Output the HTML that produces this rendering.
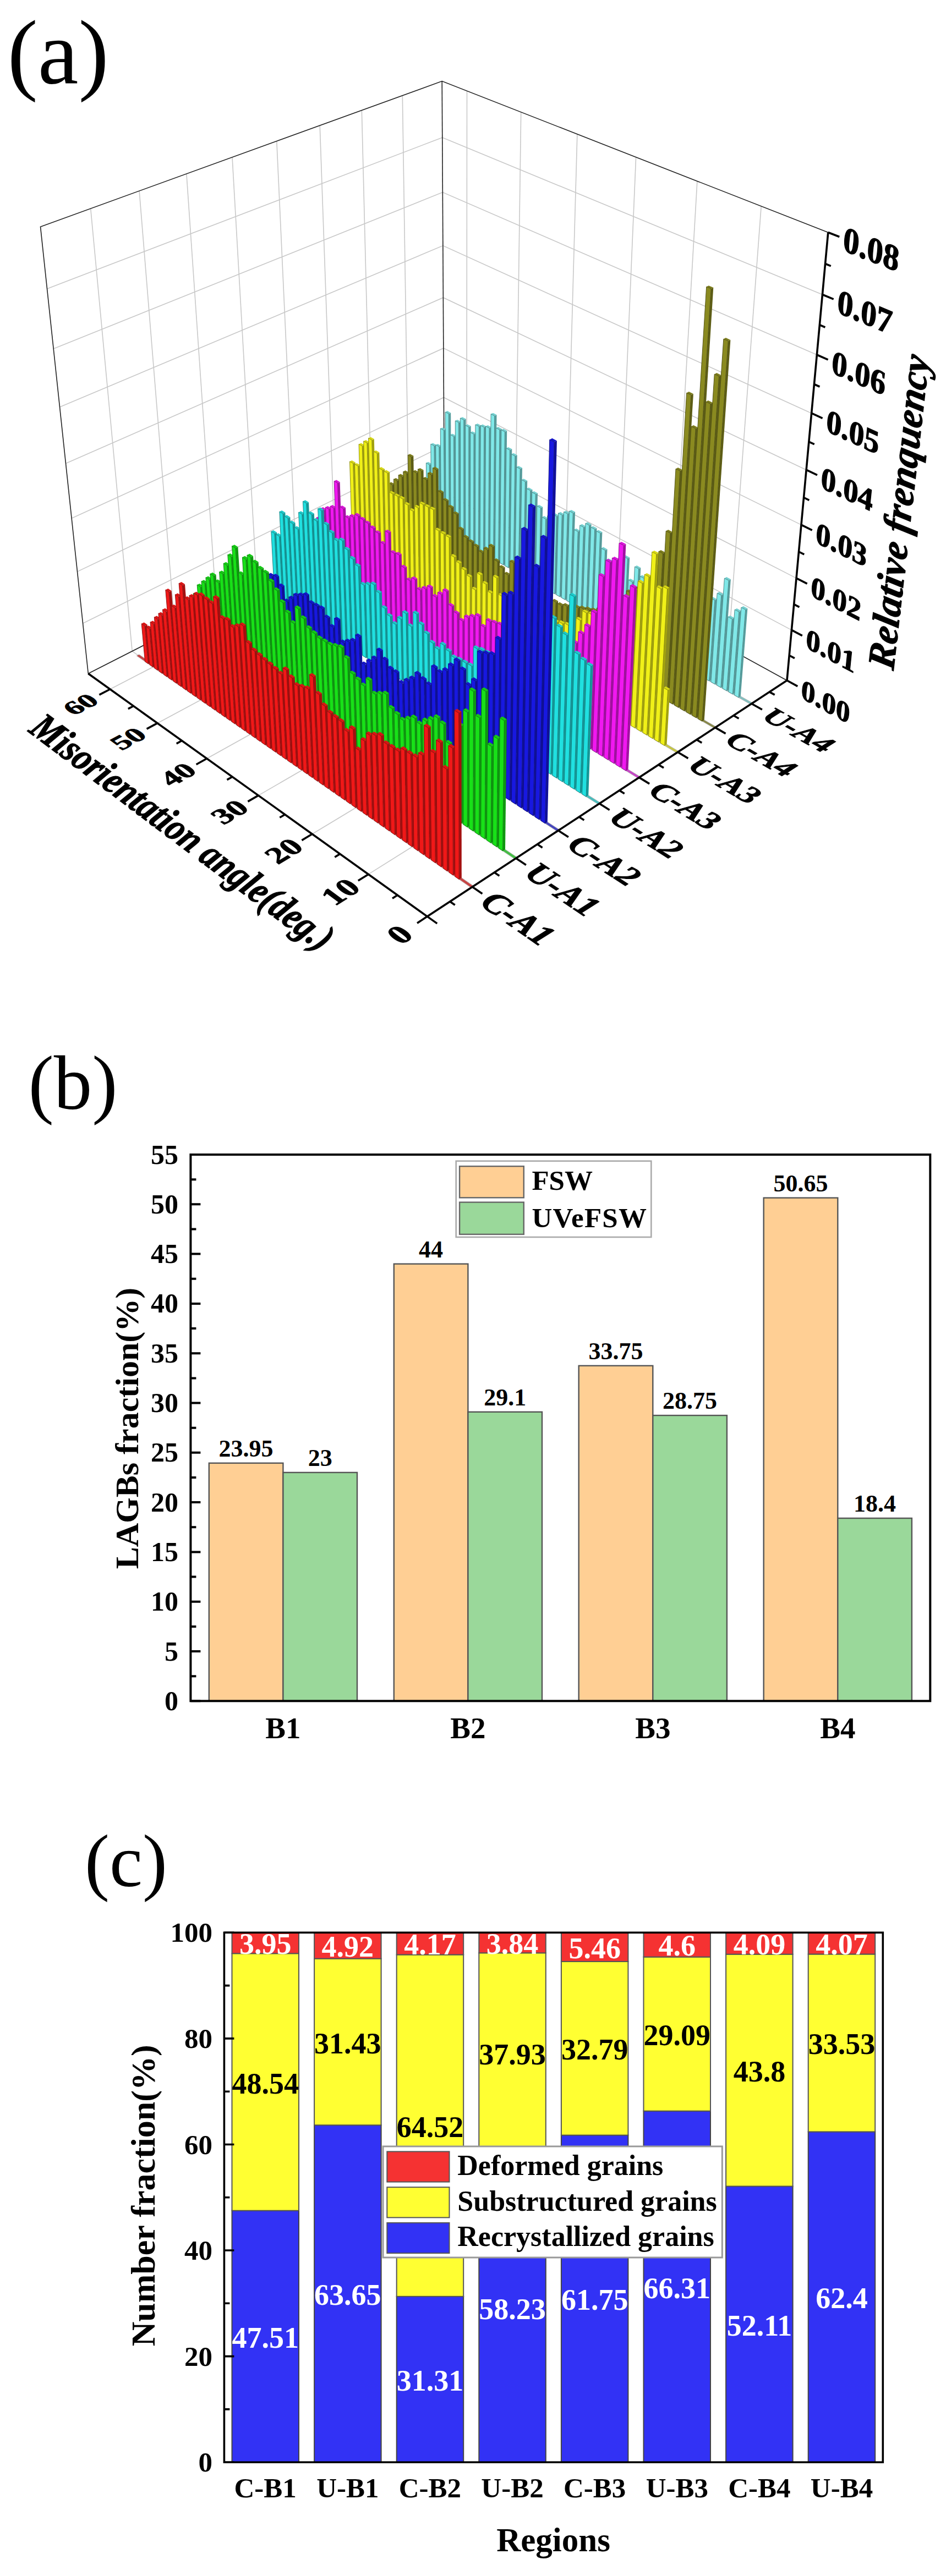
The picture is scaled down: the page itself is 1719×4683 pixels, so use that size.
<!DOCTYPE html>
<html><head><meta charset="utf-8"><title>Figure</title>
<style>html,body{margin:0;padding:0;background:#fff}svg{display:block}</style></head>
<body>
<svg width="1719" height="4683" viewBox="0 0 1719 4683">
<rect width="1719" height="4683" fill="#fff"/>
<g font-family="'Liberation Serif',serif" fill="#000">
<text x="13.5" y="151" font-size="166">(a)</text>
</g>
<g fill="none" stroke="#c8c8c8" stroke-width="1.6">
<path d="M240.2,1183.9 L164.7,379.1"/>
<path d="M317.9,1144.3 L253.1,347.1"/>
<path d="M393.5,1105.8 L338.9,316"/>
<path d="M467,1068.3 L422,285.8"/>
<path d="M538.7,1031.8 L502.8,256.6"/>
<path d="M608.4,996.2 L581.2,228.1"/>
<path d="M676.4,961.6 L657.3,200.5"/>
<path d="M742.7,927.9 L731.3,173.7"/>
<path d="M150.5,1133.2 L806.8,809.8 L1438.4,1145.4"/>
<path d="M140.5,1039.1 L806.4,722.5 L1447.1,1051.1"/>
<path d="M130.1,942.3 L805.9,632.9 L1456,954.1"/>
<path d="M119.5,842.6 L805.4,541 L1465.1,854.2"/>
<path d="M108.5,739.9 L804.9,446.6 L1474.6,751.2"/>
<path d="M97.2,634 L804.3,349.6 L1484.4,645"/>
<path d="M85.5,524.9 L803.8,250 L1494.4,535.5"/>
<path d="M1323.4,1178.4 L1383.2,374.9"/>
<path d="M1220.9,1122.1 L1266.9,329.3"/>
<path d="M1122.3,1068 L1155.6,285.7"/>
<path d="M1027.4,1015.9 L1048.9,243.9"/>
<path d="M936.1,965.7 L946.7,203.8"/>
<path d="M848,917.3 L848.5,165.4"/>
<path d="M669.4,1589.4 L1323.4,1178.4"/>
<path d="M567.2,1516.2 L1220.9,1122.1"/>
<path d="M469.4,1446.1 L1122.3,1068"/>
<path d="M375.8,1379 L1027.4,1015.9"/>
<path d="M286,1314.7 L936.1,965.7"/>
<path d="M199.9,1253 L848,917.3"/>
<path d="M858.3,1612.3 L240.2,1183.9"/>
<path d="M937.6,1560.3 L317.9,1144.3"/>
<path d="M1014.5,1509.8 L393.5,1105.8"/>
<path d="M1089,1460.8 L467,1068.3"/>
<path d="M1161.3,1413.4 L538.7,1031.8"/>
<path d="M1231.5,1367.3 L608.4,996.2"/>
<path d="M1299.6,1322.6 L676.4,961.6"/>
<path d="M1365.7,1279.2 L742.7,927.9"/>
</g>
<g fill="none" stroke="#222" stroke-width="1.6">
<path d="M160.3,1224.5 L73.5,412.2 L803.2,147.6 L1504.8,422.5"/>
<path d="M807.3,894.9 L803.2,147.6"/>
<path d="M160.3,1224.5 L807.3,894.9 L1430,1237"/>
</g>
<path d="M1363.9,1280.4 L751.5,934.8 L755.2,932.9 L1367.5,1278Z" fill="#66b9b9" stroke="#888" stroke-width="0.8" opacity="0.75"/>
<g stroke-linejoin="round"><path d="M781.5,951.7 L785.2,949.8 L784.3,843.1 L780.5,844.9Z" fill="#579d9d"/><path d="M780.5,844.9 L774.4,841.6 L778.1,839.8 L784.3,843.1Z" fill="#73d0d0"/><path d="M781.5,951.7 L775.5,948.3 L774.4,841.6 L780.5,844.9Z" fill="#80e8e8" stroke="#467f7f" stroke-width="0.9"/><path d="M790.2,956.6 L793.9,954.7 L792.8,808.7 L789,810.5Z" fill="#579d9d"/><path d="M789,810.5 L782.8,807.2 L786.6,805.4 L792.8,808.7Z" fill="#73d0d0"/><path d="M790.2,956.6 L784.1,953.2 L782.8,807.2 L789,810.5Z" fill="#80e8e8" stroke="#467f7f" stroke-width="0.9"/><path d="M798.9,961.5 L802.6,959.6 L801.6,810.2 L797.9,812Z" fill="#579d9d"/><path d="M797.9,812 L791.7,808.7 L795.4,806.9 L801.6,810.2Z" fill="#73d0d0"/><path d="M798.9,961.5 L792.8,958.1 L791.7,808.7 L797.9,812Z" fill="#80e8e8" stroke="#467f7f" stroke-width="0.9"/><path d="M807.6,966.5 L811.3,964.5 L810.4,780.5 L806.6,782.3Z" fill="#579d9d"/><path d="M806.6,782.3 L800.3,779 L804.1,777.2 L810.4,780.5Z" fill="#73d0d0"/><path d="M807.6,966.5 L801.5,963 L800.3,779 L806.6,782.3Z" fill="#80e8e8" stroke="#467f7f" stroke-width="0.9"/><path d="M816.4,971.4 L820,969.5 L819.2,750.4 L815.4,752.2Z" fill="#579d9d"/><path d="M815.4,752.2 L809.1,749 L812.9,747.1 L819.2,750.4Z" fill="#73d0d0"/><path d="M816.4,971.4 L810.2,967.9 L809.1,749 L815.4,752.2Z" fill="#80e8e8" stroke="#467f7f" stroke-width="0.9"/><path d="M825.1,976.3 L828.8,974.4 L828.4,791.7 L824.6,793.6Z" fill="#579d9d"/><path d="M824.6,793.6 L818.3,790.3 L822.1,788.4 L828.4,791.7Z" fill="#73d0d0"/><path d="M825.1,976.3 L819,972.9 L818.3,790.3 L824.6,793.6Z" fill="#80e8e8" stroke="#467f7f" stroke-width="0.9"/><path d="M833.9,981.3 L837.6,979.4 L837.4,766.4 L833.6,768.2Z" fill="#579d9d"/><path d="M833.6,768.2 L827.3,764.9 L831,763.1 L837.4,766.4Z" fill="#73d0d0"/><path d="M833.9,981.3 L827.8,977.8 L827.3,764.9 L833.6,768.2Z" fill="#80e8e8" stroke="#467f7f" stroke-width="0.9"/><path d="M842.8,986.3 L846.5,984.4 L846.6,761.6 L842.8,763.4Z" fill="#579d9d"/><path d="M842.8,763.4 L836.4,760.1 L840.2,758.3 L846.6,761.6Z" fill="#73d0d0"/><path d="M842.8,986.3 L836.6,982.8 L836.4,760.1 L842.8,763.4Z" fill="#80e8e8" stroke="#467f7f" stroke-width="0.9"/><path d="M851.7,991.3 L855.3,989.4 L855.7,774.5 L851.9,776.4Z" fill="#579d9d"/><path d="M851.9,776.4 L845.5,773.1 L849.3,771.2 L855.7,774.5Z" fill="#73d0d0"/><path d="M851.7,991.3 L845.5,987.8 L845.5,773.1 L851.9,776.4Z" fill="#80e8e8" stroke="#467f7f" stroke-width="0.9"/><path d="M860.6,996.4 L864.3,994.4 L864.9,787.5 L861.1,789.4Z" fill="#579d9d"/><path d="M861.1,789.4 L854.7,786 L858.5,784.2 L864.9,787.5Z" fill="#73d0d0"/><path d="M860.6,996.4 L854.3,992.8 L854.7,786 L861.1,789.4Z" fill="#80e8e8" stroke="#467f7f" stroke-width="0.9"/><path d="M869.5,1001.4 L873.2,999.4 L874.2,773.4 L870.4,775.2Z" fill="#579d9d"/><path d="M870.4,775.2 L863.9,771.9 L867.7,770 L874.2,773.4Z" fill="#73d0d0"/><path d="M869.5,1001.4 L863.3,997.9 L863.9,771.9 L870.4,775.2Z" fill="#80e8e8" stroke="#467f7f" stroke-width="0.9"/><path d="M878.5,1006.5 L882.2,1004.5 L883.5,774.9 L879.7,776.8Z" fill="#579d9d"/><path d="M879.7,776.8 L873.2,773.4 L877,771.5 L883.5,774.9Z" fill="#73d0d0"/><path d="M878.5,1006.5 L872.2,1002.9 L873.2,773.4 L879.7,776.8Z" fill="#80e8e8" stroke="#467f7f" stroke-width="0.9"/><path d="M887.5,1011.6 L891.2,1009.6 L892.9,776.4 L889.1,778.3Z" fill="#579d9d"/><path d="M889.1,778.3 L882.5,774.9 L886.3,773 L892.9,776.4Z" fill="#73d0d0"/><path d="M887.5,1011.6 L881.2,1008 L882.5,774.9 L889.1,778.3Z" fill="#80e8e8" stroke="#467f7f" stroke-width="0.9"/><path d="M896.6,1016.7 L900.3,1014.7 L902.5,754.1 L898.7,756Z" fill="#579d9d"/><path d="M898.7,756 L892.1,752.6 L895.9,750.8 L902.5,754.1Z" fill="#73d0d0"/><path d="M896.6,1016.7 L890.2,1013.1 L892.1,752.6 L898.7,756Z" fill="#80e8e8" stroke="#467f7f" stroke-width="0.9"/><path d="M905.7,1021.8 L909.3,1019.8 L911.7,779.4 L907.9,781.3Z" fill="#579d9d"/><path d="M907.9,781.3 L901.3,777.9 L905.1,776 L911.7,779.4Z" fill="#73d0d0"/><path d="M905.7,1021.8 L899.3,1018.2 L901.3,777.9 L907.9,781.3Z" fill="#80e8e8" stroke="#467f7f" stroke-width="0.9"/><path d="M914.8,1026.9 L918.5,1024.9 L921.2,783 L917.4,784.9Z" fill="#579d9d"/><path d="M917.4,784.9 L910.8,781.5 L914.6,779.6 L921.2,783Z" fill="#73d0d0"/><path d="M914.8,1026.9 L908.4,1023.3 L910.8,781.5 L917.4,784.9Z" fill="#80e8e8" stroke="#467f7f" stroke-width="0.9"/><path d="M923.9,1032.1 L927.6,1030.1 L930.3,816.3 L926.5,818.3Z" fill="#579d9d"/><path d="M926.5,818.3 L919.9,814.8 L923.7,812.9 L930.3,816.3Z" fill="#73d0d0"/><path d="M923.9,1032.1 L917.5,1028.5 L919.9,814.8 L926.5,818.3Z" fill="#80e8e8" stroke="#467f7f" stroke-width="0.9"/><path d="M933.1,1037.3 L936.8,1035.3 L939.7,827.2 L935.9,829.1Z" fill="#579d9d"/><path d="M935.9,829.1 L929.3,825.6 L933.1,823.7 L939.7,827.2Z" fill="#73d0d0"/><path d="M933.1,1037.3 L926.7,1033.6 L929.3,825.6 L935.9,829.1Z" fill="#80e8e8" stroke="#467f7f" stroke-width="0.9"/><path d="M942.3,1042.5 L946,1040.5 L949,850.5 L945.2,852.4Z" fill="#579d9d"/><path d="M945.2,852.4 L938.5,848.9 L942.3,847 L949,850.5Z" fill="#73d0d0"/><path d="M942.3,1042.5 L935.9,1038.8 L938.5,848.9 L945.2,852.4Z" fill="#80e8e8" stroke="#467f7f" stroke-width="0.9"/><path d="M951.6,1047.7 L955.3,1045.7 L958.2,873.8 L954.4,875.7Z" fill="#579d9d"/><path d="M954.4,875.7 L947.8,872.2 L951.5,870.3 L958.2,873.8Z" fill="#73d0d0"/><path d="M951.6,1047.7 L945.1,1044 L947.8,872.2 L954.4,875.7Z" fill="#80e8e8" stroke="#467f7f" stroke-width="0.9"/><path d="M960.9,1052.9 L964.6,1050.9 L967.5,889.9 L963.8,891.8Z" fill="#579d9d"/><path d="M963.8,891.8 L957.1,888.3 L960.8,886.3 L967.5,889.9Z" fill="#73d0d0"/><path d="M960.9,1052.9 L954.4,1049.3 L957.1,888.3 L963.8,891.8Z" fill="#80e8e8" stroke="#467f7f" stroke-width="0.9"/><path d="M970.2,1058.2 L973.9,1056.2 L977,896.4 L973.3,898.4Z" fill="#579d9d"/><path d="M973.3,898.4 L966.6,894.9 L970.4,892.9 L977,896.4Z" fill="#73d0d0"/><path d="M970.2,1058.2 L963.7,1054.5 L966.6,894.9 L973.3,898.4Z" fill="#80e8e8" stroke="#467f7f" stroke-width="0.9"/><path d="M979.6,1063.5 L983.2,1061.4 L986.2,921.4 L982.5,923.4Z" fill="#579d9d"/><path d="M982.5,923.4 L975.8,919.8 L979.5,917.8 L986.2,921.4Z" fill="#73d0d0"/><path d="M979.6,1063.5 L973,1059.8 L975.8,919.8 L982.5,923.4Z" fill="#80e8e8" stroke="#467f7f" stroke-width="0.9"/><path d="M989,1068.8 L992.6,1066.7 L995.5,941.7 L991.7,943.7Z" fill="#579d9d"/><path d="M991.7,943.7 L985,940.1 L988.8,938.1 L995.5,941.7Z" fill="#73d0d0"/><path d="M989,1068.8 L982.4,1065.1 L985,940.1 L991.7,943.7Z" fill="#80e8e8" stroke="#467f7f" stroke-width="0.9"/><path d="M998.4,1074.1 L1002.1,1072 L1005.3,939.2 L1001.5,941.2Z" fill="#579d9d"/><path d="M1001.5,941.2 L994.8,937.6 L998.5,935.6 L1005.3,939.2Z" fill="#73d0d0"/><path d="M998.4,1074.1 L991.8,1070.4 L994.8,937.6 L1001.5,941.2Z" fill="#80e8e8" stroke="#467f7f" stroke-width="0.9"/><path d="M1007.9,1079.5 L1011.5,1077.4 L1015.2,936.7 L1011.4,938.7Z" fill="#579d9d"/><path d="M1011.4,938.7 L1004.6,935.1 L1008.4,933.1 L1015.2,936.7Z" fill="#73d0d0"/><path d="M1007.9,1079.5 L1001.2,1075.7 L1004.6,935.1 L1011.4,938.7Z" fill="#80e8e8" stroke="#467f7f" stroke-width="0.9"/><path d="M1017.4,1084.8 L1021.1,1082.7 L1025.1,934.4 L1021.3,936.4Z" fill="#579d9d"/><path d="M1021.3,936.4 L1014.5,932.8 L1018.3,930.8 L1025.1,934.4Z" fill="#73d0d0"/><path d="M1017.4,1084.8 L1010.7,1081.1 L1014.5,932.8 L1021.3,936.4Z" fill="#80e8e8" stroke="#467f7f" stroke-width="0.9"/><path d="M1026.9,1090.2 L1030.6,1088.1 L1035.1,932.1 L1031.3,934.1Z" fill="#579d9d"/><path d="M1031.3,934.1 L1024.5,930.5 L1028.2,928.4 L1035.1,932.1Z" fill="#73d0d0"/><path d="M1026.9,1090.2 L1020.2,1086.4 L1024.5,930.5 L1031.3,934.1Z" fill="#80e8e8" stroke="#467f7f" stroke-width="0.9"/><path d="M1036.5,1095.6 L1040.2,1093.5 L1045.1,930.6 L1041.3,932.7Z" fill="#579d9d"/><path d="M1041.3,932.7 L1034.4,929 L1038.2,927 L1045.1,930.6Z" fill="#73d0d0"/><path d="M1036.5,1095.6 L1029.8,1091.8 L1034.4,929 L1041.3,932.7Z" fill="#80e8e8" stroke="#467f7f" stroke-width="0.9"/><path d="M1046.1,1101 L1049.8,1098.9 L1054,964.5 L1050.3,966.5Z" fill="#579d9d"/><path d="M1050.3,966.5 L1043.4,962.8 L1047.2,960.8 L1054,964.5Z" fill="#73d0d0"/><path d="M1046.1,1101 L1039.4,1097.2 L1043.4,962.8 L1050.3,966.5Z" fill="#80e8e8" stroke="#467f7f" stroke-width="0.9"/><path d="M1055.8,1106.5 L1059.4,1104.4 L1064.3,956.5 L1060.6,958.6Z" fill="#579d9d"/><path d="M1060.6,958.6 L1053.7,954.9 L1057.4,952.8 L1064.3,956.5Z" fill="#73d0d0"/><path d="M1055.8,1106.5 L1049,1102.7 L1053.7,954.9 L1060.6,958.6Z" fill="#80e8e8" stroke="#467f7f" stroke-width="0.9"/><path d="M1065.5,1112 L1069.1,1109.8 L1074.6,953 L1070.8,955.1Z" fill="#579d9d"/><path d="M1070.8,955.1 L1063.9,951.3 L1067.6,949.3 L1074.6,953Z" fill="#73d0d0"/><path d="M1065.5,1112 L1058.7,1108.1 L1063.9,951.3 L1070.8,955.1Z" fill="#80e8e8" stroke="#467f7f" stroke-width="0.9"/><path d="M1075.2,1117.5 L1078.9,1115.3 L1084.5,960.1 L1080.7,962.2Z" fill="#579d9d"/><path d="M1080.7,962.2 L1073.7,958.4 L1077.5,956.4 L1084.5,960.1Z" fill="#73d0d0"/><path d="M1075.2,1117.5 L1068.4,1113.6 L1073.7,958.4 L1080.7,962.2Z" fill="#80e8e8" stroke="#467f7f" stroke-width="0.9"/><path d="M1085,1123 L1088.6,1120.8 L1094.4,967.2 L1090.7,969.3Z" fill="#579d9d"/><path d="M1090.7,969.3 L1083.7,965.5 L1087.4,963.5 L1094.4,967.2Z" fill="#73d0d0"/><path d="M1085,1123 L1078.1,1119.1 L1083.7,965.5 L1090.7,969.3Z" fill="#80e8e8" stroke="#467f7f" stroke-width="0.9"/><path d="M1094.8,1128.5 L1098.4,1126.3 L1103.5,998.4 L1099.7,1000.5Z" fill="#579d9d"/><path d="M1099.7,1000.5 L1092.7,996.7 L1096.4,994.6 L1103.5,998.4Z" fill="#73d0d0"/><path d="M1094.8,1128.5 L1087.9,1124.6 L1092.7,996.7 L1099.7,1000.5Z" fill="#80e8e8" stroke="#467f7f" stroke-width="0.9"/><path d="M1104.6,1134.1 L1108.3,1131.9 L1112.9,1019 L1109.2,1021.1Z" fill="#579d9d"/><path d="M1109.2,1021.1 L1102.1,1017.3 L1105.9,1015.2 L1112.9,1019Z" fill="#73d0d0"/><path d="M1104.6,1134.1 L1097.7,1130.2 L1102.1,1017.3 L1109.2,1021.1Z" fill="#80e8e8" stroke="#467f7f" stroke-width="0.9"/><path d="M1114.5,1139.6 L1118.2,1137.4 L1123.1,1020.7 L1119.4,1022.8Z" fill="#579d9d"/><path d="M1119.4,1022.8 L1112.3,1019 L1116.1,1016.9 L1123.1,1020.7Z" fill="#73d0d0"/><path d="M1114.5,1139.6 L1107.6,1135.7 L1112.3,1019 L1119.4,1022.8Z" fill="#80e8e8" stroke="#467f7f" stroke-width="0.9"/><path d="M1124.4,1145.2 L1128.1,1143 L1133.6,1017.1 L1129.9,1019.2Z" fill="#579d9d"/><path d="M1129.9,1019.2 L1122.8,1015.4 L1126.5,1013.2 L1133.6,1017.1Z" fill="#73d0d0"/><path d="M1124.4,1145.2 L1117.5,1141.3 L1122.8,1015.4 L1129.9,1019.2Z" fill="#80e8e8" stroke="#467f7f" stroke-width="0.9"/><path d="M1134.4,1150.8 L1138,1148.7 L1144.2,1013.4 L1140.5,1015.5Z" fill="#579d9d"/><path d="M1140.5,1015.5 L1133.3,1011.7 L1137.1,1009.6 L1144.2,1013.4Z" fill="#73d0d0"/><path d="M1134.4,1150.8 L1127.4,1146.9 L1133.3,1011.7 L1140.5,1015.5Z" fill="#80e8e8" stroke="#467f7f" stroke-width="0.9"/><path d="M1144.4,1156.5 L1148,1154.3 L1152.7,1055.7 L1149,1057.9Z" fill="#579d9d"/><path d="M1149,1057.9 L1141.8,1054 L1145.6,1051.9 L1152.7,1055.7Z" fill="#73d0d0"/><path d="M1144.4,1156.5 L1137.4,1152.5 L1141.8,1054 L1149,1057.9Z" fill="#80e8e8" stroke="#467f7f" stroke-width="0.9"/><path d="M1154.4,1162.2 L1158.1,1159.9 L1164.3,1031.9 L1160.6,1034Z" fill="#579d9d"/><path d="M1160.6,1034 L1153.4,1030.2 L1157.1,1028 L1164.3,1031.9Z" fill="#73d0d0"/><path d="M1154.4,1162.2 L1147.4,1158.2 L1153.4,1030.2 L1160.6,1034Z" fill="#80e8e8" stroke="#467f7f" stroke-width="0.9"/><path d="M1164.5,1167.8 L1168.2,1165.6 L1174,1049.3 L1170.3,1051.5Z" fill="#579d9d"/><path d="M1170.3,1051.5 L1163.1,1047.6 L1166.8,1045.4 L1174,1049.3Z" fill="#73d0d0"/><path d="M1164.5,1167.8 L1157.4,1163.9 L1163.1,1047.6 L1170.3,1051.5Z" fill="#80e8e8" stroke="#467f7f" stroke-width="0.9"/><path d="M1174.6,1173.6 L1178.3,1171.3 L1184.3,1056.2 L1180.5,1058.4Z" fill="#579d9d"/><path d="M1180.5,1058.4 L1173.3,1054.4 L1177,1052.3 L1184.3,1056.2Z" fill="#73d0d0"/><path d="M1174.6,1173.6 L1167.5,1169.6 L1173.3,1054.4 L1180.5,1058.4Z" fill="#80e8e8" stroke="#467f7f" stroke-width="0.9"/><path d="M1184.8,1179.3 L1188.4,1177 L1194.5,1063.1 L1190.8,1065.2Z" fill="#579d9d"/><path d="M1190.8,1065.2 L1183.6,1061.3 L1187.3,1059.1 L1194.5,1063.1Z" fill="#73d0d0"/><path d="M1184.8,1179.3 L1177.7,1175.3 L1183.6,1061.3 L1190.8,1065.2Z" fill="#80e8e8" stroke="#467f7f" stroke-width="0.9"/><path d="M1195,1185 L1198.6,1182.8 L1205.9,1051.1 L1202.2,1053.3Z" fill="#579d9d"/><path d="M1202.2,1053.3 L1194.9,1049.3 L1198.6,1047.2 L1205.9,1051.1Z" fill="#73d0d0"/><path d="M1195,1185 L1187.8,1181 L1194.9,1049.3 L1202.2,1053.3Z" fill="#80e8e8" stroke="#467f7f" stroke-width="0.9"/><path d="M1205.2,1190.8 L1208.9,1188.6 L1216,1062.5 L1212.3,1064.7Z" fill="#579d9d"/><path d="M1212.3,1064.7 L1205,1060.7 L1208.7,1058.5 L1216,1062.5Z" fill="#73d0d0"/><path d="M1205.2,1190.8 L1198,1186.8 L1205,1060.7 L1212.3,1064.7Z" fill="#80e8e8" stroke="#467f7f" stroke-width="0.9"/><path d="M1215.5,1196.6 L1219.2,1194.4 L1226.2,1073.9 L1222.5,1076.1Z" fill="#579d9d"/><path d="M1222.5,1076.1 L1215.1,1072.2 L1218.9,1070 L1226.2,1073.9Z" fill="#73d0d0"/><path d="M1215.5,1196.6 L1208.3,1192.6 L1215.1,1072.2 L1222.5,1076.1Z" fill="#80e8e8" stroke="#467f7f" stroke-width="0.9"/><path d="M1225.8,1202.4 L1229.5,1200.2 L1237.5,1066.9 L1233.8,1069.1Z" fill="#579d9d"/><path d="M1233.8,1069.1 L1226.4,1065.2 L1230.1,1062.9 L1237.5,1066.9Z" fill="#73d0d0"/><path d="M1225.8,1202.4 L1218.6,1198.4 L1226.4,1065.2 L1233.8,1069.1Z" fill="#80e8e8" stroke="#467f7f" stroke-width="0.9"/><path d="M1236.2,1208.3 L1239.8,1206 L1247.7,1079.3 L1243.9,1081.5Z" fill="#579d9d"/><path d="M1243.9,1081.5 L1236.5,1077.6 L1240.3,1075.3 L1247.7,1079.3Z" fill="#73d0d0"/><path d="M1236.2,1208.3 L1228.9,1204.2 L1236.5,1077.6 L1243.9,1081.5Z" fill="#80e8e8" stroke="#467f7f" stroke-width="0.9"/><path d="M1246.6,1214.2 L1250.3,1211.9 L1258.9,1076.3 L1255.1,1078.5Z" fill="#579d9d"/><path d="M1255.1,1078.5 L1247.7,1074.5 L1251.4,1072.3 L1258.9,1076.3Z" fill="#73d0d0"/><path d="M1246.6,1214.2 L1239.3,1210.1 L1247.7,1074.5 L1255.1,1078.5Z" fill="#80e8e8" stroke="#467f7f" stroke-width="0.9"/><path d="M1257,1220.1 L1260.7,1217.8 L1270.1,1073.3 L1266.4,1075.5Z" fill="#579d9d"/><path d="M1266.4,1075.5 L1258.9,1071.5 L1262.6,1069.3 L1270.1,1073.3Z" fill="#73d0d0"/><path d="M1257,1220.1 L1249.7,1215.9 L1258.9,1071.5 L1266.4,1075.5Z" fill="#80e8e8" stroke="#467f7f" stroke-width="0.9"/><path d="M1267.5,1226 L1271.2,1223.7 L1280.4,1085.8 L1276.7,1088Z" fill="#579d9d"/><path d="M1276.7,1088 L1269.2,1084 L1272.9,1081.7 L1280.4,1085.8Z" fill="#73d0d0"/><path d="M1267.5,1226 L1260.2,1221.8 L1269.2,1084 L1276.7,1088Z" fill="#80e8e8" stroke="#467f7f" stroke-width="0.9"/><path d="M1278.1,1231.9 L1281.7,1229.6 L1292.8,1068 L1289.1,1070.3Z" fill="#579d9d"/><path d="M1289.1,1070.3 L1281.5,1066.2 L1285.2,1064 L1292.8,1068Z" fill="#73d0d0"/><path d="M1278.1,1231.9 L1270.7,1227.8 L1281.5,1066.2 L1289.1,1070.3Z" fill="#80e8e8" stroke="#467f7f" stroke-width="0.9"/><path d="M1288.6,1237.9 L1292.3,1235.6 L1302.6,1089 L1298.9,1091.3Z" fill="#579d9d"/><path d="M1298.9,1091.3 L1291.3,1087.2 L1295,1085 L1302.6,1089Z" fill="#73d0d0"/><path d="M1288.6,1237.9 L1281.2,1233.7 L1291.3,1087.2 L1298.9,1091.3Z" fill="#80e8e8" stroke="#467f7f" stroke-width="0.9"/><path d="M1299.3,1243.9 L1302.9,1241.5 L1314.5,1080 L1310.8,1082.3Z" fill="#579d9d"/><path d="M1310.8,1082.3 L1303.2,1078.2 L1306.9,1076 L1314.5,1080Z" fill="#73d0d0"/><path d="M1299.3,1243.9 L1291.8,1239.7 L1303.2,1078.2 L1310.8,1082.3Z" fill="#80e8e8" stroke="#467f7f" stroke-width="0.9"/><path d="M1309.9,1249.9 L1313.6,1247.6 L1327.9,1053 L1324.2,1055.3Z" fill="#579d9d"/><path d="M1324.2,1055.3 L1316.4,1051.2 L1320.2,1049 L1327.9,1053Z" fill="#73d0d0"/><path d="M1309.9,1249.9 L1302.5,1245.7 L1316.4,1051.2 L1324.2,1055.3Z" fill="#80e8e8" stroke="#467f7f" stroke-width="0.9"/><path d="M1320.6,1255.9 L1324.3,1253.6 L1334.1,1123.1 L1330.4,1125.4Z" fill="#579d9d"/><path d="M1330.4,1125.4 L1322.7,1121.2 L1326.5,1118.9 L1334.1,1123.1Z" fill="#73d0d0"/><path d="M1320.6,1255.9 L1313.1,1251.7 L1322.7,1121.2 L1330.4,1125.4Z" fill="#80e8e8" stroke="#467f7f" stroke-width="0.9"/><path d="M1331.4,1262 L1335,1259.6 L1346.6,1110.1 L1342.9,1112.4Z" fill="#579d9d"/><path d="M1342.9,1112.4 L1335.1,1108.2 L1338.9,1105.9 L1346.6,1110.1Z" fill="#73d0d0"/><path d="M1331.4,1262 L1323.8,1257.8 L1335.1,1108.2 L1342.9,1112.4Z" fill="#80e8e8" stroke="#467f7f" stroke-width="0.9"/><path d="M1342.2,1268.1 L1345.8,1265.7 L1358.4,1106.1 L1354.7,1108.4Z" fill="#579d9d"/><path d="M1354.7,1108.4 L1346.9,1104.2 L1350.7,1101.9 L1358.4,1106.1Z" fill="#73d0d0"/><path d="M1342.2,1268.1 L1334.6,1263.8 L1346.9,1104.2 L1354.7,1108.4Z" fill="#80e8e8" stroke="#467f7f" stroke-width="0.9"/></g>
<path d="M1297.7,1323.8 L685.2,968.7 L688.9,966.8 L1301.4,1321.4Z" fill="#6e6e19" stroke="#888" stroke-width="0.8" opacity="0.75"/>
<g stroke-linejoin="round"><path d="M715.2,986.1 L718.9,984.2 L717,879.8 L713.1,881.7Z" fill="#5d5d15"/><path d="M713.1,881.7 L707,878.3 L710.8,876.4 L717,879.8Z" fill="#7c7c1c"/><path d="M715.2,986.1 L709.1,982.6 L707,878.3 L713.1,881.7Z" fill="#8a8a20" stroke="#4b4b11" stroke-width="0.9"/><path d="M723.8,991.1 L727.6,989.2 L725.5,872.4 L721.7,874.3Z" fill="#5d5d15"/><path d="M721.7,874.3 L715.5,870.9 L719.4,869 L725.5,872.4Z" fill="#7c7c1c"/><path d="M723.8,991.1 L717.8,987.6 L715.5,870.9 L721.7,874.3Z" fill="#8a8a20" stroke="#4b4b11" stroke-width="0.9"/><path d="M732.5,996.2 L736.3,994.2 L734.2,865 L730.3,866.9Z" fill="#5d5d15"/><path d="M730.3,866.9 L724.1,863.4 L728,861.5 L734.2,865Z" fill="#7c7c1c"/><path d="M732.5,996.2 L726.4,992.6 L724.1,863.4 L730.3,866.9Z" fill="#8a8a20" stroke="#4b4b11" stroke-width="0.9"/><path d="M741.2,1001.2 L745,999.2 L742.9,858.8 L739,860.7Z" fill="#5d5d15"/><path d="M739,860.7 L732.8,857.2 L736.6,855.3 L742.9,858.8Z" fill="#7c7c1c"/><path d="M741.2,1001.2 L735.1,997.7 L732.8,857.2 L739,860.7Z" fill="#8a8a20" stroke="#4b4b11" stroke-width="0.9"/><path d="M749.9,1006.3 L753.7,1004.3 L751.3,828.6 L747.4,830.5Z" fill="#5d5d15"/><path d="M747.4,830.5 L741.2,827.1 L745,825.2 L751.3,828.6Z" fill="#7c7c1c"/><path d="M749.9,1006.3 L743.8,1002.7 L741.2,827.1 L747.4,830.5Z" fill="#8a8a20" stroke="#4b4b11" stroke-width="0.9"/><path d="M758.7,1011.4 L762.5,1009.4 L760.6,858.1 L756.8,860Z" fill="#5d5d15"/><path d="M756.8,860 L750.5,856.5 L754.3,854.6 L760.6,858.1Z" fill="#7c7c1c"/><path d="M758.7,1011.4 L752.6,1007.8 L750.5,856.5 L756.8,860Z" fill="#8a8a20" stroke="#4b4b11" stroke-width="0.9"/><path d="M767.5,1016.5 L771.3,1014.5 L769.5,854.3 L765.7,856.3Z" fill="#5d5d15"/><path d="M765.7,856.3 L759.4,852.8 L763.2,850.9 L769.5,854.3Z" fill="#7c7c1c"/><path d="M767.5,1016.5 L761.4,1012.9 L759.4,852.8 L765.7,856.3Z" fill="#8a8a20" stroke="#4b4b11" stroke-width="0.9"/><path d="M776.4,1021.6 L780.1,1019.6 L778.7,870.4 L774.8,872.4Z" fill="#5d5d15"/><path d="M774.8,872.4 L768.5,868.9 L772.4,867 L778.7,870.4Z" fill="#7c7c1c"/><path d="M776.4,1021.6 L770.2,1018 L768.5,868.9 L774.8,872.4Z" fill="#8a8a20" stroke="#4b4b11" stroke-width="0.9"/><path d="M785.2,1026.7 L789,1024.7 L787.6,861.3 L783.8,863.2Z" fill="#5d5d15"/><path d="M783.8,863.2 L777.4,859.8 L781.3,857.8 L787.6,861.3Z" fill="#7c7c1c"/><path d="M785.2,1026.7 L779,1023.1 L777.4,859.8 L783.8,863.2Z" fill="#8a8a20" stroke="#4b4b11" stroke-width="0.9"/><path d="M794.1,1031.9 L797.9,1029.9 L796.7,852.1 L792.8,854Z" fill="#5d5d15"/><path d="M792.8,854 L786.4,850.5 L790.3,848.6 L796.7,852.1Z" fill="#7c7c1c"/><path d="M794.1,1031.9 L787.9,1028.3 L786.4,850.5 L792.8,854Z" fill="#8a8a20" stroke="#4b4b11" stroke-width="0.9"/><path d="M803.1,1037.1 L806.8,1035.1 L806.1,893.8 L802.2,895.7Z" fill="#5d5d15"/><path d="M802.2,895.7 L795.8,892.2 L799.7,890.3 L806.1,893.8Z" fill="#7c7c1c"/><path d="M803.1,1037.1 L796.8,1033.5 L795.8,892.2 L802.2,895.7Z" fill="#8a8a20" stroke="#4b4b11" stroke-width="0.9"/><path d="M812,1042.3 L815.8,1040.3 L815.3,908.9 L811.4,910.8Z" fill="#5d5d15"/><path d="M811.4,910.8 L805,907.3 L808.8,905.3 L815.3,908.9Z" fill="#7c7c1c"/><path d="M812,1042.3 L805.8,1038.6 L805,907.3 L811.4,910.8Z" fill="#8a8a20" stroke="#4b4b11" stroke-width="0.9"/><path d="M821.1,1047.5 L824.8,1045.5 L824.5,921 L820.6,922.9Z" fill="#5d5d15"/><path d="M820.6,922.9 L814.2,919.4 L818,917.4 L824.5,921Z" fill="#7c7c1c"/><path d="M821.1,1047.5 L814.7,1043.8 L814.2,919.4 L820.6,922.9Z" fill="#8a8a20" stroke="#4b4b11" stroke-width="0.9"/><path d="M830.1,1052.7 L833.9,1050.7 L833.7,933.1 L829.9,935.1Z" fill="#5d5d15"/><path d="M829.9,935.1 L823.4,931.5 L827.2,929.5 L833.7,933.1Z" fill="#7c7c1c"/><path d="M830.1,1052.7 L823.8,1049.1 L823.4,931.5 L829.9,935.1Z" fill="#8a8a20" stroke="#4b4b11" stroke-width="0.9"/><path d="M839.2,1058 L842.9,1056 L842.9,960.9 L839.1,962.9Z" fill="#5d5d15"/><path d="M839.1,962.9 L832.7,959.3 L836.5,957.3 L842.9,960.9Z" fill="#7c7c1c"/><path d="M839.2,1058 L832.8,1054.3 L832.7,959.3 L839.1,962.9Z" fill="#8a8a20" stroke="#4b4b11" stroke-width="0.9"/><path d="M848.3,1063.3 L852.1,1061.2 L852.2,975.9 L848.3,977.9Z" fill="#5d5d15"/><path d="M848.3,977.9 L841.9,974.2 L845.7,972.2 L852.2,975.9Z" fill="#7c7c1c"/><path d="M848.3,1063.3 L841.9,1059.6 L841.9,974.2 L848.3,977.9Z" fill="#8a8a20" stroke="#4b4b11" stroke-width="0.9"/><path d="M857.4,1068.6 L861.2,1066.5 L861.4,983.8 L857.6,985.9Z" fill="#5d5d15"/><path d="M857.6,985.9 L851.1,982.2 L854.9,980.2 L861.4,983.8Z" fill="#7c7c1c"/><path d="M857.4,1068.6 L851,1064.9 L851.1,982.2 L857.6,985.9Z" fill="#8a8a20" stroke="#4b4b11" stroke-width="0.9"/><path d="M866.6,1073.9 L870.4,1071.8 L870.7,991.8 L866.9,993.9Z" fill="#5d5d15"/><path d="M866.9,993.9 L860.4,990.2 L864.2,988.2 L870.7,991.8Z" fill="#7c7c1c"/><path d="M866.6,1073.9 L860.2,1070.2 L860.4,990.2 L866.9,993.9Z" fill="#8a8a20" stroke="#4b4b11" stroke-width="0.9"/><path d="M875.8,1079.3 L879.6,1077.2 L880,1002.6 L876.2,1004.7Z" fill="#5d5d15"/><path d="M876.2,1004.7 L869.7,1001 L873.5,998.9 L880,1002.6Z" fill="#7c7c1c"/><path d="M875.8,1079.3 L869.4,1075.5 L869.7,1001 L876.2,1004.7Z" fill="#8a8a20" stroke="#4b4b11" stroke-width="0.9"/><path d="M885.1,1084.6 L888.9,1082.5 L889.4,997.5 L885.6,999.5Z" fill="#5d5d15"/><path d="M885.6,999.5 L879.1,995.8 L882.9,993.8 L889.4,997.5Z" fill="#7c7c1c"/><path d="M885.1,1084.6 L878.6,1080.9 L879.1,995.8 L885.6,999.5Z" fill="#8a8a20" stroke="#4b4b11" stroke-width="0.9"/><path d="M894.4,1090 L898.1,1087.9 L898.9,992.3 L895.1,994.3Z" fill="#5d5d15"/><path d="M895.1,994.3 L888.5,990.6 L892.3,988.6 L898.9,992.3Z" fill="#7c7c1c"/><path d="M894.4,1090 L887.9,1086.2 L888.5,990.6 L895.1,994.3Z" fill="#8a8a20" stroke="#4b4b11" stroke-width="0.9"/><path d="M903.7,1095.4 L907.5,1093.3 L908.2,1018.7 L904.4,1020.8Z" fill="#5d5d15"/><path d="M904.4,1020.8 L897.8,1017.1 L901.6,1015 L908.2,1018.7Z" fill="#7c7c1c"/><path d="M903.7,1095.4 L897.2,1091.6 L897.8,1017.1 L904.4,1020.8Z" fill="#8a8a20" stroke="#4b4b11" stroke-width="0.9"/><path d="M913.1,1100.8 L916.8,1098.7 L917.6,1031 L913.8,1033.1Z" fill="#5d5d15"/><path d="M913.8,1033.1 L907.1,1029.3 L911,1027.2 L917.6,1031Z" fill="#7c7c1c"/><path d="M913.1,1100.8 L906.5,1097 L907.1,1029.3 L913.8,1033.1Z" fill="#8a8a20" stroke="#4b4b11" stroke-width="0.9"/><path d="M922.4,1106.3 L926.2,1104.2 L927,1043.3 L923.2,1045.4Z" fill="#5d5d15"/><path d="M923.2,1045.4 L916.5,1041.6 L920.3,1039.5 L927,1043.3Z" fill="#7c7c1c"/><path d="M922.4,1106.3 L915.9,1102.5 L916.5,1041.6 L923.2,1045.4Z" fill="#8a8a20" stroke="#4b4b11" stroke-width="0.9"/><path d="M931.9,1111.8 L935.7,1109.6 L936.9,1021.1 L933.1,1023.2Z" fill="#5d5d15"/><path d="M933.1,1023.2 L926.4,1019.5 L930.2,1017.4 L936.9,1021.1Z" fill="#7c7c1c"/><path d="M931.9,1111.8 L925.3,1107.9 L926.4,1019.5 L933.1,1023.2Z" fill="#8a8a20" stroke="#4b4b11" stroke-width="0.9"/><path d="M941.3,1117.2 L945.1,1115.1 L946.4,1032 L942.6,1034.1Z" fill="#5d5d15"/><path d="M942.6,1034.1 L935.9,1030.4 L939.7,1028.3 L946.4,1032Z" fill="#7c7c1c"/><path d="M941.3,1117.2 L934.7,1113.4 L935.9,1030.4 L942.6,1034.1Z" fill="#8a8a20" stroke="#4b4b11" stroke-width="0.9"/><path d="M950.9,1122.8 L954.6,1120.6 L956,1043 L952.1,1045.1Z" fill="#5d5d15"/><path d="M952.1,1045.1 L945.4,1041.3 L949.2,1039.2 L956,1043Z" fill="#7c7c1c"/><path d="M950.9,1122.8 L944.2,1118.9 L945.4,1041.3 L952.1,1045.1Z" fill="#8a8a20" stroke="#4b4b11" stroke-width="0.9"/><path d="M960.4,1128.3 L964.2,1126.1 L965.5,1053.3 L961.7,1055.4Z" fill="#5d5d15"/><path d="M961.7,1055.4 L954.9,1051.6 L958.8,1049.4 L965.5,1053.3Z" fill="#7c7c1c"/><path d="M960.4,1128.3 L953.7,1124.4 L954.9,1051.6 L961.7,1055.4Z" fill="#8a8a20" stroke="#4b4b11" stroke-width="0.9"/><path d="M970,1133.8 L973.7,1131.7 L975.1,1063.6 L971.3,1065.7Z" fill="#5d5d15"/><path d="M971.3,1065.7 L964.5,1061.9 L968.3,1059.7 L975.1,1063.6Z" fill="#7c7c1c"/><path d="M970,1133.8 L963.3,1130 L964.5,1061.9 L971.3,1065.7Z" fill="#8a8a20" stroke="#4b4b11" stroke-width="0.9"/><path d="M979.6,1139.4 L983.4,1137.2 L984.8,1072 L981,1074.1Z" fill="#5d5d15"/><path d="M981,1074.1 L974.2,1070.3 L978,1068.1 L984.8,1072Z" fill="#7c7c1c"/><path d="M979.6,1139.4 L972.9,1135.5 L974.2,1070.3 L981,1074.1Z" fill="#8a8a20" stroke="#4b4b11" stroke-width="0.9"/><path d="M989.3,1145 L993,1142.8 L994.5,1080.4 L990.7,1082.5Z" fill="#5d5d15"/><path d="M990.7,1082.5 L983.8,1078.7 L987.6,1076.5 L994.5,1080.4Z" fill="#7c7c1c"/><path d="M989.3,1145 L982.5,1141.1 L983.8,1078.7 L990.7,1082.5Z" fill="#8a8a20" stroke="#4b4b11" stroke-width="0.9"/><path d="M998.9,1150.6 L1002.7,1148.4 L1004.2,1086.5 L1000.4,1088.6Z" fill="#5d5d15"/><path d="M1000.4,1088.6 L993.6,1084.8 L997.4,1082.6 L1004.2,1086.5Z" fill="#7c7c1c"/><path d="M998.9,1150.6 L992.2,1146.7 L993.6,1084.8 L1000.4,1088.6Z" fill="#8a8a20" stroke="#4b4b11" stroke-width="0.9"/><path d="M1008.7,1156.3 L1012.4,1154.1 L1014.1,1092.6 L1010.2,1094.8Z" fill="#5d5d15"/><path d="M1010.2,1094.8 L1003.4,1090.9 L1007.2,1088.7 L1014.1,1092.6Z" fill="#7c7c1c"/><path d="M1008.7,1156.3 L1001.9,1152.3 L1003.4,1090.9 L1010.2,1094.8Z" fill="#8a8a20" stroke="#4b4b11" stroke-width="0.9"/><path d="M1018.4,1161.9 L1022.2,1159.7 L1023.9,1098.7 L1020.1,1100.9Z" fill="#5d5d15"/><path d="M1020.1,1100.9 L1013.2,1097 L1017,1094.8 L1023.9,1098.7Z" fill="#7c7c1c"/><path d="M1018.4,1161.9 L1011.6,1158 L1013.2,1097 L1020.1,1100.9Z" fill="#8a8a20" stroke="#4b4b11" stroke-width="0.9"/><path d="M1028.3,1167.6 L1032,1165.4 L1033.9,1100.1 L1030.1,1102.3Z" fill="#5d5d15"/><path d="M1030.1,1102.3 L1023.2,1098.4 L1027,1096.2 L1033.9,1100.1Z" fill="#7c7c1c"/><path d="M1028.3,1167.6 L1021.4,1163.6 L1023.2,1098.4 L1030.1,1102.3Z" fill="#8a8a20" stroke="#4b4b11" stroke-width="0.9"/><path d="M1038.1,1173.3 L1041.9,1171.1 L1044,1101.6 L1040.2,1103.8Z" fill="#5d5d15"/><path d="M1040.2,1103.8 L1033.2,1099.8 L1037,1097.6 L1044,1101.6Z" fill="#7c7c1c"/><path d="M1038.1,1173.3 L1031.2,1169.3 L1033.2,1099.8 L1040.2,1103.8Z" fill="#8a8a20" stroke="#4b4b11" stroke-width="0.9"/><path d="M1048,1179.1 L1051.8,1176.8 L1054.1,1103 L1050.3,1105.2Z" fill="#5d5d15"/><path d="M1050.3,1105.2 L1043.3,1101.2 L1047.1,1099 L1054.1,1103Z" fill="#7c7c1c"/><path d="M1048,1179.1 L1041.1,1175.1 L1043.3,1101.2 L1050.3,1105.2Z" fill="#8a8a20" stroke="#4b4b11" stroke-width="0.9"/><path d="M1057.9,1184.8 L1061.7,1182.6 L1064.3,1104.8 L1060.5,1107Z" fill="#5d5d15"/><path d="M1060.5,1107 L1053.5,1103 L1057.3,1100.8 L1064.3,1104.8Z" fill="#7c7c1c"/><path d="M1057.9,1184.8 L1051,1180.8 L1053.5,1103 L1060.5,1107Z" fill="#8a8a20" stroke="#4b4b11" stroke-width="0.9"/><path d="M1067.9,1190.6 L1071.7,1188.3 L1074.6,1106.5 L1070.7,1108.8Z" fill="#5d5d15"/><path d="M1070.7,1108.8 L1063.7,1104.8 L1067.5,1102.6 L1074.6,1106.5Z" fill="#7c7c1c"/><path d="M1067.9,1190.6 L1060.9,1186.6 L1063.7,1104.8 L1070.7,1108.8Z" fill="#8a8a20" stroke="#4b4b11" stroke-width="0.9"/><path d="M1077.9,1196.4 L1081.7,1194.1 L1084.8,1108.3 L1081,1110.6Z" fill="#5d5d15"/><path d="M1081,1110.6 L1073.9,1106.6 L1077.7,1104.4 L1084.8,1108.3Z" fill="#7c7c1c"/><path d="M1077.9,1196.4 L1070.9,1192.3 L1073.9,1106.6 L1081,1110.6Z" fill="#8a8a20" stroke="#4b4b11" stroke-width="0.9"/><path d="M1087.9,1202.2 L1091.7,1200 L1095.3,1107 L1091.5,1109.2Z" fill="#5d5d15"/><path d="M1091.5,1109.2 L1084.3,1105.2 L1088.2,1103 L1095.3,1107Z" fill="#7c7c1c"/><path d="M1087.9,1202.2 L1080.9,1198.1 L1084.3,1105.2 L1091.5,1109.2Z" fill="#8a8a20" stroke="#4b4b11" stroke-width="0.9"/><path d="M1098,1208.1 L1101.8,1205.8 L1105.8,1105.6 L1102,1107.8Z" fill="#5d5d15"/><path d="M1102,1107.8 L1094.8,1103.8 L1098.6,1101.6 L1105.8,1105.6Z" fill="#7c7c1c"/><path d="M1098,1208.1 L1091,1204 L1094.8,1103.8 L1102,1107.8Z" fill="#8a8a20" stroke="#4b4b11" stroke-width="0.9"/><path d="M1108.2,1213.9 L1111.9,1211.7 L1116.4,1104.2 L1112.6,1106.4Z" fill="#5d5d15"/><path d="M1112.6,1106.4 L1105.4,1102.4 L1109.2,1100.2 L1116.4,1104.2Z" fill="#7c7c1c"/><path d="M1108.2,1213.9 L1101.1,1209.8 L1105.4,1102.4 L1112.6,1106.4Z" fill="#8a8a20" stroke="#4b4b11" stroke-width="0.9"/><path d="M1118.3,1219.8 L1122.1,1217.5 L1127.4,1094.7 L1123.6,1096.9Z" fill="#5d5d15"/><path d="M1123.6,1096.9 L1116.3,1092.9 L1120.2,1090.7 L1127.4,1094.7Z" fill="#7c7c1c"/><path d="M1118.3,1219.8 L1111.2,1215.7 L1116.3,1092.9 L1123.6,1096.9Z" fill="#8a8a20" stroke="#4b4b11" stroke-width="0.9"/><path d="M1128.5,1225.8 L1132.3,1223.5 L1138.5,1085.1 L1134.7,1087.4Z" fill="#5d5d15"/><path d="M1134.7,1087.4 L1127.4,1083.3 L1131.2,1081.1 L1138.5,1085.1Z" fill="#7c7c1c"/><path d="M1128.5,1225.8 L1121.4,1221.6 L1127.4,1083.3 L1134.7,1087.4Z" fill="#8a8a20" stroke="#4b4b11" stroke-width="0.9"/><path d="M1138.8,1231.7 L1142.6,1229.4 L1149.7,1075.4 L1145.9,1077.7Z" fill="#5d5d15"/><path d="M1145.9,1077.7 L1138.5,1073.6 L1142.4,1071.4 L1149.7,1075.4Z" fill="#7c7c1c"/><path d="M1138.8,1231.7 L1131.6,1227.5 L1138.5,1073.6 L1145.9,1077.7Z" fill="#8a8a20" stroke="#4b4b11" stroke-width="0.9"/><path d="M1149.1,1237.7 L1152.8,1235.3 L1160.9,1068.6 L1157.1,1070.9Z" fill="#5d5d15"/><path d="M1157.1,1070.9 L1149.6,1066.8 L1153.5,1064.6 L1160.9,1068.6Z" fill="#7c7c1c"/><path d="M1149.1,1237.7 L1141.9,1233.5 L1149.6,1066.8 L1157.1,1070.9Z" fill="#8a8a20" stroke="#4b4b11" stroke-width="0.9"/><path d="M1159.4,1243.7 L1163.2,1241.3 L1172.2,1061.7 L1168.3,1064Z" fill="#5d5d15"/><path d="M1168.3,1064 L1160.8,1059.9 L1164.7,1057.7 L1172.2,1061.7Z" fill="#7c7c1c"/><path d="M1159.4,1243.7 L1152.2,1239.5 L1160.8,1059.9 L1168.3,1064Z" fill="#8a8a20" stroke="#4b4b11" stroke-width="0.9"/><path d="M1169.8,1249.7 L1173.6,1247.3 L1183.5,1055 L1179.6,1057.2Z" fill="#5d5d15"/><path d="M1179.6,1057.2 L1172.1,1053.2 L1176,1050.9 L1183.5,1055Z" fill="#7c7c1c"/><path d="M1169.8,1249.7 L1162.5,1245.5 L1172.1,1053.2 L1179.6,1057.2Z" fill="#8a8a20" stroke="#4b4b11" stroke-width="0.9"/><path d="M1180.2,1255.7 L1184,1253.4 L1196.1,1027 L1192.2,1029.3Z" fill="#5d5d15"/><path d="M1192.2,1029.3 L1184.6,1025.2 L1188.5,1023 L1196.1,1027Z" fill="#7c7c1c"/><path d="M1180.2,1255.7 L1172.9,1251.5 L1184.6,1025.2 L1192.2,1029.3Z" fill="#8a8a20" stroke="#4b4b11" stroke-width="0.9"/><path d="M1190.7,1261.8 L1194.4,1259.4 L1208.5,1004 L1204.6,1006.3Z" fill="#5d5d15"/><path d="M1204.6,1006.3 L1197,1002.2 L1200.9,1000 L1208.5,1004Z" fill="#7c7c1c"/><path d="M1190.7,1261.8 L1183.3,1257.5 L1197,1002.2 L1204.6,1006.3Z" fill="#8a8a20" stroke="#4b4b11" stroke-width="0.9"/><path d="M1201.2,1267.9 L1204.9,1265.5 L1221.9,967 L1218,969.2Z" fill="#5d5d15"/><path d="M1218,969.2 L1210.2,965.2 L1214.2,963 L1221.9,967Z" fill="#7c7c1c"/><path d="M1201.2,1267.9 L1193.8,1263.6 L1210.2,965.2 L1218,969.2Z" fill="#8a8a20" stroke="#4b4b11" stroke-width="0.9"/><path d="M1211.7,1274 L1215.5,1271.6 L1239.9,854 L1235.9,856.1Z" fill="#5d5d15"/><path d="M1235.9,856.1 L1228,852.2 L1232,850 L1239.9,854Z" fill="#7c7c1c"/><path d="M1211.7,1274 L1204.3,1269.7 L1228,852.2 L1235.9,856.1Z" fill="#8a8a20" stroke="#4b4b11" stroke-width="0.9"/><path d="M1222.3,1280.1 L1226.1,1277.7 L1259.9,715.9 L1255.9,718Z" fill="#5d5d15"/><path d="M1255.9,718 L1247.7,714.2 L1251.8,712.1 L1259.9,715.9Z" fill="#7c7c1c"/><path d="M1222.3,1280.1 L1214.9,1275.8 L1247.7,714.2 L1255.9,718Z" fill="#8a8a20" stroke="#4b4b11" stroke-width="0.9"/><path d="M1232.9,1286.3 L1236.7,1283.9 L1268.1,776.9 L1264.1,779.1Z" fill="#5d5d15"/><path d="M1264.1,779.1 L1256,775.2 L1260.1,773.1 L1268.1,776.9Z" fill="#7c7c1c"/><path d="M1232.9,1286.3 L1225.5,1282 L1256,775.2 L1264.1,779.1Z" fill="#8a8a20" stroke="#4b4b11" stroke-width="0.9"/><path d="M1243.6,1292.5 L1247.4,1290.1 L1296.3,522.8 L1292.1,524.8Z" fill="#5d5d15"/><path d="M1292.1,524.8 L1283.7,521.2 L1287.8,519.2 L1296.3,522.8Z" fill="#7c7c1c"/><path d="M1243.6,1292.5 L1236.1,1288.1 L1283.7,521.2 L1292.1,524.8Z" fill="#8a8a20" stroke="#4b4b11" stroke-width="0.9"/><path d="M1254.3,1298.7 L1258.1,1296.3 L1295.1,731.9 L1291,734.1Z" fill="#5d5d15"/><path d="M1291,734.1 L1282.8,730.2 L1286.8,728.1 L1295.1,731.9Z" fill="#7c7c1c"/><path d="M1254.3,1298.7 L1246.8,1294.3 L1282.8,730.2 L1291,734.1Z" fill="#8a8a20" stroke="#4b4b11" stroke-width="0.9"/><path d="M1265.1,1304.9 L1268.9,1302.5 L1310.6,681.9 L1306.5,684Z" fill="#5d5d15"/><path d="M1306.5,684 L1298.2,680.2 L1302.3,678.1 L1310.6,681.9Z" fill="#7c7c1c"/><path d="M1265.1,1304.9 L1257.6,1300.6 L1298.2,680.2 L1306.5,684Z" fill="#8a8a20" stroke="#4b4b11" stroke-width="0.9"/><path d="M1275.9,1311.2 L1279.7,1308.8 L1327.4,617.9 L1323.3,620Z" fill="#5d5d15"/><path d="M1323.3,620 L1314.8,616.2 L1318.9,614.1 L1327.4,617.9Z" fill="#7c7c1c"/><path d="M1275.9,1311.2 L1268.4,1306.8 L1314.8,616.2 L1323.3,620Z" fill="#8a8a20" stroke="#4b4b11" stroke-width="0.9"/></g>
<path d="M1229.5,1368.6 L617.1,1003.5 L621,1001.6 L1233.4,1366Z" fill="#c0c013" stroke="#888" stroke-width="0.8" opacity="0.75"/>
<g stroke-linejoin="round"><path d="M647.1,1021.4 L650.9,1019.4 L645.7,840.4 L641.7,842.4Z" fill="#a3a310"/><path d="M641.7,842.4 L635.5,838.9 L639.5,837 L645.7,840.4Z" fill="#d8d815"/><path d="M647.1,1021.4 L641,1017.8 L635.5,838.9 L641.7,842.4Z" fill="#f0f018" stroke="#84840d" stroke-width="0.9"/><path d="M655.7,1026.5 L659.6,1024.5 L654.5,845.4 L650.6,847.3Z" fill="#a3a310"/><path d="M650.6,847.3 L644.4,843.8 L648.3,841.9 L654.5,845.4Z" fill="#d8d815"/><path d="M655.7,1026.5 L649.6,1022.9 L644.4,843.8 L650.6,847.3Z" fill="#f0f018" stroke="#84840d" stroke-width="0.9"/><path d="M664.4,1031.7 L668.2,1029.7 L662.3,808.9 L658.3,810.8Z" fill="#a3a310"/><path d="M658.3,810.8 L652.1,807.4 L656.1,805.4 L662.3,808.9Z" fill="#d8d815"/><path d="M664.4,1031.7 L658.3,1028.1 L652.1,807.4 L658.3,810.8Z" fill="#f0f018" stroke="#84840d" stroke-width="0.9"/><path d="M673,1036.9 L676.9,1034.9 L671,803.4 L667,805.4Z" fill="#a3a310"/><path d="M667,805.4 L660.7,801.9 L664.8,800 L671,803.4Z" fill="#d8d815"/><path d="M673,1036.9 L667,1033.3 L660.7,801.9 L667,805.4Z" fill="#f0f018" stroke="#84840d" stroke-width="0.9"/><path d="M681.8,1042.1 L685.6,1040.1 L679.8,798 L675.8,799.9Z" fill="#a3a310"/><path d="M675.8,799.9 L669.5,796.4 L673.5,794.5 L679.8,798Z" fill="#d8d815"/><path d="M681.8,1042.1 L675.7,1038.4 L669.5,796.4 L675.8,799.9Z" fill="#f0f018" stroke="#84840d" stroke-width="0.9"/><path d="M690.5,1047.3 L694.4,1045.3 L689.3,822.2 L685.3,824.2Z" fill="#a3a310"/><path d="M685.3,824.2 L679,820.7 L683,818.8 L689.3,822.2Z" fill="#d8d815"/><path d="M690.5,1047.3 L684.4,1043.7 L679,820.7 L685.3,824.2Z" fill="#f0f018" stroke="#84840d" stroke-width="0.9"/><path d="M699.3,1052.5 L703.2,1050.5 L699,852.6 L695,854.6Z" fill="#a3a310"/><path d="M695,854.6 L688.6,851.1 L692.6,849.1 L699,852.6Z" fill="#d8d815"/><path d="M699.3,1052.5 L693.2,1048.9 L688.6,851.1 L695,854.6Z" fill="#f0f018" stroke="#84840d" stroke-width="0.9"/><path d="M708.2,1057.8 L712,1055.8 L708.1,858.1 L704.1,860.1Z" fill="#a3a310"/><path d="M704.1,860.1 L697.7,856.5 L701.7,854.6 L708.1,858.1Z" fill="#d8d815"/><path d="M708.2,1057.8 L702,1054.1 L697.7,856.5 L704.1,860.1Z" fill="#f0f018" stroke="#84840d" stroke-width="0.9"/><path d="M717,1063.1 L720.9,1061 L717.8,896 L713.8,898Z" fill="#a3a310"/><path d="M713.8,898 L707.5,894.5 L711.4,892.5 L717.8,896Z" fill="#d8d815"/><path d="M717,1063.1 L710.8,1059.4 L707.5,894.5 L713.8,898Z" fill="#f0f018" stroke="#84840d" stroke-width="0.9"/><path d="M725.9,1068.4 L729.8,1066.3 L726.9,900.6 L722.9,902.6Z" fill="#a3a310"/><path d="M722.9,902.6 L716.5,899 L720.5,897 L726.9,900.6Z" fill="#d8d815"/><path d="M725.9,1068.4 L719.7,1064.7 L716.5,899 L722.9,902.6Z" fill="#f0f018" stroke="#84840d" stroke-width="0.9"/><path d="M734.8,1073.7 L738.7,1071.6 L736,905.2 L732.1,907.2Z" fill="#a3a310"/><path d="M732.1,907.2 L725.7,903.6 L729.6,901.6 L736,905.2Z" fill="#d8d815"/><path d="M734.8,1073.7 L728.6,1070 L725.7,903.6 L732.1,907.2Z" fill="#f0f018" stroke="#84840d" stroke-width="0.9"/><path d="M743.8,1079.1 L747.7,1077 L745.3,916.3 L741.3,918.3Z" fill="#a3a310"/><path d="M741.3,918.3 L734.9,914.7 L738.9,912.6 L745.3,916.3Z" fill="#d8d815"/><path d="M743.8,1079.1 L737.5,1075.3 L734.9,914.7 L741.3,918.3Z" fill="#f0f018" stroke="#84840d" stroke-width="0.9"/><path d="M752.8,1084.4 L756.7,1082.3 L754.6,927.3 L750.6,929.4Z" fill="#a3a310"/><path d="M750.6,929.4 L744.2,925.7 L748.2,923.7 L754.6,927.3Z" fill="#d8d815"/><path d="M752.8,1084.4 L746.5,1080.7 L744.2,925.7 L750.6,929.4Z" fill="#f0f018" stroke="#84840d" stroke-width="0.9"/><path d="M761.8,1089.8 L765.7,1087.7 L763.7,921.4 L759.7,923.4Z" fill="#a3a310"/><path d="M759.7,923.4 L753.3,919.8 L757.2,917.7 L763.7,921.4Z" fill="#d8d815"/><path d="M761.8,1089.8 L755.5,1086 L753.3,919.8 L759.7,923.4Z" fill="#f0f018" stroke="#84840d" stroke-width="0.9"/><path d="M770.9,1095.2 L774.8,1093.1 L772.9,915.4 L768.9,917.4Z" fill="#a3a310"/><path d="M768.9,917.4 L762.4,913.8 L766.4,911.7 L772.9,915.4Z" fill="#d8d815"/><path d="M770.9,1095.2 L764.5,1091.4 L762.4,913.8 L768.9,917.4Z" fill="#f0f018" stroke="#84840d" stroke-width="0.9"/><path d="M780,1100.6 L783.9,1098.5 L782.2,920.1 L778.2,922.1Z" fill="#a3a310"/><path d="M778.2,922.1 L771.7,918.4 L775.7,916.4 L782.2,920.1Z" fill="#d8d815"/><path d="M780,1100.6 L773.6,1096.8 L771.7,918.4 L778.2,922.1Z" fill="#f0f018" stroke="#84840d" stroke-width="0.9"/><path d="M789.1,1106.1 L793,1104 L791.6,924.8 L787.6,926.8Z" fill="#a3a310"/><path d="M787.6,926.8 L781.1,923.2 L785,921.1 L791.6,924.8Z" fill="#d8d815"/><path d="M789.1,1106.1 L782.7,1102.3 L781.1,923.2 L787.6,926.8Z" fill="#f0f018" stroke="#84840d" stroke-width="0.9"/><path d="M798.3,1111.5 L802.2,1109.4 L801.2,963 L797.3,965Z" fill="#a3a310"/><path d="M797.3,965 L790.7,961.3 L794.7,959.3 L801.2,963Z" fill="#d8d815"/><path d="M798.3,1111.5 L791.9,1107.7 L790.7,961.3 L797.3,965Z" fill="#f0f018" stroke="#84840d" stroke-width="0.9"/><path d="M807.5,1117 L811.4,1114.9 L810.7,969 L806.7,971Z" fill="#a3a310"/><path d="M806.7,971 L800.1,967.3 L804.1,965.2 L810.7,969Z" fill="#d8d815"/><path d="M807.5,1117 L801.1,1113.2 L800.1,967.3 L806.7,971Z" fill="#f0f018" stroke="#84840d" stroke-width="0.9"/><path d="M816.8,1122.5 L820.6,1120.4 L820.1,975 L816.2,977Z" fill="#a3a310"/><path d="M816.2,977 L809.5,973.3 L813.5,971.2 L820.1,975Z" fill="#d8d815"/><path d="M816.8,1122.5 L810.3,1118.7 L809.5,973.3 L816.2,977Z" fill="#f0f018" stroke="#84840d" stroke-width="0.9"/><path d="M826,1128.1 L829.9,1125.9 L829.7,1010.9 L825.7,1013Z" fill="#a3a310"/><path d="M825.7,1013 L819.1,1009.2 L823.1,1007.1 L829.7,1010.9Z" fill="#d8d815"/><path d="M826,1128.1 L819.5,1124.2 L819.1,1009.2 L825.7,1013Z" fill="#f0f018" stroke="#84840d" stroke-width="0.9"/><path d="M835.4,1133.6 L839.2,1131.5 L839.2,1022 L835.2,1024.1Z" fill="#a3a310"/><path d="M835.2,1024.1 L828.6,1020.3 L832.5,1018.2 L839.2,1022Z" fill="#d8d815"/><path d="M835.4,1133.6 L828.8,1129.7 L828.6,1020.3 L835.2,1024.1Z" fill="#f0f018" stroke="#84840d" stroke-width="0.9"/><path d="M844.7,1139.2 L848.6,1137 L848.7,1034.4 L844.7,1036.6Z" fill="#a3a310"/><path d="M844.7,1036.6 L838.1,1032.8 L842,1030.6 L848.7,1034.4Z" fill="#d8d815"/><path d="M844.7,1139.2 L838.2,1135.3 L838.1,1032.8 L844.7,1036.6Z" fill="#f0f018" stroke="#84840d" stroke-width="0.9"/><path d="M854.1,1144.8 L858,1142.6 L858.2,1046.9 L854.3,1049Z" fill="#a3a310"/><path d="M854.3,1049 L847.6,1045.2 L851.5,1043.1 L858.2,1046.9Z" fill="#d8d815"/><path d="M854.1,1144.8 L847.5,1140.9 L847.6,1045.2 L854.3,1049Z" fill="#f0f018" stroke="#84840d" stroke-width="0.9"/><path d="M863.5,1150.4 L867.4,1148.2 L867.7,1070.4 L863.8,1072.5Z" fill="#a3a310"/><path d="M863.8,1072.5 L857.1,1068.7 L861,1066.5 L867.7,1070.4Z" fill="#d8d815"/><path d="M863.5,1150.4 L856.9,1146.5 L857.1,1068.7 L863.8,1072.5Z" fill="#f0f018" stroke="#84840d" stroke-width="0.9"/><path d="M873,1156.1 L876.9,1153.9 L877.4,1043.3 L873.5,1045.5Z" fill="#a3a310"/><path d="M873.5,1045.5 L866.7,1041.6 L870.7,1039.5 L877.4,1043.3Z" fill="#d8d815"/><path d="M873,1156.1 L866.4,1152.1 L866.7,1041.6 L873.5,1045.5Z" fill="#f0f018" stroke="#84840d" stroke-width="0.9"/><path d="M882.5,1161.7 L886.4,1159.5 L887,1059.9 L883.1,1062.1Z" fill="#a3a310"/><path d="M883.1,1062.1 L876.3,1058.2 L880.3,1056 L887,1059.9Z" fill="#d8d815"/><path d="M882.5,1161.7 L875.8,1157.8 L876.3,1058.2 L883.1,1062.1Z" fill="#f0f018" stroke="#84840d" stroke-width="0.9"/><path d="M892,1167.4 L895.9,1165.2 L896.6,1076.4 L892.7,1078.6Z" fill="#a3a310"/><path d="M892.7,1078.6 L885.9,1074.7 L889.9,1072.5 L896.6,1076.4Z" fill="#d8d815"/><path d="M892,1167.4 L885.3,1163.4 L885.9,1074.7 L892.7,1078.6Z" fill="#f0f018" stroke="#84840d" stroke-width="0.9"/><path d="M901.6,1173.1 L905.5,1170.9 L906.7,1048.7 L902.7,1050.8Z" fill="#a3a310"/><path d="M902.7,1050.8 L895.9,1046.9 L899.8,1044.8 L906.7,1048.7Z" fill="#d8d815"/><path d="M901.6,1173.1 L894.9,1169.1 L895.9,1046.9 L902.7,1050.8Z" fill="#f0f018" stroke="#84840d" stroke-width="0.9"/><path d="M911.2,1178.9 L915.1,1176.6 L916.2,1081.8 L912.2,1084Z" fill="#a3a310"/><path d="M912.2,1084 L905.4,1080.1 L909.3,1077.9 L916.2,1081.8Z" fill="#d8d815"/><path d="M911.2,1178.9 L904.5,1174.8 L905.4,1080.1 L912.2,1084Z" fill="#f0f018" stroke="#84840d" stroke-width="0.9"/><path d="M920.9,1184.6 L924.8,1182.4 L926,1080.6 L922.1,1082.8Z" fill="#a3a310"/><path d="M922.1,1082.8 L915.2,1078.9 L919.2,1076.7 L926,1080.6Z" fill="#d8d815"/><path d="M920.9,1184.6 L914.1,1180.6 L915.2,1078.9 L922.1,1082.8Z" fill="#f0f018" stroke="#84840d" stroke-width="0.9"/><path d="M930.6,1190.4 L934.4,1188.1 L936,1079.4 L932,1081.6Z" fill="#a3a310"/><path d="M932,1081.6 L925.1,1077.6 L929.1,1075.4 L936,1079.4Z" fill="#d8d815"/><path d="M930.6,1190.4 L923.8,1186.3 L925.1,1077.6 L932,1081.6Z" fill="#f0f018" stroke="#84840d" stroke-width="0.9"/><path d="M940.3,1196.2 L944.2,1193.9 L945.9,1085.2 L941.9,1087.4Z" fill="#a3a310"/><path d="M941.9,1087.4 L935,1083.5 L938.9,1081.2 L945.9,1085.2Z" fill="#d8d815"/><path d="M940.3,1196.2 L933.5,1192.1 L935,1083.5 L941.9,1087.4Z" fill="#f0f018" stroke="#84840d" stroke-width="0.9"/><path d="M950.1,1202 L954,1199.7 L955.8,1091.1 L951.9,1093.3Z" fill="#a3a310"/><path d="M951.9,1093.3 L944.9,1089.3 L948.9,1087.1 L955.8,1091.1Z" fill="#d8d815"/><path d="M950.1,1202 L943.2,1197.9 L944.9,1089.3 L951.9,1093.3Z" fill="#f0f018" stroke="#84840d" stroke-width="0.9"/><path d="M959.9,1207.9 L963.8,1205.6 L965.8,1098.7 L961.8,1100.9Z" fill="#a3a310"/><path d="M961.8,1100.9 L954.8,1096.9 L958.8,1094.7 L965.8,1098.7Z" fill="#d8d815"/><path d="M959.9,1207.9 L953,1203.8 L954.8,1096.9 L961.8,1100.9Z" fill="#f0f018" stroke="#84840d" stroke-width="0.9"/><path d="M969.7,1213.7 L973.6,1211.4 L975.7,1106.3 L971.8,1108.5Z" fill="#a3a310"/><path d="M971.8,1108.5 L964.8,1104.5 L968.7,1102.3 L975.7,1106.3Z" fill="#d8d815"/><path d="M969.7,1213.7 L962.8,1209.6 L964.8,1104.5 L971.8,1108.5Z" fill="#f0f018" stroke="#84840d" stroke-width="0.9"/><path d="M979.6,1219.6 L983.5,1217.3 L985.8,1113.9 L981.8,1116.2Z" fill="#a3a310"/><path d="M981.8,1116.2 L974.8,1112.1 L978.7,1109.9 L985.8,1113.9Z" fill="#d8d815"/><path d="M979.6,1219.6 L972.7,1215.5 L974.8,1112.1 L981.8,1116.2Z" fill="#f0f018" stroke="#84840d" stroke-width="0.9"/><path d="M989.5,1225.5 L993.4,1223.2 L995.8,1120 L991.9,1122.3Z" fill="#a3a310"/><path d="M991.9,1122.3 L984.8,1118.2 L988.8,1116 L995.8,1120Z" fill="#d8d815"/><path d="M989.5,1225.5 L982.6,1221.4 L984.8,1118.2 L991.9,1122.3Z" fill="#f0f018" stroke="#84840d" stroke-width="0.9"/><path d="M999.5,1231.5 L1003.4,1229.2 L1006,1126.2 L1002,1128.4Z" fill="#a3a310"/><path d="M1002,1128.4 L994.9,1124.4 L998.9,1122.1 L1006,1126.2Z" fill="#d8d815"/><path d="M999.5,1231.5 L992.5,1227.3 L994.9,1124.4 L1002,1128.4Z" fill="#f0f018" stroke="#84840d" stroke-width="0.9"/><path d="M1009.5,1237.4 L1013.4,1235.1 L1016.2,1128.9 L1012.3,1131.2Z" fill="#a3a310"/><path d="M1012.3,1131.2 L1005.2,1127.1 L1009.1,1124.8 L1016.2,1128.9Z" fill="#d8d815"/><path d="M1009.5,1237.4 L1002.5,1233.3 L1005.2,1127.1 L1012.3,1131.2Z" fill="#f0f018" stroke="#84840d" stroke-width="0.9"/><path d="M1019.6,1243.4 L1023.5,1241.1 L1026.5,1131.7 L1022.6,1134Z" fill="#a3a310"/><path d="M1022.6,1134 L1015.4,1129.9 L1019.4,1127.6 L1026.5,1131.7Z" fill="#d8d815"/><path d="M1019.6,1243.4 L1012.5,1239.2 L1015.4,1129.9 L1022.6,1134Z" fill="#f0f018" stroke="#84840d" stroke-width="0.9"/><path d="M1029.7,1249.5 L1033.5,1247.1 L1036.9,1134.5 L1033,1136.8Z" fill="#a3a310"/><path d="M1033,1136.8 L1025.8,1132.7 L1029.7,1130.4 L1036.9,1134.5Z" fill="#d8d815"/><path d="M1029.7,1249.5 L1022.6,1245.2 L1025.8,1132.7 L1033,1136.8Z" fill="#f0f018" stroke="#84840d" stroke-width="0.9"/><path d="M1039.8,1255.5 L1043.7,1253.1 L1047.5,1130 L1043.6,1132.3Z" fill="#a3a310"/><path d="M1043.6,1132.3 L1036.4,1128.2 L1040.3,1125.9 L1047.5,1130Z" fill="#d8d815"/><path d="M1039.8,1255.5 L1032.7,1251.3 L1036.4,1128.2 L1043.6,1132.3Z" fill="#f0f018" stroke="#84840d" stroke-width="0.9"/><path d="M1050,1261.6 L1053.9,1259.2 L1058.3,1125.5 L1054.3,1127.8Z" fill="#a3a310"/><path d="M1054.3,1127.8 L1047,1123.6 L1051,1121.3 L1058.3,1125.5Z" fill="#d8d815"/><path d="M1050,1261.6 L1042.8,1257.3 L1047,1123.6 L1054.3,1127.8Z" fill="#f0f018" stroke="#84840d" stroke-width="0.9"/><path d="M1060.2,1267.6 L1064.1,1265.3 L1069.4,1111.9 L1065.4,1114.2Z" fill="#a3a310"/><path d="M1065.4,1114.2 L1058.1,1110.1 L1062,1107.8 L1069.4,1111.9Z" fill="#d8d815"/><path d="M1060.2,1267.6 L1053,1263.4 L1058.1,1110.1 L1065.4,1114.2Z" fill="#f0f018" stroke="#84840d" stroke-width="0.9"/><path d="M1070.4,1273.8 L1074.3,1271.4 L1080,1115.3 L1076,1117.6Z" fill="#a3a310"/><path d="M1076,1117.6 L1068.7,1113.5 L1072.6,1111.2 L1080,1115.3Z" fill="#d8d815"/><path d="M1070.4,1273.8 L1063.3,1269.5 L1068.7,1113.5 L1076,1117.6Z" fill="#f0f018" stroke="#84840d" stroke-width="0.9"/><path d="M1080.7,1279.9 L1084.6,1277.5 L1090.7,1118.7 L1086.7,1121Z" fill="#a3a310"/><path d="M1086.7,1121 L1079.3,1116.9 L1083.2,1114.6 L1090.7,1118.7Z" fill="#d8d815"/><path d="M1080.7,1279.9 L1073.5,1275.6 L1079.3,1116.9 L1086.7,1121Z" fill="#f0f018" stroke="#84840d" stroke-width="0.9"/><path d="M1091.1,1286.1 L1095,1283.7 L1101.4,1121.6 L1097.4,1124Z" fill="#a3a310"/><path d="M1097.4,1124 L1090,1119.8 L1093.9,1117.4 L1101.4,1121.6Z" fill="#d8d815"/><path d="M1091.1,1286.1 L1083.8,1281.7 L1090,1119.8 L1097.4,1124Z" fill="#f0f018" stroke="#84840d" stroke-width="0.9"/><path d="M1101.5,1292.3 L1105.3,1289.8 L1112.2,1124.6 L1108.2,1126.9Z" fill="#a3a310"/><path d="M1108.2,1126.9 L1100.7,1122.7 L1104.7,1120.4 L1112.2,1124.6Z" fill="#d8d815"/><path d="M1101.5,1292.3 L1094.2,1287.9 L1100.7,1122.7 L1108.2,1126.9Z" fill="#f0f018" stroke="#84840d" stroke-width="0.9"/><path d="M1111.9,1298.5 L1115.8,1296 L1123.4,1118.9 L1119.4,1121.2Z" fill="#a3a310"/><path d="M1119.4,1121.2 L1111.9,1117 L1115.9,1114.7 L1123.4,1118.9Z" fill="#d8d815"/><path d="M1111.9,1298.5 L1104.6,1294.1 L1111.9,1117 L1119.4,1121.2Z" fill="#f0f018" stroke="#84840d" stroke-width="0.9"/><path d="M1122.4,1304.7 L1126.2,1302.3 L1134.7,1113.1 L1130.7,1115.5Z" fill="#a3a310"/><path d="M1130.7,1115.5 L1123.2,1111.3 L1127.1,1108.9 L1134.7,1113.1Z" fill="#d8d815"/><path d="M1122.4,1304.7 L1115,1300.3 L1123.2,1111.3 L1130.7,1115.5Z" fill="#f0f018" stroke="#84840d" stroke-width="0.9"/><path d="M1132.9,1311 L1136.8,1308.5 L1146.3,1104 L1142.3,1106.4Z" fill="#a3a310"/><path d="M1142.3,1106.4 L1134.6,1102.1 L1138.6,1099.8 L1146.3,1104Z" fill="#d8d815"/><path d="M1132.9,1311 L1125.5,1306.6 L1134.6,1102.1 L1142.3,1106.4Z" fill="#f0f018" stroke="#84840d" stroke-width="0.9"/><path d="M1143.4,1317.3 L1147.3,1314.8 L1159.1,1071.1 L1155,1073.4Z" fill="#a3a310"/><path d="M1155,1073.4 L1147.3,1069.2 L1151.4,1066.9 L1159.1,1071.1Z" fill="#d8d815"/><path d="M1143.4,1317.3 L1136,1312.9 L1147.3,1069.2 L1155,1073.4Z" fill="#f0f018" stroke="#84840d" stroke-width="0.9"/><path d="M1154,1323.6 L1157.9,1321.1 L1171,1058.1 L1167,1060.5Z" fill="#a3a310"/><path d="M1167,1060.5 L1159.3,1056.2 L1163.3,1053.9 L1171,1058.1Z" fill="#d8d815"/><path d="M1154,1323.6 L1146.6,1319.2 L1159.3,1056.2 L1167,1060.5Z" fill="#f0f018" stroke="#84840d" stroke-width="0.9"/><path d="M1164.7,1329.9 L1168.6,1327.5 L1183.1,1046.1 L1179.1,1048.5Z" fill="#a3a310"/><path d="M1179.1,1048.5 L1171.2,1044.2 L1175.3,1041.9 L1183.1,1046.1Z" fill="#d8d815"/><path d="M1164.7,1329.9 L1157.2,1325.5 L1171.2,1044.2 L1179.1,1048.5Z" fill="#f0f018" stroke="#84840d" stroke-width="0.9"/><path d="M1175.4,1336.3 L1179.3,1333.8 L1196.8,1005.1 L1192.7,1007.4Z" fill="#a3a310"/><path d="M1192.7,1007.4 L1184.8,1003.2 L1188.9,1000.9 L1196.8,1005.1Z" fill="#d8d815"/><path d="M1175.4,1336.3 L1167.9,1331.9 L1184.8,1003.2 L1192.7,1007.4Z" fill="#f0f018" stroke="#84840d" stroke-width="0.9"/><path d="M1186.1,1342.7 L1190,1340.2 L1205,1068.1 L1201,1070.5Z" fill="#a3a310"/><path d="M1201,1070.5 L1193.1,1066.2 L1197.1,1063.9 L1205,1068.1Z" fill="#d8d815"/><path d="M1186.1,1342.7 L1178.6,1338.2 L1193.1,1066.2 L1201,1070.5Z" fill="#f0f018" stroke="#84840d" stroke-width="0.9"/><path d="M1196.9,1349.1 L1200.8,1346.6 L1216.6,1068.1 L1212.6,1070.5Z" fill="#a3a310"/><path d="M1212.6,1070.5 L1204.7,1066.2 L1208.7,1063.9 L1216.6,1068.1Z" fill="#d8d815"/><path d="M1196.9,1349.1 L1189.4,1344.6 L1204.7,1066.2 L1212.6,1070.5Z" fill="#f0f018" stroke="#84840d" stroke-width="0.9"/><path d="M1207.7,1355.6 L1211.6,1353.1 L1217.5,1252.2 L1213.6,1254.7Z" fill="#a3a310"/><path d="M1213.6,1254.7 L1205.9,1250.3 L1209.8,1247.8 L1217.5,1252.2Z" fill="#d8d815"/><path d="M1207.7,1355.6 L1200.1,1351.1 L1205.9,1250.3 L1213.6,1254.7Z" fill="#f0f018" stroke="#84840d" stroke-width="0.9"/></g>
<path d="M1159.3,1414.7 L547.3,1039.3 L551.2,1037.3 L1163.3,1412.1Z" fill="#c013c0" stroke="#888" stroke-width="0.8" opacity="0.75"/>
<g stroke-linejoin="round"><path d="M577.1,1057.6 L581.1,1055.6 L577.2,959.1 L573.2,961.1Z" fill="#a310a3"/><path d="M573.2,961.1 L567.1,957.5 L571.2,955.5 L577.2,959.1Z" fill="#d815d8"/><path d="M577.1,1057.6 L571.1,1053.9 L567.1,957.5 L573.2,961.1Z" fill="#f018f0" stroke="#840d84" stroke-width="0.9"/><path d="M585.8,1062.9 L589.7,1060.8 L585.1,942.4 L581.1,944.4Z" fill="#a310a3"/><path d="M581.1,944.4 L575,940.8 L579,938.8 L585.1,942.4Z" fill="#d815d8"/><path d="M585.8,1062.9 L579.7,1059.2 L575,940.8 L581.1,944.4Z" fill="#f018f0" stroke="#840d84" stroke-width="0.9"/><path d="M594.4,1068.2 L598.4,1066.1 L593.1,925.5 L589,927.5Z" fill="#a310a3"/><path d="M589,927.5 L582.9,923.9 L586.9,921.9 L593.1,925.5Z" fill="#d815d8"/><path d="M594.4,1068.2 L588.3,1064.5 L582.9,923.9 L589,927.5Z" fill="#f018f0" stroke="#840d84" stroke-width="0.9"/><path d="M603.1,1073.5 L607,1071.4 L601.7,923.6 L597.6,925.6Z" fill="#a310a3"/><path d="M597.6,925.6 L591.4,922 L595.5,920 L601.7,923.6Z" fill="#d815d8"/><path d="M603.1,1073.5 L597,1069.8 L591.4,922 L597.6,925.6Z" fill="#f018f0" stroke="#840d84" stroke-width="0.9"/><path d="M611.8,1078.9 L615.7,1076.8 L610.3,921.7 L606.3,923.8Z" fill="#a310a3"/><path d="M606.3,923.8 L600,920.1 L604.1,918.1 L610.3,921.7Z" fill="#d815d8"/><path d="M611.8,1078.9 L605.7,1075.1 L600,920.1 L606.3,923.8Z" fill="#f018f0" stroke="#840d84" stroke-width="0.9"/><path d="M620.5,1084.2 L624.5,1082.1 L617.6,876.2 L613.5,878.2Z" fill="#a310a3"/><path d="M613.5,878.2 L607.2,874.6 L611.3,872.6 L617.6,876.2Z" fill="#d815d8"/><path d="M620.5,1084.2 L614.4,1080.5 L607.2,874.6 L613.5,878.2Z" fill="#f018f0" stroke="#840d84" stroke-width="0.9"/><path d="M629.3,1089.6 L633.3,1087.5 L628,922.7 L623.9,924.7Z" fill="#a310a3"/><path d="M623.9,924.7 L617.6,921.1 L621.7,919.1 L628,922.7Z" fill="#d815d8"/><path d="M629.3,1089.6 L623.2,1085.8 L617.6,921.1 L623.9,924.7Z" fill="#f018f0" stroke="#840d84" stroke-width="0.9"/><path d="M638.1,1095 L642.1,1092.9 L637.4,940.1 L633.3,942.2Z" fill="#a310a3"/><path d="M633.3,942.2 L627,938.5 L631.1,936.5 L637.4,940.1Z" fill="#d815d8"/><path d="M638.1,1095 L631.9,1091.2 L627,938.5 L633.3,942.2Z" fill="#f018f0" stroke="#840d84" stroke-width="0.9"/><path d="M647,1100.4 L650.9,1098.3 L646.2,938.2 L642.1,940.3Z" fill="#a310a3"/><path d="M642.1,940.3 L635.8,936.6 L639.9,934.6 L646.2,938.2Z" fill="#d815d8"/><path d="M647,1100.4 L640.8,1096.6 L635.8,936.6 L642.1,940.3Z" fill="#f018f0" stroke="#840d84" stroke-width="0.9"/><path d="M655.8,1105.9 L659.8,1103.7 L655.1,936.3 L651,938.4Z" fill="#a310a3"/><path d="M651,938.4 L644.6,934.7 L648.7,932.6 L655.1,936.3Z" fill="#d815d8"/><path d="M655.8,1105.9 L649.6,1102.1 L644.6,934.7 L651,938.4Z" fill="#f018f0" stroke="#840d84" stroke-width="0.9"/><path d="M664.7,1111.3 L668.7,1109.2 L664.3,943.1 L660.2,945.1Z" fill="#a310a3"/><path d="M660.2,945.1 L653.8,941.4 L657.9,939.4 L664.3,943.1Z" fill="#d815d8"/><path d="M664.7,1111.3 L658.5,1107.5 L653.8,941.4 L660.2,945.1Z" fill="#f018f0" stroke="#840d84" stroke-width="0.9"/><path d="M673.7,1116.8 L677.7,1114.7 L673.5,949.9 L669.4,951.9Z" fill="#a310a3"/><path d="M669.4,951.9 L663,948.2 L667,946.2 L673.5,949.9Z" fill="#d815d8"/><path d="M673.7,1116.8 L667.4,1113 L663,948.2 L669.4,951.9Z" fill="#f018f0" stroke="#840d84" stroke-width="0.9"/><path d="M682.7,1122.3 L686.7,1120.2 L682.8,958.8 L678.7,960.9Z" fill="#a310a3"/><path d="M678.7,960.9 L672.2,957.1 L676.3,955.1 L682.8,958.8Z" fill="#d815d8"/><path d="M682.7,1122.3 L676.4,1118.5 L672.2,957.1 L678.7,960.9Z" fill="#f018f0" stroke="#840d84" stroke-width="0.9"/><path d="M691.7,1127.9 L695.7,1125.7 L692.1,967.8 L688,969.8Z" fill="#a310a3"/><path d="M688,969.8 L681.5,966.1 L685.6,964 L692.1,967.8Z" fill="#d815d8"/><path d="M691.7,1127.9 L685.4,1124 L681.5,966.1 L688,969.8Z" fill="#f018f0" stroke="#840d84" stroke-width="0.9"/><path d="M700.7,1133.4 L704.7,1131.3 L701.6,987 L697.6,989.1Z" fill="#a310a3"/><path d="M697.6,989.1 L691.1,985.4 L695.2,983.3 L701.6,987Z" fill="#d815d8"/><path d="M700.7,1133.4 L694.4,1129.5 L691.1,985.4 L697.6,989.1Z" fill="#f018f0" stroke="#840d84" stroke-width="0.9"/><path d="M709.8,1139 L713.8,1136.8 L710.4,966.6 L706.3,968.7Z" fill="#a310a3"/><path d="M706.3,968.7 L699.8,964.9 L703.9,962.8 L710.4,966.6Z" fill="#d815d8"/><path d="M709.8,1139 L703.5,1135.1 L699.8,964.9 L706.3,968.7Z" fill="#f018f0" stroke="#840d84" stroke-width="0.9"/><path d="M719,1144.6 L722.9,1142.4 L720.4,1003.9 L716.3,1006Z" fill="#a310a3"/><path d="M716.3,1006 L709.8,1002.2 L713.8,1000.1 L720.4,1003.9Z" fill="#d815d8"/><path d="M719,1144.6 L712.6,1140.7 L709.8,1002.2 L716.3,1006Z" fill="#f018f0" stroke="#840d84" stroke-width="0.9"/><path d="M728.1,1150.2 L732.1,1148 L729.7,1007.1 L725.6,1009.3Z" fill="#a310a3"/><path d="M725.6,1009.3 L719,1005.4 L723.1,1003.3 L729.7,1007.1Z" fill="#d815d8"/><path d="M728.1,1150.2 L721.7,1146.3 L719,1005.4 L725.6,1009.3Z" fill="#f018f0" stroke="#840d84" stroke-width="0.9"/><path d="M737.3,1155.9 L741.3,1153.7 L739.3,1030.4 L735.3,1032.5Z" fill="#a310a3"/><path d="M735.3,1032.5 L728.7,1028.7 L732.8,1026.5 L739.3,1030.4Z" fill="#d815d8"/><path d="M737.3,1155.9 L730.9,1151.9 L728.7,1028.7 L735.3,1032.5Z" fill="#f018f0" stroke="#840d84" stroke-width="0.9"/><path d="M746.5,1161.5 L750.5,1159.3 L749,1053.6 L745,1055.8Z" fill="#a310a3"/><path d="M745,1055.8 L738.4,1051.9 L742.4,1049.7 L749,1053.6Z" fill="#d815d8"/><path d="M746.5,1161.5 L740.1,1157.6 L738.4,1051.9 L745,1055.8Z" fill="#f018f0" stroke="#840d84" stroke-width="0.9"/><path d="M755.8,1167.2 L759.8,1165 L758.3,1051.6 L754.3,1053.8Z" fill="#a310a3"/><path d="M754.3,1053.8 L747.7,1049.9 L751.7,1047.7 L758.3,1051.6Z" fill="#d815d8"/><path d="M755.8,1167.2 L749.3,1163.2 L747.7,1049.9 L754.3,1053.8Z" fill="#f018f0" stroke="#840d84" stroke-width="0.9"/><path d="M765.1,1172.9 L769.1,1170.7 L768,1070.9 L763.9,1073.1Z" fill="#a310a3"/><path d="M763.9,1073.1 L757.3,1069.2 L761.3,1067 L768,1070.9Z" fill="#d815d8"/><path d="M765.1,1172.9 L758.6,1168.9 L757.3,1069.2 L763.9,1073.1Z" fill="#f018f0" stroke="#840d84" stroke-width="0.9"/><path d="M774.5,1178.6 L778.5,1176.4 L777.4,1068.6 L773.3,1070.8Z" fill="#a310a3"/><path d="M773.3,1070.8 L766.7,1066.9 L770.7,1064.7 L777.4,1068.6Z" fill="#d815d8"/><path d="M774.5,1178.6 L767.9,1174.6 L766.7,1066.9 L773.3,1070.8Z" fill="#f018f0" stroke="#840d84" stroke-width="0.9"/><path d="M783.8,1184.4 L787.8,1182.1 L786.8,1066.3 L782.8,1068.5Z" fill="#a310a3"/><path d="M782.8,1068.5 L776.1,1064.5 L780.1,1062.4 L786.8,1066.3Z" fill="#d815d8"/><path d="M783.8,1184.4 L777.3,1180.4 L776.1,1064.5 L782.8,1068.5Z" fill="#f018f0" stroke="#840d84" stroke-width="0.9"/><path d="M793.3,1190.2 L797.3,1187.9 L796.5,1083.6 L792.4,1085.8Z" fill="#a310a3"/><path d="M792.4,1085.8 L785.7,1081.8 L789.8,1079.6 L796.5,1083.6Z" fill="#d815d8"/><path d="M793.3,1190.2 L786.7,1186.1 L785.7,1081.8 L792.4,1085.8Z" fill="#f018f0" stroke="#840d84" stroke-width="0.9"/><path d="M802.7,1196 L806.7,1193.7 L806,1078.5 L802,1080.7Z" fill="#a310a3"/><path d="M802,1080.7 L795.2,1076.7 L799.3,1074.5 L806,1078.5Z" fill="#d815d8"/><path d="M802.7,1196 L796.1,1191.9 L795.2,1076.7 L802,1080.7Z" fill="#f018f0" stroke="#840d84" stroke-width="0.9"/><path d="M812.2,1201.8 L816.2,1199.5 L815.7,1073.3 L811.6,1075.5Z" fill="#a310a3"/><path d="M811.6,1075.5 L804.8,1071.5 L808.9,1069.3 L815.7,1073.3Z" fill="#d815d8"/><path d="M812.2,1201.8 L805.6,1197.7 L804.8,1071.5 L811.6,1075.5Z" fill="#f018f0" stroke="#840d84" stroke-width="0.9"/><path d="M821.7,1207.6 L825.7,1205.4 L825.4,1100.1 L821.4,1102.3Z" fill="#a310a3"/><path d="M821.4,1102.3 L814.6,1098.3 L818.7,1096.1 L825.4,1100.1Z" fill="#d815d8"/><path d="M821.7,1207.6 L815.1,1203.5 L814.6,1098.3 L821.4,1102.3Z" fill="#f018f0" stroke="#840d84" stroke-width="0.9"/><path d="M831.3,1213.5 L835.3,1211.2 L835.2,1113.5 L831.1,1115.8Z" fill="#a310a3"/><path d="M831.1,1115.8 L824.3,1111.7 L828.4,1109.5 L835.2,1113.5Z" fill="#d815d8"/><path d="M831.3,1213.5 L824.6,1209.4 L824.3,1111.7 L831.1,1115.8Z" fill="#f018f0" stroke="#840d84" stroke-width="0.9"/><path d="M840.9,1219.4 L844.9,1217.1 L844.9,1127 L840.9,1129.2Z" fill="#a310a3"/><path d="M840.9,1129.2 L834.1,1125.2 L838.1,1122.9 L844.9,1127Z" fill="#d815d8"/><path d="M840.9,1219.4 L834.2,1215.3 L834.1,1125.2 L840.9,1129.2Z" fill="#f018f0" stroke="#840d84" stroke-width="0.9"/><path d="M850.6,1225.3 L854.6,1223 L854.7,1121 L850.7,1123.2Z" fill="#a310a3"/><path d="M850.7,1123.2 L843.8,1119.2 L847.9,1116.9 L854.7,1121Z" fill="#d815d8"/><path d="M850.6,1225.3 L843.8,1221.2 L843.8,1119.2 L850.7,1123.2Z" fill="#f018f0" stroke="#840d84" stroke-width="0.9"/><path d="M860.3,1231.3 L864.3,1228.9 L864.6,1119.7 L860.5,1122Z" fill="#a310a3"/><path d="M860.5,1122 L853.6,1117.9 L857.7,1115.7 L864.6,1119.7Z" fill="#d815d8"/><path d="M860.3,1231.3 L853.5,1227.1 L853.6,1117.9 L860.5,1122Z" fill="#f018f0" stroke="#840d84" stroke-width="0.9"/><path d="M870,1237.2 L874,1234.9 L874.5,1118.5 L870.5,1120.7Z" fill="#a310a3"/><path d="M870.5,1120.7 L863.5,1116.7 L867.6,1114.4 L874.5,1118.5Z" fill="#d815d8"/><path d="M870,1237.2 L863.2,1233 L863.5,1116.7 L870.5,1120.7Z" fill="#f018f0" stroke="#840d84" stroke-width="0.9"/><path d="M879.8,1243.2 L883.7,1240.9 L884.4,1138 L880.3,1140.3Z" fill="#a310a3"/><path d="M880.3,1140.3 L873.4,1136.2 L877.4,1133.9 L884.4,1138Z" fill="#d815d8"/><path d="M879.8,1243.2 L872.9,1239 L873.4,1136.2 L880.3,1140.3Z" fill="#f018f0" stroke="#840d84" stroke-width="0.9"/><path d="M889.6,1249.2 L893.6,1246.9 L894.5,1127.7 L890.4,1130Z" fill="#a310a3"/><path d="M890.4,1130 L883.4,1125.9 L887.5,1123.6 L894.5,1127.7Z" fill="#d815d8"/><path d="M889.6,1249.2 L882.7,1245 L883.4,1125.9 L890.4,1130Z" fill="#f018f0" stroke="#840d84" stroke-width="0.9"/><path d="M899.4,1255.3 L903.4,1252.9 L904.5,1130.8 L900.5,1133.1Z" fill="#a310a3"/><path d="M900.5,1133.1 L893.4,1129 L897.5,1126.7 L904.5,1130.8Z" fill="#d815d8"/><path d="M899.4,1255.3 L892.5,1251 L893.4,1129 L900.5,1133.1Z" fill="#f018f0" stroke="#840d84" stroke-width="0.9"/><path d="M909.3,1261.3 L913.3,1259 L914.6,1134 L910.6,1136.3Z" fill="#a310a3"/><path d="M910.6,1136.3 L903.5,1132.2 L907.6,1129.9 L914.6,1134Z" fill="#d815d8"/><path d="M909.3,1261.3 L902.4,1257.1 L903.5,1132.2 L910.6,1136.3Z" fill="#f018f0" stroke="#840d84" stroke-width="0.9"/><path d="M919.2,1267.4 L923.2,1265 L924.8,1139.9 L920.7,1142.2Z" fill="#a310a3"/><path d="M920.7,1142.2 L913.6,1138 L917.7,1135.7 L924.8,1139.9Z" fill="#d815d8"/><path d="M919.2,1267.4 L912.3,1263.2 L913.6,1138 L920.7,1142.2Z" fill="#f018f0" stroke="#840d84" stroke-width="0.9"/><path d="M929.2,1273.5 L933.2,1271.1 L934.9,1145.8 L930.9,1148.1Z" fill="#a310a3"/><path d="M930.9,1148.1 L923.8,1143.9 L927.8,1141.6 L934.9,1145.8Z" fill="#d815d8"/><path d="M929.2,1273.5 L922.2,1269.3 L923.8,1143.9 L930.9,1148.1Z" fill="#f018f0" stroke="#840d84" stroke-width="0.9"/><path d="M939.2,1279.7 L943.2,1277.3 L945.2,1150.7 L941.1,1153Z" fill="#a310a3"/><path d="M941.1,1153 L933.9,1148.8 L938,1146.5 L945.2,1150.7Z" fill="#d815d8"/><path d="M939.2,1279.7 L932.2,1275.4 L933.9,1148.8 L941.1,1153Z" fill="#f018f0" stroke="#840d84" stroke-width="0.9"/><path d="M949.2,1285.8 L953.2,1283.4 L955.4,1158.3 L951.3,1160.6Z" fill="#a310a3"/><path d="M951.3,1160.6 L944.1,1156.4 L948.2,1154.1 L955.4,1158.3Z" fill="#d815d8"/><path d="M949.2,1285.8 L942.2,1281.5 L944.1,1156.4 L951.3,1160.6Z" fill="#f018f0" stroke="#840d84" stroke-width="0.9"/><path d="M959.3,1292 L963.3,1289.6 L965.7,1166 L961.6,1168.3Z" fill="#a310a3"/><path d="M961.6,1168.3 L954.4,1164.1 L958.5,1161.7 L965.7,1166Z" fill="#d815d8"/><path d="M959.3,1292 L952.3,1287.7 L954.4,1164.1 L961.6,1168.3Z" fill="#f018f0" stroke="#840d84" stroke-width="0.9"/><path d="M969.5,1298.2 L973.5,1295.8 L976,1171.2 L971.9,1173.5Z" fill="#a310a3"/><path d="M971.9,1173.5 L964.7,1169.3 L968.8,1166.9 L976,1171.2Z" fill="#d815d8"/><path d="M969.5,1298.2 L962.4,1293.9 L964.7,1169.3 L971.9,1173.5Z" fill="#f018f0" stroke="#840d84" stroke-width="0.9"/><path d="M979.6,1304.5 L983.6,1302 L986.4,1176.4 L982.3,1178.8Z" fill="#a310a3"/><path d="M982.3,1178.8 L975.1,1174.5 L979.1,1172.1 L986.4,1176.4Z" fill="#d815d8"/><path d="M979.6,1304.5 L972.5,1300.1 L975.1,1174.5 L982.3,1178.8Z" fill="#f018f0" stroke="#840d84" stroke-width="0.9"/><path d="M989.9,1310.8 L993.9,1308.3 L996.9,1181.6 L992.8,1184Z" fill="#a310a3"/><path d="M992.8,1184 L985.5,1179.7 L989.6,1177.4 L996.9,1181.6Z" fill="#d815d8"/><path d="M989.9,1310.8 L982.7,1306.4 L985.5,1179.7 L992.8,1184Z" fill="#f018f0" stroke="#840d84" stroke-width="0.9"/><path d="M1000.1,1317 L1004.1,1314.6 L1007.4,1186.9 L1003.3,1189.3Z" fill="#a310a3"/><path d="M1003.3,1189.3 L996,1185 L1000,1182.6 L1007.4,1186.9Z" fill="#d815d8"/><path d="M1000.1,1317 L992.9,1312.6 L996,1185 L1003.3,1189.3Z" fill="#f018f0" stroke="#840d84" stroke-width="0.9"/><path d="M1010.4,1323.4 L1014.4,1320.9 L1018,1189.8 L1013.9,1192.2Z" fill="#a310a3"/><path d="M1013.9,1192.2 L1006.5,1187.9 L1010.6,1185.5 L1018,1189.8Z" fill="#d815d8"/><path d="M1010.4,1323.4 L1003.2,1318.9 L1006.5,1187.9 L1013.9,1192.2Z" fill="#f018f0" stroke="#840d84" stroke-width="0.9"/><path d="M1020.8,1329.7 L1024.8,1327.2 L1028.6,1192.7 L1024.6,1195.1Z" fill="#a310a3"/><path d="M1024.6,1195.1 L1017.1,1190.7 L1021.2,1188.3 L1028.6,1192.7Z" fill="#d815d8"/><path d="M1020.8,1329.7 L1013.5,1325.3 L1017.1,1190.7 L1024.6,1195.1Z" fill="#f018f0" stroke="#840d84" stroke-width="0.9"/><path d="M1031.2,1336.1 L1035.1,1333.6 L1039.6,1188.2 L1035.5,1190.6Z" fill="#a310a3"/><path d="M1035.5,1190.6 L1028,1186.3 L1032.1,1183.9 L1039.6,1188.2Z" fill="#d815d8"/><path d="M1031.2,1336.1 L1023.9,1331.6 L1028,1186.3 L1035.5,1190.6Z" fill="#f018f0" stroke="#840d84" stroke-width="0.9"/><path d="M1041.6,1342.5 L1045.6,1340 L1051.1,1167.2 L1047,1169.6Z" fill="#a310a3"/><path d="M1047,1169.6 L1039.5,1165.2 L1043.6,1162.8 L1051.1,1167.2Z" fill="#d815d8"/><path d="M1041.6,1342.5 L1034.3,1338 L1039.5,1165.2 L1047,1169.6Z" fill="#f018f0" stroke="#840d84" stroke-width="0.9"/><path d="M1052.1,1348.9 L1056.1,1346.4 L1062.7,1150.2 L1058.6,1152.6Z" fill="#a310a3"/><path d="M1058.6,1152.6 L1051,1148.2 L1055.1,1145.8 L1062.7,1150.2Z" fill="#d815d8"/><path d="M1052.1,1348.9 L1044.7,1344.4 L1051,1148.2 L1058.6,1152.6Z" fill="#f018f0" stroke="#840d84" stroke-width="0.9"/><path d="M1062.6,1355.4 L1066.6,1352.8 L1074.2,1137.2 L1070.1,1139.6Z" fill="#a310a3"/><path d="M1070.1,1139.6 L1062.5,1135.2 L1066.6,1132.8 L1074.2,1137.2Z" fill="#d815d8"/><path d="M1062.6,1355.4 L1055.2,1350.8 L1062.5,1135.2 L1070.1,1139.6Z" fill="#f018f0" stroke="#840d84" stroke-width="0.9"/><path d="M1073.2,1361.8 L1077.1,1359.3 L1086.4,1112.2 L1082.2,1114.6Z" fill="#a310a3"/><path d="M1082.2,1114.6 L1074.5,1110.2 L1078.7,1107.8 L1086.4,1112.2Z" fill="#d815d8"/><path d="M1073.2,1361.8 L1065.8,1357.3 L1074.5,1110.2 L1082.2,1114.6Z" fill="#f018f0" stroke="#840d84" stroke-width="0.9"/><path d="M1083.8,1368.3 L1087.8,1365.8 L1100.2,1046.1 L1096,1048.5Z" fill="#a310a3"/><path d="M1096,1048.5 L1088.2,1044.2 L1092.4,1041.9 L1100.2,1046.1Z" fill="#d815d8"/><path d="M1083.8,1368.3 L1076.3,1363.8 L1088.2,1044.2 L1096,1048.5Z" fill="#f018f0" stroke="#840d84" stroke-width="0.9"/><path d="M1094.4,1374.9 L1098.4,1372.3 L1112.8,1020.1 L1108.6,1022.5Z" fill="#a310a3"/><path d="M1108.6,1022.5 L1100.7,1018.2 L1104.9,1015.9 L1112.8,1020.1Z" fill="#d815d8"/><path d="M1094.4,1374.9 L1087,1370.3 L1100.7,1018.2 L1108.6,1022.5Z" fill="#f018f0" stroke="#840d84" stroke-width="0.9"/><path d="M1105.1,1381.4 L1109.1,1378.9 L1124.5,1016.1 L1120.3,1018.5Z" fill="#a310a3"/><path d="M1120.3,1018.5 L1112.4,1014.2 L1116.6,1011.9 L1124.5,1016.1Z" fill="#d815d8"/><path d="M1105.1,1381.4 L1097.6,1376.8 L1112.4,1014.2 L1120.3,1018.5Z" fill="#f018f0" stroke="#840d84" stroke-width="0.9"/><path d="M1115.9,1388 L1119.9,1385.5 L1137.4,989.1 L1133.2,991.5Z" fill="#a310a3"/><path d="M1133.2,991.5 L1125.1,987.2 L1129.4,984.9 L1137.4,989.1Z" fill="#d815d8"/><path d="M1115.9,1388 L1108.3,1383.4 L1125.1,987.2 L1133.2,991.5Z" fill="#f018f0" stroke="#840d84" stroke-width="0.9"/><path d="M1126.7,1394.7 L1130.7,1392.1 L1144.8,1084.2 L1140.7,1086.6Z" fill="#a310a3"/><path d="M1140.7,1086.6 L1132.7,1082.2 L1136.9,1079.8 L1144.8,1084.2Z" fill="#d815d8"/><path d="M1126.7,1394.7 L1119.1,1390 L1132.7,1082.2 L1140.7,1086.6Z" fill="#f018f0" stroke="#840d84" stroke-width="0.9"/><path d="M1137.5,1401.3 L1141.5,1398.7 L1157.4,1066.2 L1153.2,1068.6Z" fill="#a310a3"/><path d="M1153.2,1068.6 L1145.2,1064.2 L1149.4,1061.8 L1157.4,1066.2Z" fill="#d815d8"/><path d="M1137.5,1401.3 L1129.9,1396.6 L1145.2,1064.2 L1153.2,1068.6Z" fill="#f018f0" stroke="#840d84" stroke-width="0.9"/></g>
<path d="M1087,1462.2 L475.5,1076 L479.6,1073.9 L1091.1,1459.5Z" fill="#19b3b3" stroke="#888" stroke-width="0.8" opacity="0.75"/>
<g stroke-linejoin="round"><path d="M505.3,1094.8 L509.4,1092.7 L503,967.7 L498.9,969.8Z" fill="#159898"/><path d="M498.9,969.8 L492.8,966.1 L496.9,964 L503,967.7Z" fill="#1cc9c9"/><path d="M505.3,1094.8 L499.3,1091 L492.8,966.1 L498.9,969.8Z" fill="#20e0e0" stroke="#117b7b" stroke-width="0.9"/><path d="M513.9,1100.2 L518,1098.1 L511.7,973 L507.6,975.1Z" fill="#159898"/><path d="M507.6,975.1 L501.5,971.4 L505.6,969.3 L511.7,973Z" fill="#1cc9c9"/><path d="M513.9,1100.2 L507.9,1096.4 L501.5,971.4 L507.6,975.1Z" fill="#20e0e0" stroke="#117b7b" stroke-width="0.9"/><path d="M522.5,1105.7 L526.6,1103.5 L518.3,931.6 L514.1,933.7Z" fill="#159898"/><path d="M514.1,933.7 L507.9,930 L512.1,928 L518.3,931.6Z" fill="#1cc9c9"/><path d="M522.5,1105.7 L516.5,1101.9 L507.9,930 L514.1,933.7Z" fill="#20e0e0" stroke="#117b7b" stroke-width="0.9"/><path d="M531.2,1111.1 L535.3,1109 L527.3,940 L523.1,942.1Z" fill="#159898"/><path d="M523.1,942.1 L516.9,938.4 L521.1,936.3 L527.3,940Z" fill="#1cc9c9"/><path d="M531.2,1111.1 L525.1,1107.3 L516.9,938.4 L523.1,942.1Z" fill="#20e0e0" stroke="#117b7b" stroke-width="0.9"/><path d="M539.9,1116.6 L544,1114.5 L536.4,950.1 L532.2,952.2Z" fill="#159898"/><path d="M532.2,952.2 L526,948.5 L530.2,946.4 L536.4,950.1Z" fill="#1cc9c9"/><path d="M539.9,1116.6 L533.8,1112.8 L526,948.5 L532.2,952.2Z" fill="#20e0e0" stroke="#117b7b" stroke-width="0.9"/><path d="M548.6,1122.1 L552.7,1120 L545.5,960.2 L541.3,962.3Z" fill="#159898"/><path d="M541.3,962.3 L535.1,958.6 L539.3,956.5 L545.5,960.2Z" fill="#1cc9c9"/><path d="M548.6,1122.1 L542.5,1118.3 L535.1,958.6 L541.3,962.3Z" fill="#20e0e0" stroke="#117b7b" stroke-width="0.9"/><path d="M557.4,1127.7 L561.4,1125.5 L553.1,933 L548.9,935Z" fill="#159898"/><path d="M548.9,935 L542.6,931.3 L546.8,929.2 L553.1,933Z" fill="#1cc9c9"/><path d="M557.4,1127.7 L551.2,1123.8 L542.6,931.3 L548.9,935Z" fill="#20e0e0" stroke="#117b7b" stroke-width="0.9"/><path d="M566.2,1133.2 L570.2,1131 L561,912.9 L556.8,915Z" fill="#159898"/><path d="M556.8,915 L550.5,911.3 L554.7,909.2 L561,912.9Z" fill="#1cc9c9"/><path d="M566.2,1133.2 L560,1129.3 L550.5,911.3 L556.8,915Z" fill="#20e0e0" stroke="#117b7b" stroke-width="0.9"/><path d="M575,1138.8 L579.1,1136.6 L570.8,933.4 L566.5,935.5Z" fill="#159898"/><path d="M566.5,935.5 L560.2,931.7 L564.4,929.7 L570.8,933.4Z" fill="#1cc9c9"/><path d="M575,1138.8 L568.8,1134.9 L560.2,931.7 L566.5,935.5Z" fill="#20e0e0" stroke="#117b7b" stroke-width="0.9"/><path d="M583.8,1144.4 L587.9,1142.2 L580.2,945.5 L575.9,947.6Z" fill="#159898"/><path d="M575.9,947.6 L569.6,943.9 L573.8,941.8 L580.2,945.5Z" fill="#1cc9c9"/><path d="M583.8,1144.4 L577.6,1140.5 L569.6,943.9 L575.9,947.6Z" fill="#20e0e0" stroke="#117b7b" stroke-width="0.9"/><path d="M592.7,1150 L596.8,1147.8 L588.4,926.2 L584.1,928.3Z" fill="#159898"/><path d="M584.1,928.3 L577.7,924.6 L581.9,922.5 L588.4,926.2Z" fill="#1cc9c9"/><path d="M592.7,1150 L586.5,1146.1 L577.7,924.6 L584.1,928.3Z" fill="#20e0e0" stroke="#117b7b" stroke-width="0.9"/><path d="M601.7,1155.6 L605.7,1153.4 L598.3,952.2 L594.1,954.3Z" fill="#159898"/><path d="M594.1,954.3 L587.7,950.5 L591.9,948.4 L598.3,952.2Z" fill="#1cc9c9"/><path d="M601.7,1155.6 L595.4,1151.7 L587.7,950.5 L594.1,954.3Z" fill="#20e0e0" stroke="#117b7b" stroke-width="0.9"/><path d="M610.6,1161.3 L614.7,1159.1 L607.9,966.7 L603.7,968.9Z" fill="#159898"/><path d="M603.7,968.9 L597.2,965.1 L601.4,962.9 L607.9,966.7Z" fill="#1cc9c9"/><path d="M610.6,1161.3 L604.3,1157.3 L597.2,965.1 L603.7,968.9Z" fill="#20e0e0" stroke="#117b7b" stroke-width="0.9"/><path d="M619.6,1167 L623.7,1164.8 L617.5,981.4 L613.2,983.5Z" fill="#159898"/><path d="M613.2,983.5 L606.8,979.7 L611,977.5 L617.5,981.4Z" fill="#1cc9c9"/><path d="M619.6,1167 L613.3,1163 L606.8,979.7 L613.2,983.5Z" fill="#20e0e0" stroke="#117b7b" stroke-width="0.9"/><path d="M628.7,1172.7 L632.7,1170.5 L626.5,981 L622.3,983.1Z" fill="#159898"/><path d="M622.3,983.1 L615.8,979.3 L620,977.2 L626.5,981Z" fill="#1cc9c9"/><path d="M628.7,1172.7 L622.3,1168.7 L615.8,979.3 L622.3,983.1Z" fill="#20e0e0" stroke="#117b7b" stroke-width="0.9"/><path d="M637.7,1178.4 L641.8,1176.2 L636.2,997.7 L632,999.9Z" fill="#159898"/><path d="M632,999.9 L625.5,996 L629.7,993.9 L636.2,997.7Z" fill="#1cc9c9"/><path d="M637.7,1178.4 L631.4,1174.4 L625.5,996 L632,999.9Z" fill="#20e0e0" stroke="#117b7b" stroke-width="0.9"/><path d="M646.8,1184.2 L650.9,1181.9 L645.9,1014.5 L641.7,1016.7Z" fill="#159898"/><path d="M641.7,1016.7 L635.2,1012.8 L639.4,1010.6 L645.9,1014.5Z" fill="#1cc9c9"/><path d="M646.8,1184.2 L640.5,1180.1 L635.2,1012.8 L641.7,1016.7Z" fill="#20e0e0" stroke="#117b7b" stroke-width="0.9"/><path d="M656,1190 L660.1,1187.7 L655.5,1027.6 L651.3,1029.8Z" fill="#159898"/><path d="M651.3,1029.8 L644.7,1025.8 L648.9,1023.7 L655.5,1027.6Z" fill="#1cc9c9"/><path d="M656,1190 L649.6,1185.9 L644.7,1025.8 L651.3,1029.8Z" fill="#20e0e0" stroke="#117b7b" stroke-width="0.9"/><path d="M665.2,1195.8 L669.3,1193.5 L665.7,1061.7 L661.5,1063.9Z" fill="#159898"/><path d="M661.5,1063.9 L654.9,1060 L659.1,1057.8 L665.7,1061.7Z" fill="#1cc9c9"/><path d="M665.2,1195.8 L658.7,1191.7 L654.9,1060 L661.5,1063.9Z" fill="#20e0e0" stroke="#117b7b" stroke-width="0.9"/><path d="M674.4,1201.6 L678.5,1199.3 L674.9,1061.4 L670.7,1063.6Z" fill="#159898"/><path d="M670.7,1063.6 L664.1,1059.6 L668.3,1057.4 L674.9,1061.4Z" fill="#1cc9c9"/><path d="M674.4,1201.6 L667.9,1197.5 L664.1,1059.6 L670.7,1063.6Z" fill="#20e0e0" stroke="#117b7b" stroke-width="0.9"/><path d="M683.6,1207.4 L687.7,1205.1 L684.2,1061.1 L680,1063.3Z" fill="#159898"/><path d="M680,1063.3 L673.4,1059.3 L677.6,1057.1 L684.2,1061.1Z" fill="#1cc9c9"/><path d="M683.6,1207.4 L677.1,1203.3 L673.4,1059.3 L680,1063.3Z" fill="#20e0e0" stroke="#117b7b" stroke-width="0.9"/><path d="M692.9,1213.3 L697,1211 L693.9,1076.1 L689.7,1078.3Z" fill="#159898"/><path d="M689.7,1078.3 L683.1,1074.3 L687.3,1072.1 L693.9,1076.1Z" fill="#1cc9c9"/><path d="M692.9,1213.3 L686.4,1209.2 L683.1,1074.3 L689.7,1078.3Z" fill="#20e0e0" stroke="#117b7b" stroke-width="0.9"/><path d="M702.3,1219.2 L706.4,1216.9 L703.9,1104.1 L699.8,1106.3Z" fill="#159898"/><path d="M699.8,1106.3 L693.1,1102.3 L697.3,1100.1 L703.9,1104.1Z" fill="#1cc9c9"/><path d="M702.3,1219.2 L695.7,1215.1 L693.1,1102.3 L699.8,1106.3Z" fill="#20e0e0" stroke="#117b7b" stroke-width="0.9"/><path d="M711.6,1225.1 L715.7,1222.8 L713.6,1118.6 L709.5,1120.9Z" fill="#159898"/><path d="M709.5,1120.9 L702.8,1116.8 L707,1114.6 L713.6,1118.6Z" fill="#1cc9c9"/><path d="M711.6,1225.1 L705.1,1221 L702.8,1116.8 L709.5,1120.9Z" fill="#20e0e0" stroke="#117b7b" stroke-width="0.9"/><path d="M721,1231 L725.1,1228.7 L723.4,1133.2 L719.2,1135.5Z" fill="#159898"/><path d="M719.2,1135.5 L712.5,1131.4 L716.7,1129.1 L723.4,1133.2Z" fill="#1cc9c9"/><path d="M721,1231 L714.4,1226.9 L712.5,1131.4 L719.2,1135.5Z" fill="#20e0e0" stroke="#117b7b" stroke-width="0.9"/><path d="M730.5,1237 L734.6,1234.7 L732.7,1123.3 L728.5,1125.6Z" fill="#159898"/><path d="M728.5,1125.6 L721.8,1121.5 L725.9,1119.2 L732.7,1123.3Z" fill="#1cc9c9"/><path d="M730.5,1237 L723.9,1232.8 L721.8,1121.5 L728.5,1125.6Z" fill="#20e0e0" stroke="#117b7b" stroke-width="0.9"/><path d="M739.9,1243 L744.1,1240.7 L742.1,1113.3 L737.9,1115.6Z" fill="#159898"/><path d="M737.9,1115.6 L731.1,1111.5 L735.3,1109.2 L742.1,1113.3Z" fill="#1cc9c9"/><path d="M739.9,1243 L733.3,1238.8 L731.1,1111.5 L737.9,1115.6Z" fill="#20e0e0" stroke="#117b7b" stroke-width="0.9"/><path d="M749.5,1249 L753.6,1246.7 L752,1137.2 L747.8,1139.5Z" fill="#159898"/><path d="M747.8,1139.5 L741.1,1135.4 L745.2,1133.1 L752,1137.2Z" fill="#1cc9c9"/><path d="M749.5,1249 L742.8,1244.8 L741.1,1135.4 L747.8,1139.5Z" fill="#20e0e0" stroke="#117b7b" stroke-width="0.9"/><path d="M759,1255 L763.1,1252.7 L761.4,1114 L757.2,1116.3Z" fill="#159898"/><path d="M757.2,1116.3 L750.3,1112.2 L754.5,1109.9 L761.4,1114Z" fill="#1cc9c9"/><path d="M759,1255 L752.3,1250.8 L750.3,1112.2 L757.2,1116.3Z" fill="#20e0e0" stroke="#117b7b" stroke-width="0.9"/><path d="M768.6,1261.1 L772.7,1258.7 L771.3,1133.6 L767.1,1135.9Z" fill="#159898"/><path d="M767.1,1135.9 L760.3,1131.8 L764.5,1129.4 L771.3,1133.6Z" fill="#1cc9c9"/><path d="M768.6,1261.1 L761.9,1256.9 L760.3,1131.8 L767.1,1135.9Z" fill="#20e0e0" stroke="#117b7b" stroke-width="0.9"/><path d="M778.3,1267.2 L782.4,1264.8 L781.3,1150.4 L777.1,1152.8Z" fill="#159898"/><path d="M777.1,1152.8 L770.2,1148.6 L774.4,1146.3 L781.3,1150.4Z" fill="#1cc9c9"/><path d="M778.3,1267.2 L771.5,1262.9 L770.2,1148.6 L777.1,1152.8Z" fill="#20e0e0" stroke="#117b7b" stroke-width="0.9"/><path d="M787.9,1273.3 L792,1270.9 L791.2,1167.3 L787,1169.6Z" fill="#159898"/><path d="M787,1169.6 L780.1,1165.4 L784.3,1163.1 L791.2,1167.3Z" fill="#1cc9c9"/><path d="M787.9,1273.3 L781.2,1269 L780.1,1165.4 L787,1169.6Z" fill="#20e0e0" stroke="#117b7b" stroke-width="0.9"/><path d="M797.7,1279.4 L801.8,1277.1 L801.1,1178.4 L796.9,1180.7Z" fill="#159898"/><path d="M796.9,1180.7 L790,1176.5 L794.2,1174.2 L801.1,1178.4Z" fill="#1cc9c9"/><path d="M797.7,1279.4 L790.9,1275.1 L790,1176.5 L796.9,1180.7Z" fill="#20e0e0" stroke="#117b7b" stroke-width="0.9"/><path d="M807.4,1285.6 L811.5,1283.2 L810.9,1170.8 L806.8,1173.1Z" fill="#159898"/><path d="M806.8,1173.1 L799.8,1168.9 L804,1166.6 L810.9,1170.8Z" fill="#1cc9c9"/><path d="M807.4,1285.6 L800.6,1281.3 L799.8,1168.9 L806.8,1173.1Z" fill="#20e0e0" stroke="#117b7b" stroke-width="0.9"/><path d="M817.2,1291.8 L821.3,1289.4 L820.9,1182.3 L816.8,1184.6Z" fill="#159898"/><path d="M816.8,1184.6 L809.8,1180.4 L814,1178 L820.9,1182.3Z" fill="#1cc9c9"/><path d="M817.2,1291.8 L810.3,1287.5 L809.8,1180.4 L816.8,1184.6Z" fill="#20e0e0" stroke="#117b7b" stroke-width="0.9"/><path d="M827.1,1298 L831.2,1295.6 L831,1193.8 L826.8,1196.2Z" fill="#159898"/><path d="M826.8,1196.2 L819.8,1191.9 L824,1189.5 L831,1193.8Z" fill="#1cc9c9"/><path d="M827.1,1298 L820.2,1293.7 L819.8,1191.9 L826.8,1196.2Z" fill="#20e0e0" stroke="#117b7b" stroke-width="0.9"/><path d="M836.9,1304.3 L841,1301.8 L841,1198.1 L836.8,1200.5Z" fill="#159898"/><path d="M836.8,1200.5 L829.8,1196.2 L834,1193.8 L841,1198.1Z" fill="#1cc9c9"/><path d="M836.9,1304.3 L830,1299.9 L829.8,1196.2 L836.8,1200.5Z" fill="#20e0e0" stroke="#117b7b" stroke-width="0.9"/><path d="M846.8,1310.5 L851,1308.1 L851.1,1203.3 L846.9,1205.7Z" fill="#159898"/><path d="M846.9,1205.7 L839.8,1201.4 L844,1199 L851.1,1203.3Z" fill="#1cc9c9"/><path d="M846.8,1310.5 L839.9,1306.1 L839.8,1201.4 L846.9,1205.7Z" fill="#20e0e0" stroke="#117b7b" stroke-width="0.9"/><path d="M856.8,1316.8 L860.9,1314.4 L861.2,1208.5 L857,1210.9Z" fill="#159898"/><path d="M857,1210.9 L849.9,1206.6 L854.1,1204.2 L861.2,1208.5Z" fill="#1cc9c9"/><path d="M856.8,1316.8 L849.8,1312.4 L849.9,1206.6 L857,1210.9Z" fill="#20e0e0" stroke="#117b7b" stroke-width="0.9"/><path d="M866.8,1323.1 L870.9,1320.7 L871.5,1177.4 L867.3,1179.8Z" fill="#159898"/><path d="M867.3,1179.8 L860.2,1175.5 L864.4,1173.1 L871.5,1177.4Z" fill="#1cc9c9"/><path d="M866.8,1323.1 L859.8,1318.7 L860.2,1175.5 L867.3,1179.8Z" fill="#20e0e0" stroke="#117b7b" stroke-width="0.9"/><path d="M876.9,1329.5 L881,1327 L881.8,1180.2 L877.6,1182.6Z" fill="#159898"/><path d="M877.6,1182.6 L870.4,1178.3 L874.6,1175.9 L881.8,1180.2Z" fill="#1cc9c9"/><path d="M876.9,1329.5 L869.8,1325 L870.4,1178.3 L877.6,1182.6Z" fill="#20e0e0" stroke="#117b7b" stroke-width="0.9"/><path d="M886.9,1335.8 L891.1,1333.4 L892.2,1185.6 L888,1188Z" fill="#159898"/><path d="M888,1188 L880.7,1183.7 L884.9,1181.2 L892.2,1185.6Z" fill="#1cc9c9"/><path d="M886.9,1335.8 L879.9,1331.4 L880.7,1183.7 L888,1188Z" fill="#20e0e0" stroke="#117b7b" stroke-width="0.9"/><path d="M897.1,1342.2 L901.2,1339.7 L902.5,1191 L898.3,1193.4Z" fill="#159898"/><path d="M898.3,1193.4 L891.1,1189 L895.3,1186.6 L902.5,1191Z" fill="#1cc9c9"/><path d="M897.1,1342.2 L890,1337.8 L891.1,1189 L898.3,1193.4Z" fill="#20e0e0" stroke="#117b7b" stroke-width="0.9"/><path d="M907.2,1348.7 L911.4,1346.2 L913,1194.2 L908.8,1196.7Z" fill="#159898"/><path d="M908.8,1196.7 L901.5,1192.3 L905.7,1189.9 L913,1194.2Z" fill="#1cc9c9"/><path d="M907.2,1348.7 L900.1,1344.2 L901.5,1192.3 L908.8,1196.7Z" fill="#20e0e0" stroke="#117b7b" stroke-width="0.9"/><path d="M917.5,1355.1 L921.6,1352.6 L923.5,1197.6 L919.3,1200Z" fill="#159898"/><path d="M919.3,1200 L912,1195.6 L916.2,1193.2 L923.5,1197.6Z" fill="#1cc9c9"/><path d="M917.5,1355.1 L910.3,1350.6 L912,1195.6 L919.3,1200Z" fill="#20e0e0" stroke="#117b7b" stroke-width="0.9"/><path d="M927.7,1361.6 L931.8,1359.1 L934.3,1185.1 L930.1,1187.5Z" fill="#159898"/><path d="M930.1,1187.5 L922.7,1183.1 L926.9,1180.7 L934.3,1185.1Z" fill="#1cc9c9"/><path d="M927.7,1361.6 L920.5,1357.1 L922.7,1183.1 L930.1,1187.5Z" fill="#20e0e0" stroke="#117b7b" stroke-width="0.9"/><path d="M938,1368.1 L942.1,1365.6 L945.1,1178.1 L940.8,1180.5Z" fill="#159898"/><path d="M940.8,1180.5 L933.4,1176.1 L937.6,1173.7 L945.1,1178.1Z" fill="#1cc9c9"/><path d="M938,1368.1 L930.8,1363.6 L933.4,1176.1 L940.8,1180.5Z" fill="#20e0e0" stroke="#117b7b" stroke-width="0.9"/><path d="M948.4,1374.6 L952.5,1372.1 L956,1171 L951.7,1173.5Z" fill="#159898"/><path d="M951.7,1173.5 L944.2,1169.1 L948.5,1166.6 L956,1171Z" fill="#1cc9c9"/><path d="M948.4,1374.6 L941.1,1370.1 L944.2,1169.1 L951.7,1173.5Z" fill="#20e0e0" stroke="#117b7b" stroke-width="0.9"/><path d="M958.8,1381.2 L962.9,1378.6 L966.9,1166.6 L962.7,1169.1Z" fill="#159898"/><path d="M962.7,1169.1 L955.1,1164.7 L959.4,1162.2 L966.9,1166.6Z" fill="#1cc9c9"/><path d="M958.8,1381.2 L951.5,1376.6 L955.1,1164.7 L962.7,1169.1Z" fill="#20e0e0" stroke="#117b7b" stroke-width="0.9"/><path d="M969.2,1387.8 L973.3,1385.2 L977.9,1162.2 L973.7,1164.6Z" fill="#159898"/><path d="M973.7,1164.6 L966.1,1160.2 L970.4,1157.7 L977.9,1162.2Z" fill="#1cc9c9"/><path d="M969.2,1387.8 L961.9,1383.2 L966.1,1160.2 L973.7,1164.6Z" fill="#20e0e0" stroke="#117b7b" stroke-width="0.9"/><path d="M979.7,1394.4 L983.8,1391.8 L989.1,1152.9 L984.9,1155.4Z" fill="#159898"/><path d="M984.9,1155.4 L977.3,1150.9 L981.5,1148.5 L989.1,1152.9Z" fill="#1cc9c9"/><path d="M979.7,1394.4 L972.3,1389.8 L977.3,1150.9 L984.9,1155.4Z" fill="#20e0e0" stroke="#117b7b" stroke-width="0.9"/><path d="M990.2,1401.1 L994.3,1398.5 L1000.5,1143.6 L996.2,1146.1Z" fill="#159898"/><path d="M996.2,1146.1 L988.5,1141.6 L992.8,1139.1 L1000.5,1143.6Z" fill="#1cc9c9"/><path d="M990.2,1401.1 L982.8,1396.4 L988.5,1141.6 L996.2,1146.1Z" fill="#20e0e0" stroke="#117b7b" stroke-width="0.9"/><path d="M1000.8,1407.7 L1004.9,1405.1 L1012.2,1122.2 L1007.9,1124.7Z" fill="#159898"/><path d="M1007.9,1124.7 L1000.2,1120.3 L1004.5,1117.8 L1012.2,1122.2Z" fill="#1cc9c9"/><path d="M1000.8,1407.7 L993.4,1403.1 L1000.2,1120.3 L1007.9,1124.7Z" fill="#20e0e0" stroke="#117b7b" stroke-width="0.9"/><path d="M1011.4,1414.4 L1015.5,1411.8 L1023.1,1138.2 L1018.8,1140.7Z" fill="#159898"/><path d="M1018.8,1140.7 L1011,1136.3 L1015.3,1133.8 L1023.1,1138.2Z" fill="#1cc9c9"/><path d="M1011.4,1414.4 L1003.9,1409.7 L1011,1136.3 L1018.8,1140.7Z" fill="#20e0e0" stroke="#117b7b" stroke-width="0.9"/><path d="M1022,1421.2 L1026.1,1418.5 L1034,1152.2 L1029.7,1154.8Z" fill="#159898"/><path d="M1029.7,1154.8 L1021.9,1150.3 L1026.2,1147.8 L1034,1152.2Z" fill="#1cc9c9"/><path d="M1022,1421.2 L1014.6,1416.5 L1021.9,1150.3 L1029.7,1154.8Z" fill="#20e0e0" stroke="#117b7b" stroke-width="0.9"/><path d="M1032.7,1427.9 L1036.9,1425.3 L1047.5,1082.2 L1043.2,1084.7Z" fill="#159898"/><path d="M1043.2,1084.7 L1035.3,1080.3 L1039.6,1077.8 L1047.5,1082.2Z" fill="#1cc9c9"/><path d="M1032.7,1427.9 L1025.2,1423.2 L1035.3,1080.3 L1043.2,1084.7Z" fill="#20e0e0" stroke="#117b7b" stroke-width="0.9"/><path d="M1043.5,1434.7 L1047.6,1432.1 L1055.7,1187.3 L1051.4,1189.8Z" fill="#159898"/><path d="M1051.4,1189.8 L1043.6,1185.3 L1047.8,1182.7 L1055.7,1187.3Z" fill="#1cc9c9"/><path d="M1043.5,1434.7 L1036,1430 L1043.6,1185.3 L1051.4,1189.8Z" fill="#20e0e0" stroke="#117b7b" stroke-width="0.9"/><path d="M1054.3,1441.6 L1058.4,1438.9 L1066.8,1198.3 L1062.5,1200.8Z" fill="#159898"/><path d="M1062.5,1200.8 L1054.6,1196.3 L1058.9,1193.7 L1066.8,1198.3Z" fill="#1cc9c9"/><path d="M1054.3,1441.6 L1046.7,1436.8 L1054.6,1196.3 L1062.5,1200.8Z" fill="#20e0e0" stroke="#117b7b" stroke-width="0.9"/><path d="M1065.1,1448.4 L1069.2,1445.7 L1077.9,1208.3 L1073.7,1210.9Z" fill="#159898"/><path d="M1073.7,1210.9 L1065.8,1206.3 L1070,1203.7 L1077.9,1208.3Z" fill="#1cc9c9"/><path d="M1065.1,1448.4 L1057.5,1443.6 L1065.8,1206.3 L1073.7,1210.9Z" fill="#20e0e0" stroke="#117b7b" stroke-width="0.9"/></g>
<path d="M1012.4,1511.2 L401.9,1113.7 L406.1,1111.5 L1016.6,1508.4Z" fill="#1313b3" stroke="#888" stroke-width="0.8" opacity="0.75"/>
<g stroke-linejoin="round"><path d="M431.6,1133 L435.8,1130.8 L432.6,1080.6 L428.4,1082.8Z" fill="#101098"/><path d="M428.4,1082.8 L422.4,1078.9 L426.6,1076.8 L432.6,1080.6Z" fill="#1515c9"/><path d="M431.6,1133 L425.6,1129.1 L422.4,1078.9 L428.4,1082.8Z" fill="#1818e0" stroke="#0d0d7b" stroke-width="0.9"/><path d="M440.1,1138.6 L444.3,1136.4 L440.3,1070.9 L436.1,1073.1Z" fill="#101098"/><path d="M436.1,1073.1 L430,1069.2 L434.2,1067.1 L440.3,1070.9Z" fill="#1515c9"/><path d="M440.1,1138.6 L434.1,1134.7 L430,1069.2 L436.1,1073.1Z" fill="#1818e0" stroke="#0d0d7b" stroke-width="0.9"/><path d="M448.7,1144.2 L452.9,1142 L448,1061.1 L443.8,1063.3Z" fill="#101098"/><path d="M443.8,1063.3 L437.7,1059.4 L441.9,1057.3 L448,1061.1Z" fill="#1515c9"/><path d="M448.7,1144.2 L442.7,1140.3 L437.7,1059.4 L443.8,1063.3Z" fill="#1818e0" stroke="#0d0d7b" stroke-width="0.9"/><path d="M457.4,1149.8 L461.5,1147.6 L455.9,1051.3 L451.6,1053.4Z" fill="#101098"/><path d="M451.6,1053.4 L445.5,1049.6 L449.7,1047.4 L455.9,1051.3Z" fill="#1515c9"/><path d="M457.4,1149.8 L451.3,1145.9 L445.5,1049.6 L451.6,1053.4Z" fill="#1818e0" stroke="#0d0d7b" stroke-width="0.9"/><path d="M466,1155.4 L470.2,1153.2 L464.2,1049.4 L459.9,1051.5Z" fill="#101098"/><path d="M459.9,1051.5 L453.8,1047.6 L458,1045.5 L464.2,1049.4Z" fill="#1515c9"/><path d="M466,1155.4 L459.9,1151.5 L453.8,1047.6 L459.9,1051.5Z" fill="#1818e0" stroke="#0d0d7b" stroke-width="0.9"/><path d="M474.7,1161.1 L478.9,1158.9 L472.6,1047.4 L468.3,1049.6Z" fill="#101098"/><path d="M468.3,1049.6 L462.2,1045.7 L466.4,1043.6 L472.6,1047.4Z" fill="#1515c9"/><path d="M474.7,1161.1 L468.6,1157.1 L462.2,1045.7 L468.3,1049.6Z" fill="#1818e0" stroke="#0d0d7b" stroke-width="0.9"/><path d="M483.4,1166.8 L487.6,1164.6 L481.1,1045.5 L476.8,1047.7Z" fill="#101098"/><path d="M476.8,1047.7 L470.6,1043.8 L474.8,1041.6 L481.1,1045.5Z" fill="#1515c9"/><path d="M483.4,1166.8 L477.3,1162.8 L470.6,1043.8 L476.8,1047.7Z" fill="#1818e0" stroke="#0d0d7b" stroke-width="0.9"/><path d="M492.2,1172.5 L496.4,1170.3 L489.6,1043.5 L485.3,1045.7Z" fill="#101098"/><path d="M485.3,1045.7 L479,1041.8 L483.3,1039.7 L489.6,1043.5Z" fill="#1515c9"/><path d="M492.2,1172.5 L486.1,1168.5 L479,1041.8 L485.3,1045.7Z" fill="#1818e0" stroke="#0d0d7b" stroke-width="0.9"/><path d="M501,1178.2 L505.2,1176 L498.3,1045.3 L494,1047.5Z" fill="#101098"/><path d="M494,1047.5 L487.8,1043.5 L492.1,1041.4 L498.3,1045.3Z" fill="#1515c9"/><path d="M501,1178.2 L494.8,1174.2 L487.8,1043.5 L494,1047.5Z" fill="#1818e0" stroke="#0d0d7b" stroke-width="0.9"/><path d="M509.8,1184 L514,1181.7 L507.1,1047 L502.8,1049.2Z" fill="#101098"/><path d="M502.8,1049.2 L496.5,1045.3 L500.8,1043.1 L507.1,1047Z" fill="#1515c9"/><path d="M509.8,1184 L503.6,1179.9 L496.5,1045.3 L502.8,1049.2Z" fill="#1818e0" stroke="#0d0d7b" stroke-width="0.9"/><path d="M518.7,1189.7 L522.9,1187.5 L516.8,1064.5 L512.5,1066.7Z" fill="#101098"/><path d="M512.5,1066.7 L506.2,1062.8 L510.5,1060.6 L516.8,1064.5Z" fill="#1515c9"/><path d="M518.7,1189.7 L512.5,1185.7 L506.2,1062.8 L512.5,1066.7Z" fill="#1818e0" stroke="#0d0d7b" stroke-width="0.9"/><path d="M527.6,1195.5 L531.8,1193.3 L526.9,1091.9 L522.6,1094.2Z" fill="#101098"/><path d="M522.6,1094.2 L516.3,1090.2 L520.6,1088 L526.9,1091.9Z" fill="#1515c9"/><path d="M527.6,1195.5 L521.4,1191.5 L516.3,1090.2 L522.6,1094.2Z" fill="#1818e0" stroke="#0d0d7b" stroke-width="0.9"/><path d="M536.6,1201.4 L540.8,1199.1 L535.5,1086.7 L531.2,1088.9Z" fill="#101098"/><path d="M531.2,1088.9 L524.8,1084.9 L529.1,1082.7 L535.5,1086.7Z" fill="#1515c9"/><path d="M536.6,1201.4 L530.3,1197.3 L524.8,1084.9 L531.2,1088.9Z" fill="#1818e0" stroke="#0d0d7b" stroke-width="0.9"/><path d="M545.5,1207.2 L549.7,1204.9 L544.1,1081.4 L539.8,1083.6Z" fill="#101098"/><path d="M539.8,1083.6 L533.4,1079.6 L537.7,1077.4 L544.1,1081.4Z" fill="#1515c9"/><path d="M545.5,1207.2 L539.2,1203.1 L533.4,1079.6 L539.8,1083.6Z" fill="#1818e0" stroke="#0d0d7b" stroke-width="0.9"/><path d="M554.5,1213.1 L558.7,1210.8 L553,1081 L548.7,1083.2Z" fill="#101098"/><path d="M548.7,1083.2 L542.2,1079.2 L546.5,1077 L553,1081Z" fill="#1515c9"/><path d="M554.5,1213.1 L548.2,1209 L542.2,1079.2 L548.7,1083.2Z" fill="#1818e0" stroke="#0d0d7b" stroke-width="0.9"/><path d="M563.6,1219 L567.8,1216.7 L561.9,1080.6 L557.6,1082.8Z" fill="#101098"/><path d="M557.6,1082.8 L551.2,1078.8 L555.5,1076.6 L561.9,1080.6Z" fill="#1515c9"/><path d="M563.6,1219 L557.3,1214.8 L551.2,1078.8 L557.6,1082.8Z" fill="#1818e0" stroke="#0d0d7b" stroke-width="0.9"/><path d="M572.7,1224.9 L576.9,1222.6 L571.6,1095.1 L567.3,1097.4Z" fill="#101098"/><path d="M567.3,1097.4 L560.8,1093.3 L565.1,1091.1 L571.6,1095.1Z" fill="#1515c9"/><path d="M572.7,1224.9 L566.3,1220.7 L560.8,1093.3 L567.3,1097.4Z" fill="#1818e0" stroke="#0d0d7b" stroke-width="0.9"/><path d="M581.8,1230.8 L586,1228.5 L580.8,1099.8 L576.5,1102.1Z" fill="#101098"/><path d="M576.5,1102.1 L570,1098 L574.3,1095.8 L580.8,1099.8Z" fill="#1515c9"/><path d="M581.8,1230.8 L575.4,1226.7 L570,1098 L576.5,1102.1Z" fill="#1818e0" stroke="#0d0d7b" stroke-width="0.9"/><path d="M591,1236.8 L595.2,1234.5 L590.1,1104.5 L585.8,1106.8Z" fill="#101098"/><path d="M585.8,1106.8 L579.3,1102.7 L583.6,1100.4 L590.1,1104.5Z" fill="#1515c9"/><path d="M591,1236.8 L584.5,1232.6 L579.3,1102.7 L585.8,1106.8Z" fill="#1818e0" stroke="#0d0d7b" stroke-width="0.9"/><path d="M600.2,1242.8 L604.4,1240.4 L599.9,1121.4 L595.6,1123.7Z" fill="#101098"/><path d="M595.6,1123.7 L589.1,1119.6 L593.3,1117.3 L599.9,1121.4Z" fill="#1515c9"/><path d="M600.2,1242.8 L593.7,1238.6 L589.1,1119.6 L595.6,1123.7Z" fill="#1818e0" stroke="#0d0d7b" stroke-width="0.9"/><path d="M609.4,1248.8 L613.6,1246.4 L609.7,1138.4 L605.4,1140.7Z" fill="#101098"/><path d="M605.4,1140.7 L598.8,1136.6 L603.1,1134.3 L609.7,1138.4Z" fill="#1515c9"/><path d="M609.4,1248.8 L602.9,1244.6 L598.8,1136.6 L605.4,1140.7Z" fill="#1818e0" stroke="#0d0d7b" stroke-width="0.9"/><path d="M618.7,1254.8 L622.9,1252.5 L618.5,1125.6 L614.2,1127.9Z" fill="#101098"/><path d="M614.2,1127.9 L607.6,1123.8 L611.9,1121.5 L618.5,1125.6Z" fill="#1515c9"/><path d="M618.7,1254.8 L612.2,1250.6 L607.6,1123.8 L614.2,1127.9Z" fill="#1818e0" stroke="#0d0d7b" stroke-width="0.9"/><path d="M628,1260.9 L632.2,1258.5 L629.1,1166.6 L624.9,1168.9Z" fill="#101098"/><path d="M624.9,1168.9 L618.2,1164.8 L622.5,1162.5 L629.1,1166.6Z" fill="#1515c9"/><path d="M628,1260.9 L621.5,1256.6 L618.2,1164.8 L624.9,1168.9Z" fill="#1818e0" stroke="#0d0d7b" stroke-width="0.9"/><path d="M637.3,1267 L641.5,1264.6 L638.4,1165.1 L634.1,1167.4Z" fill="#101098"/><path d="M634.1,1167.4 L627.4,1163.2 L631.7,1160.9 L638.4,1165.1Z" fill="#1515c9"/><path d="M637.3,1267 L630.8,1262.7 L627.4,1163.2 L634.1,1167.4Z" fill="#1818e0" stroke="#0d0d7b" stroke-width="0.9"/><path d="M646.7,1273.1 L650.9,1270.7 L647.7,1163.6 L643.4,1165.9Z" fill="#101098"/><path d="M643.4,1165.9 L636.7,1161.7 L641,1159.4 L647.7,1163.6Z" fill="#1515c9"/><path d="M646.7,1273.1 L640.1,1268.8 L636.7,1161.7 L643.4,1165.9Z" fill="#1818e0" stroke="#0d0d7b" stroke-width="0.9"/><path d="M656.1,1279.2 L660.4,1276.8 L656.9,1155.7 L652.6,1158Z" fill="#101098"/><path d="M652.6,1158 L645.8,1153.8 L650.1,1151.5 L656.9,1155.7Z" fill="#1515c9"/><path d="M656.1,1279.2 L649.5,1274.9 L645.8,1153.8 L652.6,1158Z" fill="#1818e0" stroke="#0d0d7b" stroke-width="0.9"/><path d="M665.6,1285.4 L669.8,1283 L667.7,1206.6 L663.5,1209Z" fill="#101098"/><path d="M663.5,1209 L656.7,1204.7 L661,1202.4 L667.7,1206.6Z" fill="#1515c9"/><path d="M665.6,1285.4 L659,1281.1 L656.7,1204.7 L663.5,1209Z" fill="#1818e0" stroke="#0d0d7b" stroke-width="0.9"/><path d="M675.1,1291.6 L679.3,1289.2 L677,1201.1 L672.8,1203.5Z" fill="#101098"/><path d="M672.8,1203.5 L666,1199.2 L670.3,1196.9 L677,1201.1Z" fill="#1515c9"/><path d="M675.1,1291.6 L668.4,1287.2 L666,1199.2 L672.8,1203.5Z" fill="#1818e0" stroke="#0d0d7b" stroke-width="0.9"/><path d="M684.6,1297.8 L688.9,1295.4 L686.4,1195.6 L682.1,1198Z" fill="#101098"/><path d="M682.1,1198 L675.4,1193.7 L679.6,1191.4 L686.4,1195.6Z" fill="#1515c9"/><path d="M684.6,1297.8 L678,1293.4 L675.4,1193.7 L682.1,1198Z" fill="#1818e0" stroke="#0d0d7b" stroke-width="0.9"/><path d="M694.2,1304 L698.5,1301.6 L695.7,1181.5 L691.4,1183.8Z" fill="#101098"/><path d="M691.4,1183.8 L684.6,1179.6 L688.9,1177.2 L695.7,1181.5Z" fill="#1515c9"/><path d="M694.2,1304 L687.5,1299.7 L684.6,1179.6 L691.4,1183.8Z" fill="#1818e0" stroke="#0d0d7b" stroke-width="0.9"/><path d="M703.9,1310.3 L708.1,1307.8 L705.7,1198 L701.4,1200.4Z" fill="#101098"/><path d="M701.4,1200.4 L694.6,1196.1 L698.9,1193.7 L705.7,1198Z" fill="#1515c9"/><path d="M703.9,1310.3 L697.1,1305.9 L694.6,1196.1 L701.4,1200.4Z" fill="#1818e0" stroke="#0d0d7b" stroke-width="0.9"/><path d="M713.5,1316.6 L717.7,1314.1 L715.7,1214.5 L711.5,1216.9Z" fill="#101098"/><path d="M711.5,1216.9 L704.6,1212.6 L708.9,1210.1 L715.7,1214.5Z" fill="#1515c9"/><path d="M713.5,1316.6 L706.7,1312.2 L704.6,1212.6 L711.5,1216.9Z" fill="#1818e0" stroke="#0d0d7b" stroke-width="0.9"/><path d="M723.2,1322.9 L727.4,1320.4 L725.6,1221 L721.3,1223.4Z" fill="#101098"/><path d="M721.3,1223.4 L714.4,1219.1 L718.7,1216.6 L725.6,1221Z" fill="#1515c9"/><path d="M723.2,1322.9 L716.4,1318.5 L714.4,1219.1 L721.3,1223.4Z" fill="#1818e0" stroke="#0d0d7b" stroke-width="0.9"/><path d="M733,1329.2 L737.2,1326.8 L735.7,1240.4 L731.4,1242.9Z" fill="#101098"/><path d="M731.4,1242.9 L724.5,1238.5 L728.8,1236 L735.7,1240.4Z" fill="#1515c9"/><path d="M733,1329.2 L726.1,1324.8 L724.5,1238.5 L731.4,1242.9Z" fill="#1818e0" stroke="#0d0d7b" stroke-width="0.9"/><path d="M742.7,1335.6 L747,1333.1 L745.5,1236.4 L741.2,1238.8Z" fill="#101098"/><path d="M741.2,1238.8 L734.2,1234.4 L738.5,1232 L745.5,1236.4Z" fill="#1515c9"/><path d="M742.7,1335.6 L735.9,1331.1 L734.2,1234.4 L741.2,1238.8Z" fill="#1818e0" stroke="#0d0d7b" stroke-width="0.9"/><path d="M752.6,1342 L756.8,1339.5 L755.3,1232.3 L751,1234.7Z" fill="#101098"/><path d="M751,1234.7 L744,1230.3 L748.3,1227.9 L755.3,1232.3Z" fill="#1515c9"/><path d="M752.6,1342 L745.7,1337.5 L744,1230.3 L751,1234.7Z" fill="#1818e0" stroke="#0d0d7b" stroke-width="0.9"/><path d="M762.4,1348.4 L766.7,1345.9 L765.2,1223.9 L760.9,1226.4Z" fill="#101098"/><path d="M760.9,1226.4 L753.8,1222 L758.1,1219.5 L765.2,1223.9Z" fill="#1515c9"/><path d="M762.4,1348.4 L755.5,1343.9 L753.8,1222 L760.9,1226.4Z" fill="#1818e0" stroke="#0d0d7b" stroke-width="0.9"/><path d="M772.3,1354.9 L776.6,1352.4 L775.3,1233.4 L771,1235.9Z" fill="#101098"/><path d="M771,1235.9 L763.9,1231.5 L768.2,1229 L775.3,1233.4Z" fill="#1515c9"/><path d="M772.3,1354.9 L765.4,1350.4 L763.9,1231.5 L771,1235.9Z" fill="#1818e0" stroke="#0d0d7b" stroke-width="0.9"/><path d="M782.3,1361.4 L786.5,1358.8 L785.5,1243 L781.2,1245.4Z" fill="#101098"/><path d="M781.2,1245.4 L774.1,1241 L778.4,1238.5 L785.5,1243Z" fill="#1515c9"/><path d="M782.3,1361.4 L775.3,1356.8 L774.1,1241 L781.2,1245.4Z" fill="#1818e0" stroke="#0d0d7b" stroke-width="0.9"/><path d="M792.3,1367.9 L796.5,1365.3 L795.4,1211.8 L791,1214.3Z" fill="#101098"/><path d="M791,1214.3 L783.9,1209.9 L788.2,1207.4 L795.4,1211.8Z" fill="#1515c9"/><path d="M792.3,1367.9 L785.3,1363.3 L783.9,1209.9 L791,1214.3Z" fill="#1818e0" stroke="#0d0d7b" stroke-width="0.9"/><path d="M802.3,1374.4 L806.6,1371.9 L805.7,1220.7 L801.3,1223.2Z" fill="#101098"/><path d="M801.3,1223.2 L794.1,1218.8 L798.5,1216.3 L805.7,1220.7Z" fill="#1515c9"/><path d="M802.3,1374.4 L795.3,1369.8 L794.1,1218.8 L801.3,1223.2Z" fill="#1818e0" stroke="#0d0d7b" stroke-width="0.9"/><path d="M812.4,1381 L816.6,1378.4 L815.9,1217.2 L811.6,1219.7Z" fill="#101098"/><path d="M811.6,1219.7 L804.4,1215.2 L808.7,1212.8 L815.9,1217.2Z" fill="#1515c9"/><path d="M812.4,1381 L805.3,1376.4 L804.4,1215.2 L811.6,1219.7Z" fill="#1818e0" stroke="#0d0d7b" stroke-width="0.9"/><path d="M822.5,1387.6 L826.8,1385 L826.3,1208.5 L821.9,1211Z" fill="#101098"/><path d="M821.9,1211 L814.6,1206.5 L819,1204 L826.3,1208.5Z" fill="#1515c9"/><path d="M822.5,1387.6 L815.4,1382.9 L814.6,1206.5 L821.9,1211Z" fill="#1818e0" stroke="#0d0d7b" stroke-width="0.9"/><path d="M832.7,1394.2 L836.9,1391.6 L836.7,1199.7 L832.3,1202.2Z" fill="#101098"/><path d="M832.3,1202.2 L825,1197.8 L829.4,1195.3 L836.7,1199.7Z" fill="#1515c9"/><path d="M832.7,1394.2 L825.6,1389.5 L825,1197.8 L832.3,1202.2Z" fill="#1818e0" stroke="#0d0d7b" stroke-width="0.9"/><path d="M842.9,1400.8 L847.1,1398.2 L847.2,1216.1 L842.9,1218.6Z" fill="#101098"/><path d="M842.9,1218.6 L835.5,1214.1 L839.9,1211.6 L847.2,1216.1Z" fill="#1515c9"/><path d="M842.9,1400.8 L835.7,1396.2 L835.5,1214.1 L842.9,1218.6Z" fill="#1818e0" stroke="#0d0d7b" stroke-width="0.9"/><path d="M853.2,1407.5 L857.4,1404.9 L857.7,1244.4 L853.4,1246.9Z" fill="#101098"/><path d="M853.4,1246.9 L846,1242.4 L850.4,1239.8 L857.7,1244.4Z" fill="#1515c9"/><path d="M853.2,1407.5 L846,1402.8 L846,1242.4 L853.4,1246.9Z" fill="#1818e0" stroke="#0d0d7b" stroke-width="0.9"/><path d="M863.4,1414.2 L867.7,1411.6 L868.4,1235.9 L864,1238.4Z" fill="#101098"/><path d="M864,1238.4 L856.6,1233.9 L860.9,1231.3 L868.4,1235.9Z" fill="#1515c9"/><path d="M863.4,1414.2 L856.2,1409.5 L856.6,1233.9 L864,1238.4Z" fill="#1818e0" stroke="#0d0d7b" stroke-width="0.9"/><path d="M873.8,1420.9 L878,1418.3 L879.3,1185.4 L874.9,1188Z" fill="#101098"/><path d="M874.9,1188 L867.4,1183.4 L871.8,1180.9 L879.3,1185.4Z" fill="#1515c9"/><path d="M873.8,1420.9 L866.5,1416.2 L867.4,1183.4 L874.9,1188Z" fill="#1818e0" stroke="#0d0d7b" stroke-width="0.9"/><path d="M884.2,1427.7 L888.4,1425.1 L890.1,1186.9 L885.7,1189.4Z" fill="#101098"/><path d="M885.7,1189.4 L878.2,1184.8 L882.6,1182.3 L890.1,1186.9Z" fill="#1515c9"/><path d="M884.2,1427.7 L876.9,1423 L878.2,1184.8 L885.7,1189.4Z" fill="#1818e0" stroke="#0d0d7b" stroke-width="0.9"/><path d="M894.6,1434.5 L898.8,1431.8 L901,1188.3 L896.6,1190.8Z" fill="#101098"/><path d="M896.6,1190.8 L889,1186.3 L893.4,1183.7 L901,1188.3Z" fill="#1515c9"/><path d="M894.6,1434.5 L887.3,1429.7 L889,1186.3 L896.6,1190.8Z" fill="#1818e0" stroke="#0d0d7b" stroke-width="0.9"/><path d="M905.1,1441.3 L909.3,1438.6 L912.3,1160.3 L907.8,1162.8Z" fill="#101098"/><path d="M907.8,1162.8 L900.2,1158.3 L904.6,1155.7 L912.3,1160.3Z" fill="#1515c9"/><path d="M905.1,1441.3 L897.7,1436.5 L900.2,1158.3 L907.8,1162.8Z" fill="#1818e0" stroke="#0d0d7b" stroke-width="0.9"/><path d="M915.6,1448.2 L919.8,1445.5 L924.3,1080.2 L919.8,1082.7Z" fill="#101098"/><path d="M919.8,1082.7 L912,1078.3 L916.5,1075.8 L924.3,1080.2Z" fill="#1515c9"/><path d="M915.6,1448.2 L908.2,1443.4 L912,1078.3 L919.8,1082.7Z" fill="#1818e0" stroke="#0d0d7b" stroke-width="0.9"/><path d="M926.2,1455 L930.4,1452.3 L935.7,1078.3 L931.2,1080.8Z" fill="#101098"/><path d="M931.2,1080.8 L923.3,1076.3 L927.8,1073.8 L935.7,1078.3Z" fill="#1515c9"/><path d="M926.2,1455 L918.8,1450.2 L923.3,1076.3 L931.2,1080.8Z" fill="#1818e0" stroke="#0d0d7b" stroke-width="0.9"/><path d="M936.8,1461.9 L941,1459.2 L948,1014.2 L943.5,1016.7Z" fill="#101098"/><path d="M943.5,1016.7 L935.5,1012.3 L940.1,1009.8 L948,1014.2Z" fill="#1515c9"/><path d="M936.8,1461.9 L929.3,1457.1 L935.5,1012.3 L943.5,1016.7Z" fill="#1818e0" stroke="#0d0d7b" stroke-width="0.9"/><path d="M947.4,1468.9 L951.7,1466.2 L960.5,962.2 L955.9,964.7Z" fill="#101098"/><path d="M955.9,964.7 L947.8,960.3 L952.4,957.8 L960.5,962.2Z" fill="#1515c9"/><path d="M947.4,1468.9 L940,1464 L947.8,960.3 L955.9,964.7Z" fill="#1818e0" stroke="#0d0d7b" stroke-width="0.9"/><path d="M958.1,1475.9 L962.4,1473.1 L973.1,919.7 L968.4,922.1Z" fill="#101098"/><path d="M968.4,922.1 L960.3,917.7 L964.9,915.3 L973.1,919.7Z" fill="#1515c9"/><path d="M958.1,1475.9 L950.6,1471 L960.3,917.7 L968.4,922.1Z" fill="#1818e0" stroke="#0d0d7b" stroke-width="0.9"/><path d="M968.9,1482.9 L973.1,1480.1 L982.6,1029.3 L978.1,1031.8Z" fill="#101098"/><path d="M978.1,1031.8 L970,1027.3 L974.5,1024.7 L982.6,1029.3Z" fill="#1515c9"/><path d="M968.9,1482.9 L961.4,1478 L970,1027.3 L978.1,1031.8Z" fill="#1818e0" stroke="#0d0d7b" stroke-width="0.9"/><path d="M979.7,1489.9 L983.9,1487.1 L995.6,976.7 L991,979.2Z" fill="#101098"/><path d="M991,979.2 L982.8,974.8 L987.4,972.3 L995.6,976.7Z" fill="#1515c9"/><path d="M979.7,1489.9 L972.1,1485 L982.8,974.8 L991,979.2Z" fill="#1818e0" stroke="#0d0d7b" stroke-width="0.9"/><path d="M990.5,1497 L994.8,1494.2 L1011.9,801.2 L1007.2,803.6Z" fill="#101098"/><path d="M1007.2,803.6 L998.7,799.2 L1003.4,796.8 L1011.9,801.2Z" fill="#1515c9"/><path d="M990.5,1497 L982.9,1492 L998.7,799.2 L1007.2,803.6Z" fill="#1818e0" stroke="#0d0d7b" stroke-width="0.9"/></g>
<path d="M935.5,1561.7 L326.2,1152.4 L330.5,1150.2 L939.8,1558.8Z" fill="#13b313" stroke="#888" stroke-width="0.8" opacity="0.75"/>
<g stroke-linejoin="round"><path d="M355.8,1172.3 L360.1,1170 L354.5,1096.3 L350.2,1098.4Z" fill="#109810"/><path d="M350.2,1098.4 L344.2,1094.5 L348.5,1092.3 L354.5,1096.3Z" fill="#15c915"/><path d="M355.8,1172.3 L349.8,1168.3 L344.2,1094.5 L350.2,1098.4Z" fill="#18e018" stroke="#0d7b0d" stroke-width="0.9"/><path d="M364.3,1178 L368.6,1175.8 L361.6,1080.6 L357.2,1082.8Z" fill="#109810"/><path d="M357.2,1082.8 L351.2,1078.9 L355.5,1076.7 L361.6,1080.6Z" fill="#15c915"/><path d="M364.3,1178 L358.3,1174 L351.2,1078.9 L357.2,1082.8Z" fill="#18e018" stroke="#0d7b0d" stroke-width="0.9"/><path d="M372.9,1183.7 L377.2,1181.5 L368.7,1064.8 L364.3,1067Z" fill="#109810"/><path d="M364.3,1067 L358.2,1063.1 L362.6,1060.9 L368.7,1064.8Z" fill="#15c915"/><path d="M372.9,1183.7 L366.9,1179.7 L358.2,1063.1 L364.3,1067Z" fill="#18e018" stroke="#0d7b0d" stroke-width="0.9"/><path d="M381.4,1189.5 L385.8,1187.3 L376.6,1058.1 L372.2,1060.3Z" fill="#109810"/><path d="M372.2,1060.3 L366,1056.4 L370.4,1054.2 L376.6,1058.1Z" fill="#15c915"/><path d="M381.4,1189.5 L375.4,1185.5 L366,1056.4 L372.2,1060.3Z" fill="#18e018" stroke="#0d7b0d" stroke-width="0.9"/><path d="M390.1,1195.3 L394.4,1193.1 L384.5,1051.4 L380.1,1053.6Z" fill="#109810"/><path d="M380.1,1053.6 L373.9,1049.7 L378.3,1047.5 L384.5,1051.4Z" fill="#15c915"/><path d="M390.1,1195.3 L384,1191.3 L373.9,1049.7 L380.1,1053.6Z" fill="#18e018" stroke="#0d7b0d" stroke-width="0.9"/><path d="M398.7,1201.1 L403.1,1198.9 L392.5,1044.6 L388,1046.8Z" fill="#109810"/><path d="M388,1046.8 L381.8,1042.9 L386.3,1040.7 L392.5,1044.6Z" fill="#15c915"/><path d="M398.7,1201.1 L392.7,1197.1 L381.8,1042.9 L388,1046.8Z" fill="#18e018" stroke="#0d7b0d" stroke-width="0.9"/><path d="M407.4,1207 L411.8,1204.7 L401.8,1057.3 L397.4,1059.5Z" fill="#109810"/><path d="M397.4,1059.5 L391.2,1055.5 L395.6,1053.3 L401.8,1057.3Z" fill="#15c915"/><path d="M407.4,1207 L401.3,1202.9 L391.2,1055.5 L397.4,1059.5Z" fill="#18e018" stroke="#0d7b0d" stroke-width="0.9"/><path d="M416.2,1212.9 L420.5,1210.6 L409.3,1041.3 L404.9,1043.5Z" fill="#109810"/><path d="M404.9,1043.5 L398.6,1039.5 L403,1037.3 L409.3,1041.3Z" fill="#15c915"/><path d="M416.2,1212.9 L410.1,1208.7 L398.6,1039.5 L404.9,1043.5Z" fill="#18e018" stroke="#0d7b0d" stroke-width="0.9"/><path d="M424.9,1218.7 L429.3,1216.4 L416.9,1025.7 L412.5,1028Z" fill="#109810"/><path d="M412.5,1028 L406.2,1024 L410.6,1021.8 L416.9,1025.7Z" fill="#15c915"/><path d="M424.9,1218.7 L418.8,1214.6 L406.2,1024 L412.5,1028Z" fill="#18e018" stroke="#0d7b0d" stroke-width="0.9"/><path d="M433.8,1224.7 L438.1,1222.4 L424.6,1010.1 L420.1,1012.3Z" fill="#109810"/><path d="M420.1,1012.3 L413.8,1008.3 L418.3,1006.1 L424.6,1010.1Z" fill="#15c915"/><path d="M433.8,1224.7 L427.6,1220.5 L413.8,1008.3 L420.1,1012.3Z" fill="#18e018" stroke="#0d7b0d" stroke-width="0.9"/><path d="M442.6,1230.6 L446.9,1228.3 L432.4,994.2 L427.9,996.4Z" fill="#109810"/><path d="M427.9,996.4 L421.5,992.5 L426,990.3 L432.4,994.2Z" fill="#15c915"/><path d="M442.6,1230.6 L436.4,1226.4 L421.5,992.5 L427.9,996.4Z" fill="#18e018" stroke="#0d7b0d" stroke-width="0.9"/><path d="M451.5,1236.6 L455.8,1234.2 L444.1,1042.4 L439.7,1044.7Z" fill="#109810"/><path d="M439.7,1044.7 L433.3,1040.6 L437.7,1038.4 L444.1,1042.4Z" fill="#15c915"/><path d="M451.5,1236.6 L445.3,1232.4 L433.3,1040.6 L439.7,1044.7Z" fill="#18e018" stroke="#0d7b0d" stroke-width="0.9"/><path d="M460.4,1242.5 L464.7,1240.2 L451.3,1014.8 L446.8,1017.1Z" fill="#109810"/><path d="M446.8,1017.1 L440.4,1013.1 L444.9,1010.8 L451.3,1014.8Z" fill="#15c915"/><path d="M460.4,1242.5 L454.1,1238.4 L440.4,1013.1 L446.8,1017.1Z" fill="#18e018" stroke="#0d7b0d" stroke-width="0.9"/><path d="M469.3,1248.6 L473.7,1246.2 L460,1010.7 L455.5,1012.9Z" fill="#109810"/><path d="M455.5,1012.9 L449,1008.9 L453.5,1006.7 L460,1010.7Z" fill="#15c915"/><path d="M469.3,1248.6 L463.1,1244.4 L449,1008.9 L455.5,1012.9Z" fill="#18e018" stroke="#0d7b0d" stroke-width="0.9"/><path d="M478.3,1254.6 L482.6,1252.2 L469.6,1021.6 L465.1,1023.9Z" fill="#109810"/><path d="M465.1,1023.9 L458.6,1019.8 L463.1,1017.6 L469.6,1021.6Z" fill="#15c915"/><path d="M478.3,1254.6 L472,1250.4 L458.6,1019.8 L465.1,1023.9Z" fill="#18e018" stroke="#0d7b0d" stroke-width="0.9"/><path d="M487.3,1260.7 L491.7,1258.3 L479.2,1032.5 L474.7,1034.8Z" fill="#109810"/><path d="M474.7,1034.8 L468.2,1030.7 L472.6,1028.5 L479.2,1032.5Z" fill="#15c915"/><path d="M487.3,1260.7 L481,1256.4 L468.2,1030.7 L474.7,1034.8Z" fill="#18e018" stroke="#0d7b0d" stroke-width="0.9"/><path d="M496.4,1266.7 L500.7,1264.4 L488.6,1039.8 L484.1,1042.1Z" fill="#109810"/><path d="M484.1,1042.1 L477.6,1038 L482.1,1035.7 L488.6,1039.8Z" fill="#15c915"/><path d="M496.4,1266.7 L490.1,1262.5 L477.6,1038 L484.1,1042.1Z" fill="#18e018" stroke="#0d7b0d" stroke-width="0.9"/><path d="M505.5,1272.9 L509.8,1270.5 L498.5,1055.7 L494,1058Z" fill="#109810"/><path d="M494,1058 L487.5,1053.9 L492,1051.6 L498.5,1055.7Z" fill="#15c915"/><path d="M505.5,1272.9 L499.1,1268.6 L487.5,1053.9 L494,1058Z" fill="#18e018" stroke="#0d7b0d" stroke-width="0.9"/><path d="M514.6,1279 L519,1276.6 L508.5,1071.7 L504,1074Z" fill="#109810"/><path d="M504,1074 L497.4,1069.8 L501.9,1067.5 L508.5,1071.7Z" fill="#15c915"/><path d="M514.6,1279 L508.2,1274.7 L497.4,1069.8 L504,1074Z" fill="#18e018" stroke="#0d7b0d" stroke-width="0.9"/><path d="M523.8,1285.2 L528.1,1282.7 L518.7,1093.4 L514.2,1095.8Z" fill="#109810"/><path d="M514.2,1095.8 L507.6,1091.6 L512.1,1089.3 L518.7,1093.4Z" fill="#15c915"/><path d="M523.8,1285.2 L517.4,1280.8 L507.6,1091.6 L514.2,1095.8Z" fill="#18e018" stroke="#0d7b0d" stroke-width="0.9"/><path d="M533,1291.3 L537.3,1288.9 L528.8,1112.4 L524.3,1114.8Z" fill="#109810"/><path d="M524.3,1114.8 L517.7,1110.6 L522.2,1108.3 L528.8,1112.4Z" fill="#15c915"/><path d="M533,1291.3 L526.6,1287 L517.7,1110.6 L524.3,1114.8Z" fill="#18e018" stroke="#0d7b0d" stroke-width="0.9"/><path d="M542.3,1297.6 L546.6,1295.1 L538.9,1131.5 L534.5,1133.8Z" fill="#109810"/><path d="M534.5,1133.8 L527.8,1129.6 L532.3,1127.2 L538.9,1131.5Z" fill="#15c915"/><path d="M542.3,1297.6 L535.8,1293.2 L527.8,1129.6 L534.5,1133.8Z" fill="#18e018" stroke="#0d7b0d" stroke-width="0.9"/><path d="M551.5,1303.8 L555.9,1301.4 L546.9,1104.7 L542.4,1107.1Z" fill="#109810"/><path d="M542.4,1107.1 L535.8,1102.8 L540.2,1100.5 L546.9,1104.7Z" fill="#15c915"/><path d="M551.5,1303.8 L545,1299.4 L535.8,1102.8 L542.4,1107.1Z" fill="#18e018" stroke="#0d7b0d" stroke-width="0.9"/><path d="M560.9,1310.1 L565.2,1307.6 L557.1,1122.7 L552.6,1125Z" fill="#109810"/><path d="M552.6,1125 L545.9,1120.8 L550.3,1118.4 L557.1,1122.7Z" fill="#15c915"/><path d="M560.9,1310.1 L554.3,1305.7 L545.9,1120.8 L552.6,1125Z" fill="#18e018" stroke="#0d7b0d" stroke-width="0.9"/><path d="M570.2,1316.3 L574.6,1313.9 L567.2,1140.6 L562.7,1143Z" fill="#109810"/><path d="M562.7,1143 L556,1138.7 L560.5,1136.4 L567.2,1140.6Z" fill="#15c915"/><path d="M570.2,1316.3 L563.7,1311.9 L556,1138.7 L562.7,1143Z" fill="#18e018" stroke="#0d7b0d" stroke-width="0.9"/><path d="M579.6,1322.7 L584,1320.2 L577,1149.9 L572.5,1152.3Z" fill="#109810"/><path d="M572.5,1152.3 L565.7,1148 L570.2,1145.6 L577,1149.9Z" fill="#15c915"/><path d="M579.6,1322.7 L573.1,1318.2 L565.7,1148 L572.5,1152.3Z" fill="#18e018" stroke="#0d7b0d" stroke-width="0.9"/><path d="M589.1,1329 L593.4,1326.5 L586.8,1159.2 L582.3,1161.6Z" fill="#109810"/><path d="M582.3,1161.6 L575.5,1157.3 L580,1154.9 L586.8,1159.2Z" fill="#15c915"/><path d="M589.1,1329 L582.5,1324.6 L575.5,1157.3 L582.3,1161.6Z" fill="#18e018" stroke="#0d7b0d" stroke-width="0.9"/><path d="M598.6,1335.4 L602.9,1332.9 L596.5,1165 L592,1167.4Z" fill="#109810"/><path d="M592,1167.4 L585.2,1163 L589.7,1160.6 L596.5,1165Z" fill="#15c915"/><path d="M598.6,1335.4 L591.9,1330.9 L585.2,1163 L592,1167.4Z" fill="#18e018" stroke="#0d7b0d" stroke-width="0.9"/><path d="M608.1,1341.8 L612.4,1339.3 L606.2,1170.7 L601.8,1173.1Z" fill="#109810"/><path d="M601.8,1173.1 L594.9,1168.8 L599.4,1166.4 L606.2,1170.7Z" fill="#15c915"/><path d="M608.1,1341.8 L601.4,1337.3 L594.9,1168.8 L601.8,1173.1Z" fill="#18e018" stroke="#0d7b0d" stroke-width="0.9"/><path d="M617.6,1348.2 L622,1345.7 L615.9,1173.1 L611.4,1175.5Z" fill="#109810"/><path d="M611.4,1175.5 L604.6,1171.1 L609,1168.7 L615.9,1173.1Z" fill="#15c915"/><path d="M617.6,1348.2 L611,1343.7 L604.6,1171.1 L611.4,1175.5Z" fill="#18e018" stroke="#0d7b0d" stroke-width="0.9"/><path d="M627.3,1354.6 L631.6,1352.1 L625.6,1175.4 L621.1,1177.9Z" fill="#109810"/><path d="M621.1,1177.9 L614.2,1173.5 L618.7,1171.1 L625.6,1175.4Z" fill="#15c915"/><path d="M627.3,1354.6 L620.5,1350.1 L614.2,1173.5 L621.1,1177.9Z" fill="#18e018" stroke="#0d7b0d" stroke-width="0.9"/><path d="M636.9,1361.1 L641.2,1358.6 L636,1195.1 L631.5,1197.6Z" fill="#109810"/><path d="M631.5,1197.6 L624.6,1193.1 L629,1190.7 L636,1195.1Z" fill="#15c915"/><path d="M636.9,1361.1 L630.1,1356.6 L624.6,1193.1 L631.5,1197.6Z" fill="#18e018" stroke="#0d7b0d" stroke-width="0.9"/><path d="M646.6,1367.6 L650.9,1365.1 L646.6,1223.5 L642.1,1225.9Z" fill="#109810"/><path d="M642.1,1225.9 L635.2,1221.5 L639.6,1219 L646.6,1223.5Z" fill="#15c915"/><path d="M646.6,1367.6 L639.8,1363.1 L635.2,1221.5 L642.1,1225.9Z" fill="#18e018" stroke="#0d7b0d" stroke-width="0.9"/><path d="M656.3,1374.2 L660.7,1371.6 L656.6,1234.1 L652.2,1236.6Z" fill="#109810"/><path d="M652.2,1236.6 L645.2,1232.2 L649.7,1229.7 L656.6,1234.1Z" fill="#15c915"/><path d="M656.3,1374.2 L649.5,1369.6 L645.2,1232.2 L652.2,1236.6Z" fill="#18e018" stroke="#0d7b0d" stroke-width="0.9"/><path d="M666.1,1380.7 L670.4,1378.2 L666.7,1244.9 L662.3,1247.4Z" fill="#109810"/><path d="M662.3,1247.4 L655.3,1242.9 L659.7,1240.4 L666.7,1244.9Z" fill="#15c915"/><path d="M666.1,1380.7 L659.2,1376.1 L655.3,1242.9 L662.3,1247.4Z" fill="#18e018" stroke="#0d7b0d" stroke-width="0.9"/><path d="M675.9,1387.3 L680.2,1384.7 L676.3,1234.7 L671.8,1237.2Z" fill="#109810"/><path d="M671.8,1237.2 L664.8,1232.7 L669.3,1230.2 L676.3,1234.7Z" fill="#15c915"/><path d="M675.9,1387.3 L669,1382.7 L664.8,1232.7 L671.8,1237.2Z" fill="#18e018" stroke="#0d7b0d" stroke-width="0.9"/><path d="M685.7,1393.9 L690.1,1391.3 L686.8,1260.2 L682.4,1262.7Z" fill="#109810"/><path d="M682.4,1262.7 L675.4,1258.1 L679.8,1255.6 L686.8,1260.2Z" fill="#15c915"/><path d="M685.7,1393.9 L678.8,1389.3 L675.4,1258.1 L682.4,1262.7Z" fill="#18e018" stroke="#0d7b0d" stroke-width="0.9"/><path d="M695.6,1400.6 L700,1398 L696.8,1260.1 L692.3,1262.6Z" fill="#109810"/><path d="M692.3,1262.6 L685.3,1258.1 L689.7,1255.5 L696.8,1260.1Z" fill="#15c915"/><path d="M695.6,1400.6 L688.7,1395.9 L685.3,1258.1 L692.3,1262.6Z" fill="#18e018" stroke="#0d7b0d" stroke-width="0.9"/><path d="M705.6,1407.2 L709.9,1404.6 L706.8,1260 L702.3,1262.5Z" fill="#109810"/><path d="M702.3,1262.5 L695.2,1258 L699.7,1255.4 L706.8,1260Z" fill="#15c915"/><path d="M705.6,1407.2 L698.6,1402.6 L695.2,1258 L702.3,1262.5Z" fill="#18e018" stroke="#0d7b0d" stroke-width="0.9"/><path d="M715.5,1414 L719.9,1411.3 L717.4,1286.1 L712.9,1288.7Z" fill="#109810"/><path d="M712.9,1288.7 L705.8,1284.1 L710.3,1281.6 L717.4,1286.1Z" fill="#15c915"/><path d="M715.5,1414 L708.5,1409.3 L705.8,1284.1 L712.9,1288.7Z" fill="#18e018" stroke="#0d7b0d" stroke-width="0.9"/><path d="M725.6,1420.7 L729.9,1418.1 L727.7,1296.8 L723.2,1299.4Z" fill="#109810"/><path d="M723.2,1299.4 L716.1,1294.8 L720.5,1292.2 L727.7,1296.8Z" fill="#15c915"/><path d="M725.6,1420.7 L718.5,1416 L716.1,1294.8 L723.2,1299.4Z" fill="#18e018" stroke="#0d7b0d" stroke-width="0.9"/><path d="M735.6,1427.4 L740,1424.8 L738,1307.6 L733.6,1310.2Z" fill="#109810"/><path d="M733.6,1310.2 L726.4,1305.5 L730.8,1302.9 L738,1307.6Z" fill="#15c915"/><path d="M735.6,1427.4 L728.6,1422.7 L726.4,1305.5 L733.6,1310.2Z" fill="#18e018" stroke="#0d7b0d" stroke-width="0.9"/><path d="M745.7,1434.2 L750.1,1431.6 L748.2,1305.5 L743.7,1308.1Z" fill="#109810"/><path d="M743.7,1308.1 L736.5,1303.5 L741,1300.9 L748.2,1305.5Z" fill="#15c915"/><path d="M745.7,1434.2 L738.6,1429.5 L736.5,1303.5 L743.7,1308.1Z" fill="#18e018" stroke="#0d7b0d" stroke-width="0.9"/><path d="M755.9,1441.1 L760.2,1438.4 L758.4,1303.5 L754,1306.1Z" fill="#109810"/><path d="M754,1306.1 L746.7,1301.4 L751.2,1298.8 L758.4,1303.5Z" fill="#15c915"/><path d="M755.9,1441.1 L748.8,1436.3 L746.7,1301.4 L754,1306.1Z" fill="#18e018" stroke="#0d7b0d" stroke-width="0.9"/><path d="M766.1,1447.9 L770.4,1445.2 L768.9,1314.5 L764.4,1317.1Z" fill="#109810"/><path d="M764.4,1317.1 L757.1,1312.4 L761.6,1309.8 L768.9,1314.5Z" fill="#15c915"/><path d="M766.1,1447.9 L758.9,1443.1 L757.1,1312.4 L764.4,1317.1Z" fill="#18e018" stroke="#0d7b0d" stroke-width="0.9"/><path d="M776.3,1454.8 L780.7,1452.1 L779.2,1309 L774.7,1311.6Z" fill="#109810"/><path d="M774.7,1311.6 L767.4,1306.9 L771.9,1304.3 L779.2,1309Z" fill="#15c915"/><path d="M776.3,1454.8 L769.1,1450 L767.4,1306.9 L774.7,1311.6Z" fill="#18e018" stroke="#0d7b0d" stroke-width="0.9"/><path d="M786.6,1461.7 L791,1459 L789.7,1306 L785.2,1308.7Z" fill="#109810"/><path d="M785.2,1308.7 L777.8,1303.9 L782.3,1301.3 L789.7,1306Z" fill="#15c915"/><path d="M786.6,1461.7 L779.4,1456.9 L777.8,1303.9 L785.2,1308.7Z" fill="#18e018" stroke="#0d7b0d" stroke-width="0.9"/><path d="M796.9,1468.6 L801.3,1465.9 L800.2,1303 L795.7,1305.7Z" fill="#109810"/><path d="M795.7,1305.7 L788.3,1300.9 L792.7,1298.3 L800.2,1303Z" fill="#15c915"/><path d="M796.9,1468.6 L789.7,1463.8 L788.3,1300.9 L795.7,1305.7Z" fill="#18e018" stroke="#0d7b0d" stroke-width="0.9"/><path d="M807.3,1475.6 L811.7,1472.9 L810.8,1314.2 L806.4,1316.9Z" fill="#109810"/><path d="M806.4,1316.9 L798.9,1312.1 L803.4,1309.5 L810.8,1314.2Z" fill="#15c915"/><path d="M807.3,1475.6 L800,1470.7 L798.9,1312.1 L806.4,1316.9Z" fill="#18e018" stroke="#0d7b0d" stroke-width="0.9"/><path d="M817.7,1482.6 L822.1,1479.9 L821.6,1349.8 L817.2,1352.5Z" fill="#109810"/><path d="M817.2,1352.5 L809.7,1347.7 L814.2,1345 L821.6,1349.8Z" fill="#15c915"/><path d="M817.7,1482.6 L810.4,1477.7 L809.7,1347.7 L817.2,1352.5Z" fill="#18e018" stroke="#0d7b0d" stroke-width="0.9"/><path d="M828.2,1489.6 L832.6,1486.9 L832.4,1374.2 L827.9,1376.9Z" fill="#109810"/><path d="M827.9,1376.9 L820.4,1372.1 L824.9,1369.4 L832.4,1374.2Z" fill="#15c915"/><path d="M828.2,1489.6 L820.9,1484.7 L820.4,1372.1 L827.9,1376.9Z" fill="#18e018" stroke="#0d7b0d" stroke-width="0.9"/><path d="M838.7,1496.7 L843.1,1493.9 L843.1,1317.4 L838.6,1320.1Z" fill="#109810"/><path d="M838.6,1320.1 L831,1315.3 L835.5,1312.6 L843.1,1317.4Z" fill="#15c915"/><path d="M838.7,1496.7 L831.3,1491.7 L831,1315.3 L838.6,1320.1Z" fill="#18e018" stroke="#0d7b0d" stroke-width="0.9"/><path d="M849.3,1503.8 L853.6,1501 L854,1292.4 L849.5,1295.1Z" fill="#109810"/><path d="M849.5,1295.1 L841.8,1290.3 L846.3,1287.6 L854,1292.4Z" fill="#15c915"/><path d="M849.3,1503.8 L841.9,1498.8 L841.8,1290.3 L849.5,1295.1Z" fill="#18e018" stroke="#0d7b0d" stroke-width="0.9"/><path d="M859.9,1510.9 L864.2,1508.1 L865.1,1254.4 L860.5,1257.1Z" fill="#109810"/><path d="M860.5,1257.1 L852.8,1252.3 L857.4,1249.6 L865.1,1254.4Z" fill="#15c915"/><path d="M859.9,1510.9 L852.4,1505.9 L852.8,1252.3 L860.5,1257.1Z" fill="#18e018" stroke="#0d7b0d" stroke-width="0.9"/><path d="M870.5,1518.1 L874.9,1515.3 L876,1302.4 L871.5,1305.1Z" fill="#109810"/><path d="M871.5,1305.1 L863.7,1300.3 L868.3,1297.6 L876,1302.4Z" fill="#15c915"/><path d="M870.5,1518.1 L863.1,1513.1 L863.7,1300.3 L871.5,1305.1Z" fill="#18e018" stroke="#0d7b0d" stroke-width="0.9"/><path d="M881.2,1525.3 L885.6,1522.5 L887.4,1254.4 L882.9,1257.1Z" fill="#109810"/><path d="M882.9,1257.1 L875,1252.3 L879.6,1249.6 L887.4,1254.4Z" fill="#15c915"/><path d="M881.2,1525.3 L873.7,1520.2 L875,1252.3 L882.9,1257.1Z" fill="#18e018" stroke="#0d7b0d" stroke-width="0.9"/><path d="M892,1532.5 L896.3,1529.7 L897.9,1354.5 L893.4,1357.2Z" fill="#109810"/><path d="M893.4,1357.2 L885.6,1352.3 L890.1,1349.5 L897.9,1354.5Z" fill="#15c915"/><path d="M892,1532.5 L884.4,1527.4 L885.6,1352.3 L893.4,1357.2Z" fill="#18e018" stroke="#0d7b0d" stroke-width="0.9"/><path d="M902.8,1539.7 L907.1,1536.9 L909.2,1340.5 L904.7,1343.2Z" fill="#109810"/><path d="M904.7,1343.2 L896.9,1338.3 L901.4,1335.5 L909.2,1340.5Z" fill="#15c915"/><path d="M902.8,1539.7 L895.2,1534.7 L896.9,1338.3 L904.7,1343.2Z" fill="#18e018" stroke="#0d7b0d" stroke-width="0.9"/><path d="M913.6,1547 L918,1544.2 L920.9,1307.5 L916.3,1310.2Z" fill="#109810"/><path d="M916.3,1310.2 L908.4,1305.3 L913,1302.5 L920.9,1307.5Z" fill="#15c915"/><path d="M913.6,1547 L906,1541.9 L908.4,1305.3 L916.3,1310.2Z" fill="#18e018" stroke="#0d7b0d" stroke-width="0.9"/></g>
<path d="M856.1,1613.8 L248.4,1192.2 L252.8,1189.9 L860.6,1610.9Z" fill="#c01313" stroke="#888" stroke-width="0.8" opacity="0.75"/>
<g stroke-linejoin="round"><path d="M269.4,1206.8 L273.8,1204.5 L267.7,1135.5 L263.2,1137.8Z" fill="#a31010"/><path d="M263.2,1137.8 L257.2,1133.8 L261.7,1131.5 L267.7,1135.5Z" fill="#d81515"/><path d="M269.4,1206.8 L263.5,1202.7 L257.2,1133.8 L263.2,1137.8Z" fill="#f01818" stroke="#840d0d" stroke-width="0.9"/><path d="M277.8,1212.6 L282.2,1210.3 L276.2,1141.3 L271.7,1143.6Z" fill="#a31010"/><path d="M271.7,1143.6 L265.7,1139.5 L270.2,1137.3 L276.2,1141.3Z" fill="#d81515"/><path d="M277.8,1212.6 L271.9,1208.5 L265.7,1139.5 L271.7,1143.6Z" fill="#f01818" stroke="#840d0d" stroke-width="0.9"/><path d="M286.3,1218.5 L290.7,1216.2 L283.5,1132.5 L279,1134.8Z" fill="#a31010"/><path d="M279,1134.8 L273,1130.7 L277.5,1128.5 L283.5,1132.5Z" fill="#d81515"/><path d="M286.3,1218.5 L280.4,1214.4 L273,1130.7 L279,1134.8Z" fill="#f01818" stroke="#840d0d" stroke-width="0.9"/><path d="M294.8,1224.4 L299.3,1222.1 L290.9,1123.6 L286.4,1125.9Z" fill="#a31010"/><path d="M286.4,1125.9 L280.3,1121.8 L284.8,1119.6 L290.9,1123.6Z" fill="#d81515"/><path d="M294.8,1224.4 L288.9,1220.3 L280.3,1121.8 L286.4,1125.9Z" fill="#f01818" stroke="#840d0d" stroke-width="0.9"/><path d="M303.4,1230.4 L307.8,1228.1 L298.5,1116.7 L294,1119Z" fill="#a31010"/><path d="M294,1119 L287.9,1114.9 L292.4,1112.7 L298.5,1116.7Z" fill="#d81515"/><path d="M303.4,1230.4 L297.4,1226.2 L287.9,1114.9 L294,1119Z" fill="#f01818" stroke="#840d0d" stroke-width="0.9"/><path d="M312,1236.3 L316.4,1234 L306.2,1109.8 L301.6,1112.1Z" fill="#a31010"/><path d="M301.6,1112.1 L295.5,1108 L300,1105.7 L306.2,1109.8Z" fill="#d81515"/><path d="M312,1236.3 L306,1232.2 L295.5,1108 L301.6,1112.1Z" fill="#f01818" stroke="#840d0d" stroke-width="0.9"/><path d="M320.6,1242.3 L325.1,1240 L311.6,1074 L307,1076.2Z" fill="#a31010"/><path d="M307,1076.2 L300.8,1072.2 L305.4,1069.9 L311.6,1074Z" fill="#d81515"/><path d="M320.6,1242.3 L314.6,1238.1 L300.8,1072.2 L307,1076.2Z" fill="#f01818" stroke="#840d0d" stroke-width="0.9"/><path d="M329.3,1248.3 L333.7,1246 L322.3,1102.9 L317.7,1105.2Z" fill="#a31010"/><path d="M317.7,1105.2 L311.5,1101.1 L316.1,1098.9 L322.3,1102.9Z" fill="#d81515"/><path d="M329.3,1248.3 L323.2,1244.1 L311.5,1101.1 L317.7,1105.2Z" fill="#f01818" stroke="#840d0d" stroke-width="0.9"/><path d="M338,1254.4 L342.4,1252 L329.1,1082.6 L324.5,1084.9Z" fill="#a31010"/><path d="M324.5,1084.9 L318.3,1080.8 L322.9,1078.6 L329.1,1082.6Z" fill="#d81515"/><path d="M338,1254.4 L331.9,1250.1 L318.3,1080.8 L324.5,1084.9Z" fill="#f01818" stroke="#840d0d" stroke-width="0.9"/><path d="M346.7,1260.4 L351.2,1258.1 L336,1062.1 L331.4,1064.4Z" fill="#a31010"/><path d="M331.4,1064.4 L325.1,1060.3 L329.7,1058 L336,1062.1Z" fill="#d81515"/><path d="M346.7,1260.4 L340.6,1256.2 L325.1,1060.3 L331.4,1064.4Z" fill="#f01818" stroke="#840d0d" stroke-width="0.9"/><path d="M355.5,1266.5 L359.9,1264.1 L346.5,1088.1 L342,1090.4Z" fill="#a31010"/><path d="M342,1090.4 L335.7,1086.2 L340.2,1083.9 L346.5,1088.1Z" fill="#d81515"/><path d="M355.5,1266.5 L349.3,1262.3 L335.7,1086.2 L342,1090.4Z" fill="#f01818" stroke="#840d0d" stroke-width="0.9"/><path d="M364.3,1272.6 L368.7,1270.2 L354.8,1084 L350.2,1086.3Z" fill="#a31010"/><path d="M350.2,1086.3 L343.9,1082.2 L348.5,1079.9 L354.8,1084Z" fill="#d81515"/><path d="M364.3,1272.6 L358.1,1268.3 L343.9,1082.2 L350.2,1086.3Z" fill="#f01818" stroke="#840d0d" stroke-width="0.9"/><path d="M373.1,1278.8 L377.6,1276.4 L363.2,1079.9 L358.6,1082.2Z" fill="#a31010"/><path d="M358.6,1082.2 L352.2,1078.1 L356.8,1075.8 L363.2,1079.9Z" fill="#d81515"/><path d="M373.1,1278.8 L366.9,1274.5 L352.2,1078.1 L358.6,1082.2Z" fill="#f01818" stroke="#840d0d" stroke-width="0.9"/><path d="M382,1284.9 L386.5,1282.5 L371.9,1081 L367.3,1083.3Z" fill="#a31010"/><path d="M367.3,1083.3 L360.9,1079.1 L365.5,1076.8 L371.9,1081Z" fill="#d81515"/><path d="M382,1284.9 L375.8,1280.6 L360.9,1079.1 L367.3,1083.3Z" fill="#f01818" stroke="#840d0d" stroke-width="0.9"/><path d="M390.9,1291.1 L395.4,1288.7 L381.2,1088.2 L376.6,1090.5Z" fill="#a31010"/><path d="M376.6,1090.5 L370.2,1086.3 L374.8,1084 L381.2,1088.2Z" fill="#d81515"/><path d="M390.9,1291.1 L384.7,1286.8 L370.2,1086.3 L376.6,1090.5Z" fill="#f01818" stroke="#840d0d" stroke-width="0.9"/><path d="M399.9,1297.3 L404.3,1294.9 L390.5,1095.4 L385.9,1097.7Z" fill="#a31010"/><path d="M385.9,1097.7 L379.4,1093.5 L384,1091.2 L390.5,1095.4Z" fill="#d81515"/><path d="M399.9,1297.3 L393.6,1293 L379.4,1093.5 L385.9,1097.7Z" fill="#f01818" stroke="#840d0d" stroke-width="0.9"/><path d="M408.9,1303.6 L413.3,1301.1 L398.7,1086.1 L394.1,1088.5Z" fill="#a31010"/><path d="M394.1,1088.5 L387.6,1084.3 L392.2,1081.9 L398.7,1086.1Z" fill="#d81515"/><path d="M408.9,1303.6 L402.6,1299.2 L387.6,1084.3 L394.1,1088.5Z" fill="#f01818" stroke="#840d0d" stroke-width="0.9"/><path d="M417.9,1309.8 L422.4,1307.4 L410,1122.5 L405.4,1124.9Z" fill="#a31010"/><path d="M405.4,1124.9 L398.9,1120.7 L403.5,1118.3 L410,1122.5Z" fill="#d81515"/><path d="M417.9,1309.8 L411.6,1305.4 L398.9,1120.7 L405.4,1124.9Z" fill="#f01818" stroke="#840d0d" stroke-width="0.9"/><path d="M427,1316.1 L431.4,1313.7 L419.2,1125.8 L414.6,1128.2Z" fill="#a31010"/><path d="M414.6,1128.2 L408,1123.9 L412.6,1121.6 L419.2,1125.8Z" fill="#d81515"/><path d="M427,1316.1 L420.6,1311.7 L408,1123.9 L414.6,1128.2Z" fill="#f01818" stroke="#840d0d" stroke-width="0.9"/><path d="M436.1,1322.4 L440.5,1320 L428.9,1138.7 L424.3,1141.1Z" fill="#a31010"/><path d="M424.3,1141.1 L417.8,1136.8 L422.4,1134.5 L428.9,1138.7Z" fill="#d81515"/><path d="M436.1,1322.4 L429.7,1318 L417.8,1136.8 L424.3,1141.1Z" fill="#f01818" stroke="#840d0d" stroke-width="0.9"/><path d="M445.2,1328.8 L449.7,1326.3 L437.8,1137.2 L433.2,1139.6Z" fill="#a31010"/><path d="M433.2,1139.6 L426.7,1135.3 L431.3,1132.9 L437.8,1137.2Z" fill="#d81515"/><path d="M445.2,1328.8 L438.8,1324.3 L426.7,1135.3 L433.2,1139.6Z" fill="#f01818" stroke="#840d0d" stroke-width="0.9"/><path d="M454.4,1335.1 L458.9,1332.7 L446.8,1135.7 L442.2,1138.1Z" fill="#a31010"/><path d="M442.2,1138.1 L435.6,1133.8 L440.2,1131.4 L446.8,1135.7Z" fill="#d81515"/><path d="M454.4,1335.1 L448,1330.7 L435.6,1133.8 L442.2,1138.1Z" fill="#f01818" stroke="#840d0d" stroke-width="0.9"/><path d="M463.6,1341.5 L468.1,1339 L457.8,1167.8 L453.2,1170.2Z" fill="#a31010"/><path d="M453.2,1170.2 L446.6,1165.9 L451.2,1163.4 L457.8,1167.8Z" fill="#d81515"/><path d="M463.6,1341.5 L457.2,1337.1 L446.6,1165.9 L453.2,1170.2Z" fill="#f01818" stroke="#840d0d" stroke-width="0.9"/><path d="M472.9,1348 L477.3,1345.5 L467.8,1181.5 L463.2,1183.9Z" fill="#a31010"/><path d="M463.2,1183.9 L456.5,1179.6 L461.1,1177.1 L467.8,1181.5Z" fill="#d81515"/><path d="M472.9,1348 L466.4,1343.5 L456.5,1179.6 L463.2,1183.9Z" fill="#f01818" stroke="#840d0d" stroke-width="0.9"/><path d="M482.2,1354.4 L486.6,1351.9 L477.4,1190 L472.8,1192.4Z" fill="#a31010"/><path d="M472.8,1192.4 L466.2,1188.1 L470.8,1185.6 L477.4,1190Z" fill="#d81515"/><path d="M482.2,1354.4 L475.7,1349.9 L466.2,1188.1 L472.8,1192.4Z" fill="#f01818" stroke="#840d0d" stroke-width="0.9"/><path d="M491.5,1360.9 L496,1358.4 L487.1,1198.5 L482.5,1201Z" fill="#a31010"/><path d="M482.5,1201 L475.8,1196.6 L480.4,1194.1 L487.1,1198.5Z" fill="#d81515"/><path d="M491.5,1360.9 L485,1356.4 L475.8,1196.6 L482.5,1201Z" fill="#f01818" stroke="#840d0d" stroke-width="0.9"/><path d="M500.9,1367.4 L505.4,1364.9 L496.8,1206.5 L492.2,1209Z" fill="#a31010"/><path d="M492.2,1209 L485.5,1204.5 L490.1,1202.1 L496.8,1206.5Z" fill="#d81515"/><path d="M500.9,1367.4 L494.3,1362.8 L485.5,1204.5 L492.2,1209Z" fill="#f01818" stroke="#840d0d" stroke-width="0.9"/><path d="M510.3,1373.9 L514.8,1371.4 L506.5,1215.1 L502,1217.6Z" fill="#a31010"/><path d="M502,1217.6 L495.2,1213.1 L499.8,1210.6 L506.5,1215.1Z" fill="#d81515"/><path d="M510.3,1373.9 L503.7,1369.3 L495.2,1213.1 L502,1217.6Z" fill="#f01818" stroke="#840d0d" stroke-width="0.9"/><path d="M519.8,1380.5 L524.2,1377.9 L516.3,1223.7 L511.7,1226.2Z" fill="#a31010"/><path d="M511.7,1226.2 L505,1221.7 L509.6,1219.2 L516.3,1223.7Z" fill="#d81515"/><path d="M519.8,1380.5 L513.1,1375.9 L505,1221.7 L511.7,1226.2Z" fill="#f01818" stroke="#840d0d" stroke-width="0.9"/><path d="M529.2,1387.1 L533.7,1384.5 L525.3,1215.9 L520.7,1218.4Z" fill="#a31010"/><path d="M520.7,1218.4 L513.9,1214 L518.5,1211.5 L525.3,1215.9Z" fill="#d81515"/><path d="M529.2,1387.1 L522.6,1382.5 L513.9,1214 L520.7,1218.4Z" fill="#f01818" stroke="#840d0d" stroke-width="0.9"/><path d="M538.8,1393.7 L543.3,1391.1 L535.5,1230.3 L530.9,1232.8Z" fill="#a31010"/><path d="M530.9,1232.8 L524.1,1228.3 L528.7,1225.8 L535.5,1230.3Z" fill="#d81515"/><path d="M538.8,1393.7 L532.1,1389.1 L524.1,1228.3 L530.9,1232.8Z" fill="#f01818" stroke="#840d0d" stroke-width="0.9"/><path d="M548.4,1400.3 L552.8,1397.7 L545.7,1244.6 L541.1,1247.1Z" fill="#a31010"/><path d="M541.1,1247.1 L534.2,1242.6 L538.8,1240.1 L545.7,1244.6Z" fill="#d81515"/><path d="M548.4,1400.3 L541.7,1395.7 L534.2,1242.6 L541.1,1247.1Z" fill="#f01818" stroke="#840d0d" stroke-width="0.9"/><path d="M558,1407 L562.5,1404.4 L555.4,1247.5 L550.8,1250.1Z" fill="#a31010"/><path d="M550.8,1250.1 L543.9,1245.5 L548.5,1243 L555.4,1247.5Z" fill="#d81515"/><path d="M558,1407 L551.2,1402.3 L543.9,1245.5 L550.8,1250.1Z" fill="#f01818" stroke="#840d0d" stroke-width="0.9"/><path d="M567.6,1413.7 L572.1,1411.1 L565.1,1250.4 L560.5,1253Z" fill="#a31010"/><path d="M560.5,1253 L553.6,1248.4 L558.2,1245.9 L565.1,1250.4Z" fill="#d81515"/><path d="M567.6,1413.7 L560.9,1409 L553.6,1248.4 L560.5,1253Z" fill="#f01818" stroke="#840d0d" stroke-width="0.9"/><path d="M577.3,1420.4 L581.8,1417.8 L573.8,1228 L569.2,1230.6Z" fill="#a31010"/><path d="M569.2,1230.6 L562.2,1226 L566.8,1223.5 L573.8,1228Z" fill="#d81515"/><path d="M577.3,1420.4 L570.5,1415.7 L562.2,1226 L569.2,1230.6Z" fill="#f01818" stroke="#840d0d" stroke-width="0.9"/><path d="M587.1,1427.2 L591.6,1424.6 L584.9,1260.3 L580.3,1262.8Z" fill="#a31010"/><path d="M580.3,1262.8 L573.3,1258.2 L577.9,1255.7 L584.9,1260.3Z" fill="#d81515"/><path d="M587.1,1427.2 L580.3,1422.5 L573.3,1258.2 L580.3,1262.8Z" fill="#f01818" stroke="#840d0d" stroke-width="0.9"/><path d="M596.9,1434 L601.4,1431.3 L595.5,1281.4 L590.9,1284Z" fill="#a31010"/><path d="M590.9,1284 L583.9,1279.3 L588.5,1276.7 L595.5,1281.4Z" fill="#d81515"/><path d="M596.9,1434 L590,1429.2 L583.9,1279.3 L590.9,1284Z" fill="#f01818" stroke="#840d0d" stroke-width="0.9"/><path d="M606.7,1440.8 L611.2,1438.1 L605.8,1294.6 L601.2,1297.2Z" fill="#a31010"/><path d="M601.2,1297.2 L594.2,1292.5 L598.7,1289.9 L605.8,1294.6Z" fill="#d81515"/><path d="M606.7,1440.8 L599.8,1436 L594.2,1292.5 L601.2,1297.2Z" fill="#f01818" stroke="#840d0d" stroke-width="0.9"/><path d="M616.6,1447.7 L621.1,1445 L615.9,1302.4 L611.3,1305Z" fill="#a31010"/><path d="M611.3,1305 L604.3,1300.3 L608.8,1297.7 L615.9,1302.4Z" fill="#d81515"/><path d="M616.6,1447.7 L609.7,1442.9 L604.3,1300.3 L611.3,1305Z" fill="#f01818" stroke="#840d0d" stroke-width="0.9"/><path d="M626.5,1454.5 L631,1451.8 L626.1,1310.2 L621.5,1312.8Z" fill="#a31010"/><path d="M621.5,1312.8 L614.4,1308.1 L619,1305.5 L626.1,1310.2Z" fill="#d81515"/><path d="M626.5,1454.5 L619.5,1449.7 L614.4,1308.1 L621.5,1312.8Z" fill="#f01818" stroke="#840d0d" stroke-width="0.9"/><path d="M636.4,1461.4 L640.9,1458.7 L636.6,1327.9 L632,1330.5Z" fill="#a31010"/><path d="M632,1330.5 L624.9,1325.8 L629.5,1323.1 L636.6,1327.9Z" fill="#d81515"/><path d="M636.4,1461.4 L629.5,1456.6 L624.9,1325.8 L632,1330.5Z" fill="#f01818" stroke="#840d0d" stroke-width="0.9"/><path d="M646.4,1468.4 L650.9,1465.7 L646.5,1323.1 L641.9,1325.8Z" fill="#a31010"/><path d="M641.9,1325.8 L634.7,1321 L639.3,1318.4 L646.5,1323.1Z" fill="#d81515"/><path d="M646.4,1468.4 L639.4,1463.5 L634.7,1321 L641.9,1325.8Z" fill="#f01818" stroke="#840d0d" stroke-width="0.9"/><path d="M656.5,1475.3 L661,1472.6 L657.7,1361.7 L653.1,1364.4Z" fill="#a31010"/><path d="M653.1,1364.4 L645.9,1359.6 L650.5,1356.9 L657.7,1361.7Z" fill="#d81515"/><path d="M656.5,1475.3 L649.4,1470.5 L645.9,1359.6 L653.1,1364.4Z" fill="#f01818" stroke="#840d0d" stroke-width="0.9"/><path d="M666.6,1482.3 L671.1,1479.6 L667.3,1344.8 L662.7,1347.4Z" fill="#a31010"/><path d="M662.7,1347.4 L655.5,1342.7 L660.1,1340 L667.3,1344.8Z" fill="#d81515"/><path d="M666.6,1482.3 L659.5,1477.4 L655.5,1342.7 L662.7,1347.4Z" fill="#f01818" stroke="#840d0d" stroke-width="0.9"/><path d="M676.7,1489.4 L681.2,1486.6 L677.2,1334.4 L672.6,1337.1Z" fill="#a31010"/><path d="M672.6,1337.1 L665.3,1332.3 L669.9,1329.6 L677.2,1334.4Z" fill="#d81515"/><path d="M676.7,1489.4 L669.6,1484.5 L665.3,1332.3 L672.6,1337.1Z" fill="#f01818" stroke="#840d0d" stroke-width="0.9"/><path d="M686.9,1496.4 L691.4,1493.7 L687.4,1334.9 L682.8,1337.6Z" fill="#a31010"/><path d="M682.8,1337.6 L675.5,1332.8 L680.1,1330.1 L687.4,1334.9Z" fill="#d81515"/><path d="M686.9,1496.4 L679.8,1491.5 L675.5,1332.8 L682.8,1337.6Z" fill="#f01818" stroke="#840d0d" stroke-width="0.9"/><path d="M697.1,1503.5 L701.6,1500.8 L697.8,1335.4 L693.1,1338.1Z" fill="#a31010"/><path d="M693.1,1338.1 L685.8,1333.3 L690.4,1330.6 L697.8,1335.4Z" fill="#d81515"/><path d="M697.1,1503.5 L689.9,1498.6 L685.8,1333.3 L693.1,1338.1Z" fill="#f01818" stroke="#840d0d" stroke-width="0.9"/><path d="M707.4,1510.7 L711.9,1507.9 L708.5,1350.7 L703.9,1353.4Z" fill="#a31010"/><path d="M703.9,1353.4 L696.5,1348.5 L701.1,1345.8 L708.5,1350.7Z" fill="#d81515"/><path d="M707.4,1510.7 L700.2,1505.7 L696.5,1348.5 L703.9,1353.4Z" fill="#f01818" stroke="#840d0d" stroke-width="0.9"/><path d="M717.7,1517.8 L722.2,1515 L719,1357.2 L714.4,1359.9Z" fill="#a31010"/><path d="M714.4,1359.9 L707,1355 L711.6,1352.3 L719,1357.2Z" fill="#d81515"/><path d="M717.7,1517.8 L710.5,1512.8 L707,1355 L714.4,1359.9Z" fill="#f01818" stroke="#840d0d" stroke-width="0.9"/><path d="M728,1525 L732.6,1522.2 L729.7,1363.7 L725,1366.5Z" fill="#a31010"/><path d="M725,1366.5 L717.6,1361.5 L722.2,1358.8 L729.7,1363.7Z" fill="#d81515"/><path d="M728,1525 L720.8,1520 L717.6,1361.5 L725,1366.5Z" fill="#f01818" stroke="#840d0d" stroke-width="0.9"/><path d="M738.5,1532.2 L743,1529.4 L740.2,1361.6 L735.6,1364.4Z" fill="#a31010"/><path d="M735.6,1364.4 L728.1,1359.4 L732.7,1356.7 L740.2,1361.6Z" fill="#d81515"/><path d="M738.5,1532.2 L731.2,1527.2 L728.1,1359.4 L735.6,1364.4Z" fill="#f01818" stroke="#840d0d" stroke-width="0.9"/><path d="M748.9,1539.5 L753.4,1536.6 L750.9,1368.5 L746.3,1371.2Z" fill="#a31010"/><path d="M746.3,1371.2 L738.8,1366.3 L743.4,1363.5 L750.9,1368.5Z" fill="#d81515"/><path d="M748.9,1539.5 L741.6,1534.4 L738.8,1366.3 L746.3,1371.2Z" fill="#f01818" stroke="#840d0d" stroke-width="0.9"/><path d="M759.4,1546.8 L763.9,1543.9 L761.7,1374.5 L757.1,1377.3Z" fill="#a31010"/><path d="M757.1,1377.3 L749.5,1372.3 L754.1,1369.5 L761.7,1374.5Z" fill="#d81515"/><path d="M759.4,1546.8 L752.1,1541.7 L749.5,1372.3 L757.1,1377.3Z" fill="#f01818" stroke="#840d0d" stroke-width="0.9"/><path d="M770,1554.1 L774.5,1551.2 L772.4,1370.5 L767.8,1373.3Z" fill="#a31010"/><path d="M767.8,1373.3 L760.1,1368.3 L764.8,1365.5 L772.4,1370.5Z" fill="#d81515"/><path d="M770,1554.1 L762.6,1548.9 L760.1,1368.3 L767.8,1373.3Z" fill="#f01818" stroke="#840d0d" stroke-width="0.9"/><path d="M780.5,1561.4 L785.1,1558.6 L782.7,1320.5 L778.1,1323.2Z" fill="#a31010"/><path d="M778.1,1323.2 L770.4,1318.3 L775,1315.5 L782.7,1320.5Z" fill="#d81515"/><path d="M780.5,1561.4 L773.1,1556.3 L770.4,1318.3 L778.1,1323.2Z" fill="#f01818" stroke="#840d0d" stroke-width="0.9"/><path d="M791.2,1568.8 L795.7,1565.9 L794.1,1366.5 L789.5,1369.3Z" fill="#a31010"/><path d="M789.5,1369.3 L781.8,1364.3 L786.4,1361.5 L794.1,1366.5Z" fill="#d81515"/><path d="M791.2,1568.8 L783.7,1563.6 L781.8,1364.3 L789.5,1369.3Z" fill="#f01818" stroke="#840d0d" stroke-width="0.9"/><path d="M801.9,1576.2 L806.4,1573.3 L805,1347.5 L800.3,1350.3Z" fill="#a31010"/><path d="M800.3,1350.3 L792.5,1345.3 L797.2,1342.5 L805,1347.5Z" fill="#d81515"/><path d="M801.9,1576.2 L794.4,1571 L792.5,1345.3 L800.3,1350.3Z" fill="#f01818" stroke="#840d0d" stroke-width="0.9"/><path d="M812.6,1583.7 L817.1,1580.8 L816.3,1395.5 L811.7,1398.4Z" fill="#a31010"/><path d="M811.7,1398.4 L803.9,1393.3 L808.6,1390.5 L816.3,1395.5Z" fill="#d81515"/><path d="M812.6,1583.7 L805.1,1578.5 L803.9,1393.3 L811.7,1398.4Z" fill="#f01818" stroke="#840d0d" stroke-width="0.9"/><path d="M823.4,1591.2 L827.9,1588.2 L827.3,1357.5 L822.6,1360.4Z" fill="#a31010"/><path d="M822.6,1360.4 L814.8,1355.3 L819.5,1352.5 L827.3,1357.5Z" fill="#d81515"/><path d="M823.4,1591.2 L815.9,1585.9 L814.8,1355.3 L822.6,1360.4Z" fill="#f01818" stroke="#840d0d" stroke-width="0.9"/><path d="M834.2,1598.7 L838.8,1595.7 L838.5,1293.5 L833.8,1296.3Z" fill="#a31010"/><path d="M833.8,1296.3 L825.8,1291.3 L830.5,1288.5 L838.5,1293.5Z" fill="#d81515"/><path d="M834.2,1598.7 L826.7,1593.4 L825.8,1291.3 L833.8,1296.3Z" fill="#f01818" stroke="#840d0d" stroke-width="0.9"/></g>
<g fill="none" stroke="#000" stroke-width="3.6" stroke-linecap="butt">
<path d="M160.3,1224.5 L776.4,1666.1 L1430,1237 L1504.8,422.5"/>
<path d="M776.4,1666.1 l-18.4,12.1"/>
<path d="M722.3,1627.3 l-9.3,5.9"/>
<path d="M669.4,1589.4 l-18.6,11.7"/>
<path d="M617.7,1552.4 l-9.4,5.8"/>
<path d="M567.2,1516.2 l-18.8,11.4"/>
<path d="M517.8,1480.7 l-9.5,5.6"/>
<path d="M469.4,1446.1 l-19,11"/>
<path d="M422.1,1412.2 l-9.6,5.4"/>
<path d="M375.8,1379 l-19.2,10.7"/>
<path d="M330.4,1346.5 l-9.7,5.3"/>
<path d="M286,1314.7 l-19.4,10.4"/>
<path d="M242.5,1283.5 l-9.7,5.1"/>
<path d="M199.9,1253 l-19.5,10.1"/>
<path d="M776.4,1666.1 l17.9,12.8"/>
<path d="M817.7,1639 l9,6.3"/>
<path d="M858.3,1612.3 l18.1,12.5"/>
<path d="M898.3,1586.1 l9.1,6.2"/>
<path d="M937.6,1560.3 l18.3,12.3"/>
<path d="M976.4,1534.8 l9.2,6.1"/>
<path d="M1014.5,1509.8 l18.4,12"/>
<path d="M1052.1,1485.1 l9.3,5.9"/>
<path d="M1089,1460.8 l18.6,11.7"/>
<path d="M1125.4,1436.9 l9.3,5.8"/>
<path d="M1161.3,1413.4 l18.8,11.5"/>
<path d="M1196.6,1390.2 l9.4,5.7"/>
<path d="M1231.5,1367.3 l18.9,11.3"/>
<path d="M1265.8,1344.8 l9.5,5.6"/>
<path d="M1299.6,1322.6 l19,11"/>
<path d="M1332.9,1300.7 l9.6,5.5"/>
<path d="M1365.7,1279.2 l19.2,10.8"/>
<path d="M1398.1,1257.9 l9.6,5.3"/>
<path d="M1430,1237 l19.3,10.6"/>
<path d="M1434.2,1191.5 l9.7,5.2"/>
<path d="M1438.4,1145.4 l19.4,10.3"/>
<path d="M1442.7,1098.6 l9.8,5.1"/>
<path d="M1447.1,1051.1 l19.6,10"/>
<path d="M1451.5,1003 l9.8,4.9"/>
<path d="M1456,954.1 l19.7,9.7"/>
<path d="M1460.5,904.5 l9.9,4.8"/>
<path d="M1465.1,854.2 l19.9,9.4"/>
<path d="M1469.8,803.1 l10,4.6"/>
<path d="M1474.6,751.2 l20,9.1"/>
<path d="M1479.4,698.5 l10.1,4.5"/>
<path d="M1484.4,645 l20.2,8.8"/>
<path d="M1489.3,590.7 l10.1,4.3"/>
<path d="M1494.4,535.5 l20.3,8.4"/>
<path d="M1499.6,479.5 l10.2,4.1"/>
<path d="M1504.8,422.5 l20.5,8"/>
</g>
<g font-family="'Liberation Serif',serif" font-weight="bold" fill="#000">
<text font-size="100" text-anchor="middle" transform="matrix(0.4996 -0.3281 0.4603 0.3390 726.2795 1699.0399)" y="33" stroke="#000" stroke-width="2.17">0</text>
<text font-size="100" text-anchor="middle" transform="matrix(0.4982 -0.3131 0.4393 0.3236 618.6345 1621.3566)" y="33" stroke="#000" stroke-width="2.21">10</text>
<text font-size="100" text-anchor="middle" transform="matrix(0.4963 -0.2992 0.4198 0.3092 515.8019 1547.1295)" y="33" stroke="#000" stroke-width="2.24">20</text>
<text font-size="100" text-anchor="middle" transform="matrix(0.4942 -0.2862 0.4015 0.2957 417.4657 1476.1342)" y="33" stroke="#000" stroke-width="2.28">30</text>
<text font-size="100" text-anchor="middle" transform="matrix(0.4917 -0.2740 0.3844 0.2831 323.3368 1408.1649)" y="33" stroke="#000" stroke-width="2.31">40</text>
<text font-size="100" text-anchor="middle" transform="matrix(0.4890 -0.2625 0.3683 0.2713 233.1506 1343.0330)" y="33" stroke="#000" stroke-width="2.34">50</text>
<text font-size="100" text-anchor="middle" transform="matrix(0.4862 -0.2518 0.3533 0.2602 146.6640 1280.5651)" y="33" stroke="#000" stroke-width="2.37">60</text>
<text font-size="100" text-anchor="start" font-style="italic" transform="matrix(0.5230 0.3625 -0.4471 0.4032 884.6236 1630.5639)" y="33" stroke="#000" stroke-width="2.04">C-A1</text>
<text font-size="100" text-anchor="start" font-style="italic" transform="matrix(0.5231 0.3511 -0.4294 0.3913 964.2116 1578.0840)" y="33" stroke="#000" stroke-width="2.06">U-A1</text>
<text font-size="100" text-anchor="start" font-style="italic" transform="matrix(0.5230 0.3402 -0.4127 0.3798 1041.3287 1527.2286)" y="33" stroke="#000" stroke-width="2.08">C-A2</text>
<text font-size="100" text-anchor="start" font-style="italic" transform="matrix(0.5226 0.3298 -0.3970 0.3687 1116.0884 1477.9235)" y="33" stroke="#000" stroke-width="2.10">U-A2</text>
<text font-size="100" text-anchor="start" font-style="italic" transform="matrix(0.5220 0.3199 -0.3821 0.3580 1188.5972 1430.0993)" y="33" stroke="#000" stroke-width="2.12">C-A3</text>
<text font-size="100" text-anchor="start" font-style="italic" transform="matrix(0.5212 0.3104 -0.3681 0.3477 1258.9554 1383.6904)" y="33" stroke="#000" stroke-width="2.14">U-A3</text>
<text font-size="100" text-anchor="start" font-style="italic" transform="matrix(0.5202 0.3014 -0.3548 0.3377 1327.2573 1338.6350)" y="33" stroke="#000" stroke-width="2.16">C-A4</text>
<text font-size="100" text-anchor="start" font-style="italic" transform="matrix(0.5191 0.2927 -0.3422 0.3281 1393.5919 1294.8750)" y="33" stroke="#000" stroke-width="2.18">U-A4</text>
<text font-size="100" text-anchor="start" transform="matrix(0.5034 0.2765 -0.0513 0.5083 1456.2901 1251.3926)" y="33" stroke="#000" stroke-width="2.26">0.00</text>
<text font-size="100" text-anchor="start" transform="matrix(0.5116 0.2718 -0.0528 0.5232 1464.8974 1159.4457)" y="33" stroke="#000" stroke-width="2.24">0.01</text>
<text font-size="100" text-anchor="start" transform="matrix(0.5200 0.2667 -0.0544 0.5387 1473.7523 1064.8149)" y="33" stroke="#000" stroke-width="2.22">0.02</text>
<text font-size="100" text-anchor="start" transform="matrix(0.5287 0.2612 -0.0560 0.5549 1482.8653 967.3812)" y="33" stroke="#000" stroke-width="2.20">0.03</text>
<text font-size="100" text-anchor="start" transform="matrix(0.5377 0.2553 -0.0577 0.5718 1492.2476 867.0181)" y="33" stroke="#000" stroke-width="2.18">0.04</text>
<text font-size="100" text-anchor="start" transform="matrix(0.5471 0.2488 -0.0595 0.5895 1501.9108 763.5918)" y="33" stroke="#000" stroke-width="2.16">0.05</text>
<text font-size="100" text-anchor="start" transform="matrix(0.5567 0.2418 -0.0614 0.6081 1511.8674 656.9598)" y="33" stroke="#000" stroke-width="2.14">0.06</text>
<text font-size="100" text-anchor="start" transform="matrix(0.5667 0.2343 -0.0633 0.6276 1522.1305 546.9712)" y="33" stroke="#000" stroke-width="2.12">0.07</text>
<text font-size="100" text-anchor="start" transform="matrix(0.5771 0.2261 -0.0654 0.6480 1532.7140 433.4649)" y="33" stroke="#000" stroke-width="2.10">0.08</text>
<text font-size="100" text-anchor="middle" font-style="italic" transform="matrix(0.4836 0.3651 -0.4780 0.5332 316.0000 1530.0000)" y="0" stroke="#000" stroke-width="2.15">Misorientation angle(deg.)</text>
<text font-size="100" text-anchor="middle" font-style="italic" transform="matrix(0.0788 -0.6904 0.6870 0.1525 1656.0000 935.0000)" y="0" stroke="#000" stroke-width="1.87">Relative frenquency</text>
</g>
<g font-family="'Liberation Serif',serif" fill="#000">
<text x="51.5" y="2016" font-size="139">(b)</text>
<text x="154" y="3429" font-size="135">(c)</text>
</g>
<g font-family="'Liberation Serif',serif" font-weight="bold" fill="#000">
<rect x="379.8" y="2659.8" width="134.6" height="432.5" fill="#ffcf94" stroke="#555" stroke-width="2.4"/>
<rect x="514.4" y="2676.9" width="134.6" height="415.4" fill="#9ad89a" stroke="#555" stroke-width="2.4"/>
<text x="447.1" y="2647.8" font-size="44" text-anchor="middle">23.95</text>
<text x="581.7" y="2664.9" font-size="44" text-anchor="middle">23</text>
<text x="514.4" y="3159.5" font-size="55" text-anchor="middle">B1</text>
<rect x="715.8" y="2297.7" width="134.6" height="794.6" fill="#ffcf94" stroke="#555" stroke-width="2.4"/>
<rect x="850.4" y="2566.8" width="134.6" height="525.5" fill="#9ad89a" stroke="#555" stroke-width="2.4"/>
<text x="783.1" y="2285.7" font-size="44" text-anchor="middle">44</text>
<text x="917.7" y="2554.8" font-size="44" text-anchor="middle">29.1</text>
<text x="850.4" y="3159.5" font-size="55" text-anchor="middle">B2</text>
<rect x="1051.7" y="2482.8" width="134.6" height="609.5" fill="#ffcf94" stroke="#555" stroke-width="2.4"/>
<rect x="1186.3" y="2573.1" width="134.6" height="519.2" fill="#9ad89a" stroke="#555" stroke-width="2.4"/>
<text x="1119" y="2470.8" font-size="44" text-anchor="middle">33.75</text>
<text x="1253.6" y="2561.1" font-size="44" text-anchor="middle">28.75</text>
<text x="1186.3" y="3159.5" font-size="55" text-anchor="middle">B3</text>
<rect x="1387.7" y="2177.6" width="134.6" height="914.7" fill="#ffcf94" stroke="#555" stroke-width="2.4"/>
<rect x="1522.3" y="2760" width="134.6" height="332.3" fill="#9ad89a" stroke="#555" stroke-width="2.4"/>
<text x="1455" y="2165.6" font-size="44" text-anchor="middle">50.65</text>
<text x="1589.6" y="2748" font-size="44" text-anchor="middle">18.4</text>
<text x="1522.3" y="3159.5" font-size="55" text-anchor="middle">B4</text>
<rect x="346.4" y="2099" width="1343.9" height="993.3" fill="none" stroke="#000" stroke-width="4"/>
<text x="324" y="3108.8" font-size="50" text-anchor="end">0</text>
<text x="324" y="3018.5" font-size="50" text-anchor="end">5</text>
<text x="324" y="2928.2" font-size="50" text-anchor="end">10</text>
<text x="324" y="2837.9" font-size="50" text-anchor="end">15</text>
<text x="324" y="2747.6" font-size="50" text-anchor="end">20</text>
<text x="324" y="2657.3" font-size="50" text-anchor="end">25</text>
<text x="324" y="2567" font-size="50" text-anchor="end">30</text>
<text x="324" y="2476.7" font-size="50" text-anchor="end">35</text>
<text x="324" y="2386.4" font-size="50" text-anchor="end">40</text>
<text x="324" y="2296.1" font-size="50" text-anchor="end">45</text>
<text x="324" y="2205.8" font-size="50" text-anchor="end">50</text>
<text x="324" y="2115.5" font-size="50" text-anchor="end">55</text>
<path d="M346.4,3092.3 h18 M346.4,3002 h18 M346.4,2911.7 h18 M346.4,2821.4 h18 M346.4,2731.1 h18 M346.4,2640.8 h18 M346.4,2550.5 h18 M346.4,2460.2 h18 M346.4,2369.9 h18 M346.4,2279.6 h18 M346.4,2189.3 h18 M346.4,2099 h18 M346.4,3047.2 h10 M346.4,2956.9 h10 M346.4,2866.6 h10 M346.4,2776.2 h10 M346.4,2686 h10 M346.4,2595.7 h10 M346.4,2505.4 h10 M346.4,2415.1 h10 M346.4,2324.8 h10 M346.4,2234.4 h10 M346.4,2144.2 h10" stroke="#000" stroke-width="4" fill="none"/>
<text font-size="60" text-anchor="middle" transform="translate(250.5 2596.5) rotate(-90)">LAGBs fraction(%)</text>
<rect x="828.7" y="2110.7" width="354.6" height="138.3" fill="#fff" stroke="#aaa" stroke-width="2.6"/>
<rect x="835.1" y="2120.2" width="116.7" height="57.1" fill="#ffcf94" stroke="#666" stroke-width="2.4"/>
<rect x="835.1" y="2185.6" width="116.7" height="58.3" fill="#9ad89a" stroke="#666" stroke-width="2.4"/>
<text x="966.4" y="2163.4" font-size="51">FSW</text>
<text x="966.4" y="2231.2" font-size="51" letter-spacing="1.3">UVeFSW</text>
</g>
<g font-family="'Liberation Serif',serif" font-weight="bold" fill="#000">
<rect x="421.5" y="4018.7" width="121.5" height="457.5" fill="#3232f5" stroke="#444" stroke-width="2"/>
<rect x="421.5" y="3551.3" width="121.5" height="467.4" fill="#ffff32" stroke="#555" stroke-width="2"/>
<rect x="421.5" y="3513.3" width="121.5" height="38" fill="#f53232" stroke="#555" stroke-width="2"/>
<text x="482.2" y="4268" font-size="54" text-anchor="middle" fill="#fff">47.51</text>
<text x="482.2" y="3805.5" font-size="54" text-anchor="middle">48.54</text>
<text x="482.2" y="3552.3" font-size="54" text-anchor="middle" fill="#fff">3.95</text>
<text x="482.2" y="4540" font-size="51" text-anchor="middle">C-B1</text>
<rect x="571.1" y="3863.3" width="121.5" height="612.9" fill="#3232f5" stroke="#444" stroke-width="2"/>
<rect x="571.1" y="3560.7" width="121.5" height="302.6" fill="#ffff32" stroke="#555" stroke-width="2"/>
<rect x="571.1" y="3513.3" width="121.5" height="47.4" fill="#f53232" stroke="#555" stroke-width="2"/>
<text x="631.8" y="4190.3" font-size="54" text-anchor="middle" fill="#fff">63.65</text>
<text x="631.8" y="3732.5" font-size="54" text-anchor="middle">31.43</text>
<text x="631.8" y="3557" font-size="54" text-anchor="middle" fill="#fff">4.92</text>
<text x="631.8" y="4540" font-size="51" text-anchor="middle">U-B1</text>
<rect x="720.7" y="4174.7" width="121.5" height="301.5" fill="#3232f5" stroke="#444" stroke-width="2"/>
<rect x="720.7" y="3553.5" width="121.5" height="621.3" fill="#ffff32" stroke="#555" stroke-width="2"/>
<rect x="720.7" y="3513.3" width="121.5" height="40.2" fill="#f53232" stroke="#555" stroke-width="2"/>
<text x="781.4" y="4346" font-size="54" text-anchor="middle" fill="#fff">31.31</text>
<text x="781.4" y="3884.6" font-size="54" text-anchor="middle">64.52</text>
<text x="781.4" y="3553.4" font-size="54" text-anchor="middle" fill="#fff">4.17</text>
<text x="781.4" y="4540" font-size="51" text-anchor="middle">C-B2</text>
<rect x="870.3" y="3915.5" width="121.5" height="560.7" fill="#3232f5" stroke="#444" stroke-width="2"/>
<rect x="870.3" y="3550.3" width="121.5" height="365.2" fill="#ffff32" stroke="#555" stroke-width="2"/>
<rect x="870.3" y="3513.3" width="121.5" height="37" fill="#f53232" stroke="#555" stroke-width="2"/>
<text x="931" y="4216.4" font-size="54" text-anchor="middle" fill="#fff">58.23</text>
<text x="931" y="3753.4" font-size="54" text-anchor="middle">37.93</text>
<text x="931" y="3551.8" font-size="54" text-anchor="middle" fill="#fff">3.84</text>
<text x="931" y="4540" font-size="51" text-anchor="middle">U-B2</text>
<rect x="1019.9" y="3881.6" width="121.5" height="594.6" fill="#3232f5" stroke="#444" stroke-width="2"/>
<rect x="1019.9" y="3565.9" width="121.5" height="315.7" fill="#ffff32" stroke="#555" stroke-width="2"/>
<rect x="1019.9" y="3513.3" width="121.5" height="52.6" fill="#f53232" stroke="#555" stroke-width="2"/>
<text x="1080.7" y="4199.4" font-size="54" text-anchor="middle" fill="#fff">61.75</text>
<text x="1080.7" y="3744.2" font-size="54" text-anchor="middle">32.79</text>
<text x="1080.7" y="3559.6" font-size="54" text-anchor="middle" fill="#fff">5.46</text>
<text x="1080.7" y="4540" font-size="51" text-anchor="middle">C-B3</text>
<rect x="1169.5" y="3837.7" width="121.5" height="638.5" fill="#3232f5" stroke="#444" stroke-width="2"/>
<rect x="1169.5" y="3557.6" width="121.5" height="280.1" fill="#ffff32" stroke="#555" stroke-width="2"/>
<rect x="1169.5" y="3513.3" width="121.5" height="44.3" fill="#f53232" stroke="#555" stroke-width="2"/>
<text x="1230.3" y="4177.5" font-size="54" text-anchor="middle" fill="#fff">66.31</text>
<text x="1230.3" y="3718.1" font-size="54" text-anchor="middle">29.09</text>
<text x="1230.3" y="3555.4" font-size="54" text-anchor="middle" fill="#fff">4.6</text>
<text x="1230.3" y="4540" font-size="51" text-anchor="middle">U-B3</text>
<rect x="1319.1" y="3974.4" width="121.5" height="501.8" fill="#3232f5" stroke="#444" stroke-width="2"/>
<rect x="1319.1" y="3552.7" width="121.5" height="421.8" fill="#ffff32" stroke="#555" stroke-width="2"/>
<rect x="1319.1" y="3513.3" width="121.5" height="39.4" fill="#f53232" stroke="#555" stroke-width="2"/>
<text x="1379.9" y="4245.8" font-size="54" text-anchor="middle" fill="#fff">52.11</text>
<text x="1379.9" y="3784.1" font-size="54" text-anchor="middle">43.8</text>
<text x="1379.9" y="3553" font-size="54" text-anchor="middle" fill="#fff">4.09</text>
<text x="1379.9" y="4540" font-size="51" text-anchor="middle">C-B4</text>
<rect x="1468.7" y="3875.4" width="121.5" height="600.8" fill="#3232f5" stroke="#444" stroke-width="2"/>
<rect x="1468.7" y="3552.5" width="121.5" height="322.9" fill="#ffff32" stroke="#555" stroke-width="2"/>
<rect x="1468.7" y="3513.3" width="121.5" height="39.2" fill="#f53232" stroke="#555" stroke-width="2"/>
<text x="1529.5" y="4196.3" font-size="54" text-anchor="middle" fill="#fff">62.4</text>
<text x="1529.5" y="3734.4" font-size="54" text-anchor="middle">33.53</text>
<text x="1529.5" y="3552.9" font-size="54" text-anchor="middle" fill="#fff">4.07</text>
<text x="1529.5" y="4540" font-size="51" text-anchor="middle">U-B4</text>
<rect x="407.4" y="3513.3" width="1196.9" height="962.9" fill="none" stroke="#000" stroke-width="3.6"/>
<text x="386" y="4493.2" font-size="51" text-anchor="end">0</text>
<text x="386" y="4300.6" font-size="51" text-anchor="end">20</text>
<text x="386" y="4108" font-size="51" text-anchor="end">40</text>
<text x="386" y="3915.5" font-size="51" text-anchor="end">60</text>
<text x="386" y="3722.9" font-size="51" text-anchor="end">80</text>
<text x="386" y="3530.3" font-size="51" text-anchor="end">100</text>
<path d="M407.4,4476.2 h18 M407.4,4379.9 h10 M407.4,4283.6 h18 M407.4,4187.3 h10 M407.4,4091 h18 M407.4,3994.8 h10 M407.4,3898.5 h18 M407.4,3802.2 h10 M407.4,3705.9 h18 M407.4,3609.6 h10 M407.4,3513.3 h18" stroke="#000" stroke-width="3.6" fill="none"/>
<text font-size="62" text-anchor="middle" transform="translate(280.5 3991.5) rotate(-90)">Number fraction(%)</text>
<text x="1005.5" y="4638" font-size="61" text-anchor="middle">Regions</text>
<rect x="696" y="3902" width="616.3" height="202" fill="#fff" stroke="#999" stroke-width="3"/>
<rect x="703.3" y="3911.4" width="113.2" height="55.2" fill="#f53232" stroke="#555" stroke-width="2"/>
<text x="831.3" y="3953.6" font-size="52">Deformed grains</text>
<rect x="703.3" y="3976.2" width="113.2" height="55.2" fill="#ffff32" stroke="#555" stroke-width="2"/>
<text x="831.3" y="4018.7" font-size="52">Substructured grains</text>
<rect x="703.3" y="4040.9" width="113.2" height="55.2" fill="#3232f5" stroke="#555" stroke-width="2"/>
<text x="831.3" y="4083.1" font-size="52">Recrystallized grains</text>
</g>
</svg>
</body></html>
